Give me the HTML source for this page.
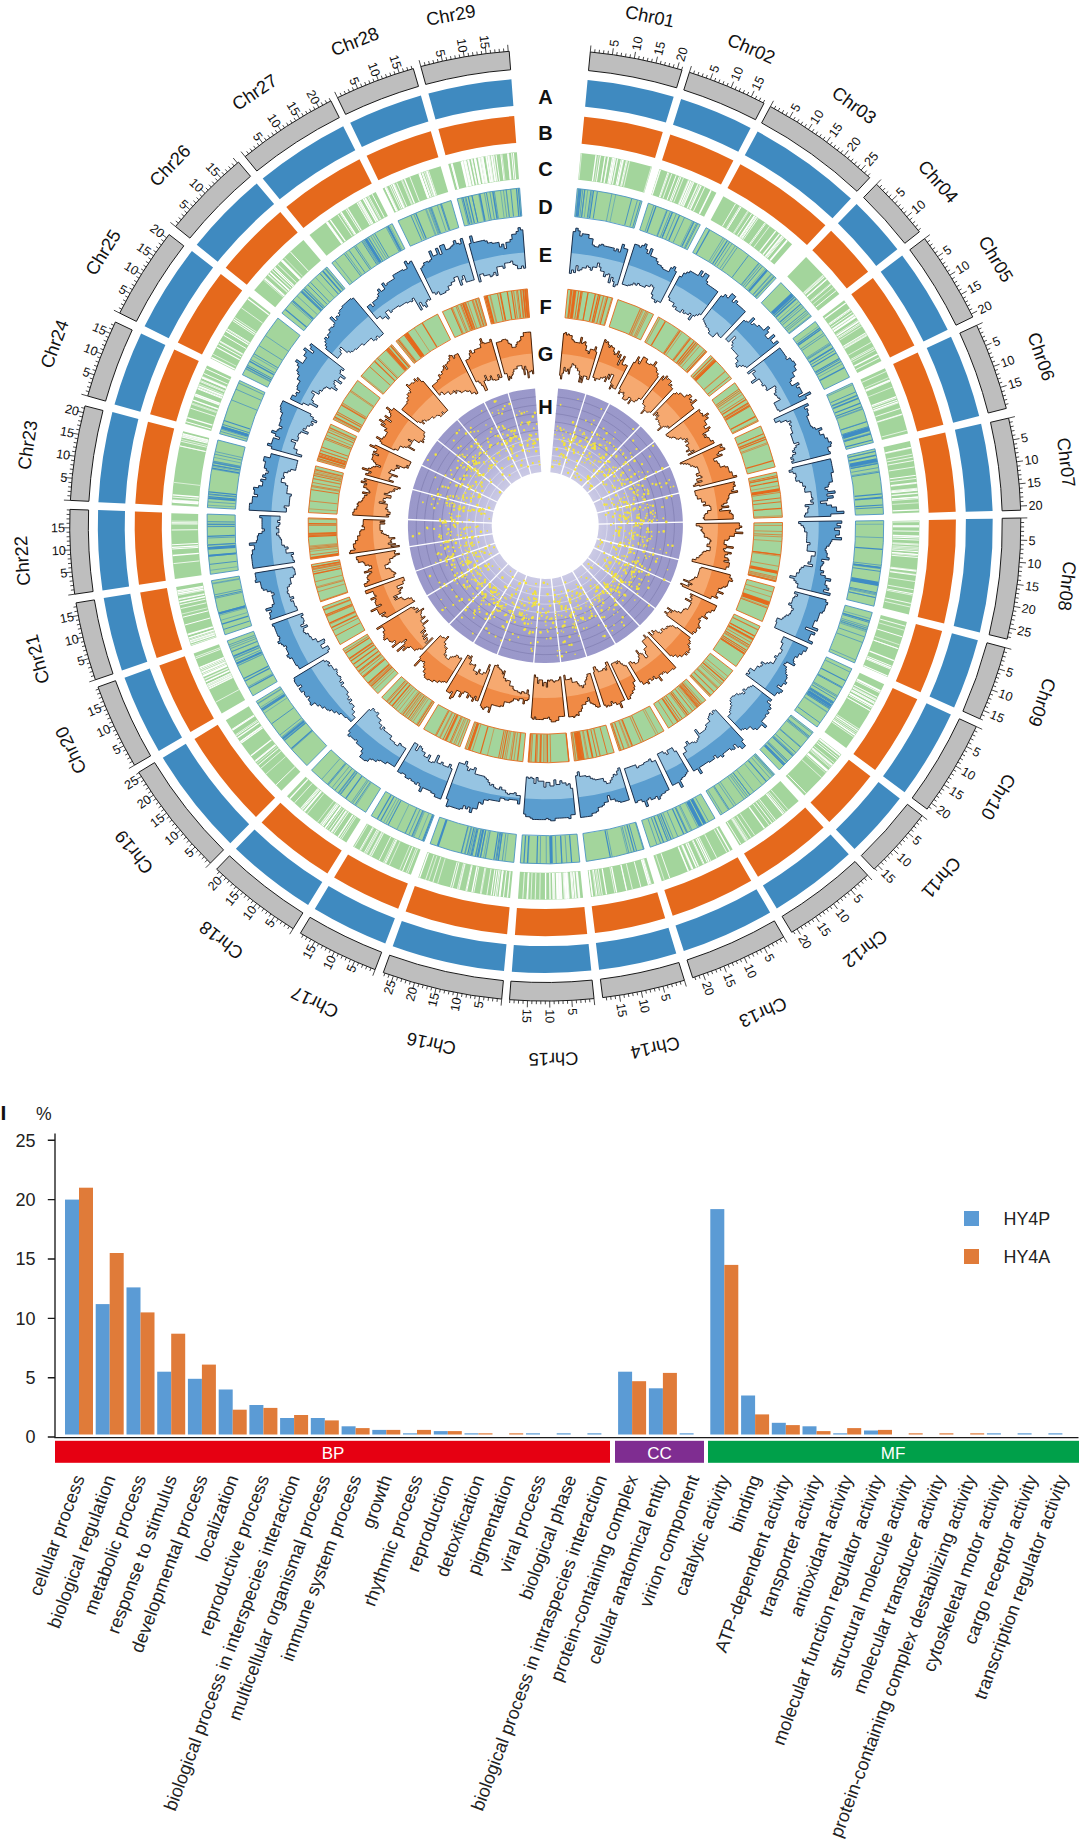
<!DOCTYPE html>
<html lang="en"><head><meta charset="utf-8"><title>Circos and GO classification</title>
<style>html,body{margin:0;padding:0;background:#fff}body{width:1080px;height:1843px;overflow:hidden;font-family:"Liberation Sans",sans-serif}svg{display:block}</style>
</head><body>
<svg width="1080" height="1843" viewBox="0 0 1080 1843" font-family="'Liberation Sans', sans-serif"><g fill="#bebebe" stroke="#1a1a1a" stroke-width="1"><path d="M590.3 52A475.6 475.6 0 0 1 682 70L676.6 87.8A457 457 0 0 0 588.5 70.6Z"/><path d="M689.4 72.3A475.6 475.6 0 0 1 764 103.2L755.5 119.7A457 457 0 0 0 683.8 90Z"/><path d="M770.4 106.5A475.6 475.6 0 0 1 869.7 177.7L857 191.3A457 457 0 0 0 761.6 122.9Z"/><path d="M876.5 184.2A475.6 475.6 0 0 1 919.4 231.8L904.8 243.3A457 457 0 0 0 863.6 197.5Z"/><path d="M924.6 238.6A475.6 475.6 0 0 1 972.8 317L956 325.2A457 457 0 0 0 909.8 249.8Z"/><path d="M976.7 325.3A475.6 475.6 0 0 1 1006.3 408.4L988.2 413A457 457 0 0 0 959.8 333.1Z"/><path d="M1008.6 418.1A475.6 475.6 0 0 1 1020.7 510.2L1002.1 510.8A457 457 0 0 0 990.5 422.3Z"/><path d="M1020.8 518A475.6 475.6 0 0 1 1007.1 639.1L989.1 634.7A457 457 0 0 0 1002.2 518.3Z"/><path d="M1005 647.6A475.6 475.6 0 0 1 979.8 718.8L962.9 711.2A457 457 0 0 0 987 642.8Z"/><path d="M976.3 726.6A475.6 475.6 0 0 1 927.1 809.1L912.2 798A457 457 0 0 0 959.4 718.8Z"/><path d="M922.1 815.7A475.6 475.6 0 0 1 874.2 869.1L861.3 855.6A457 457 0 0 0 907.4 804.3Z"/><path d="M867.6 875.2A475.6 475.6 0 0 1 791.7 932.3L782.1 916.4A457 457 0 0 0 855 861.5Z"/><path d="M783.7 937A475.6 475.6 0 0 1 692.7 977.7L687 960A457 457 0 0 0 774.4 920.9Z"/><path d="M684.4 980.3A475.6 475.6 0 0 1 602.7 997.6L600.4 979.2A457 457 0 0 0 678.9 962.5Z"/><path d="M594 998.6A475.6 475.6 0 0 1 509.5 999.7L510.9 981.2A457 457 0 0 0 592.1 980.1Z"/><path d="M501.7 999.1A475.6 475.6 0 0 1 383.3 972.6L389.6 955.2A457 457 0 0 0 503.4 980.6Z"/><path d="M375.1 969.6A475.6 475.6 0 0 1 300.4 933.2L310 917.3A457 457 0 0 0 381.7 952.2Z"/><path d="M293.1 928.7A475.6 475.6 0 0 1 216.6 869.2L229.5 855.8A457 457 0 0 0 302.9 912.9Z"/><path d="M210.4 863.1A475.6 475.6 0 0 1 138.7 772.3L154.6 762.6A457 457 0 0 0 223.5 849.9Z"/><path d="M134.5 765.2A475.6 475.6 0 0 1 98 687L115.5 680.7A457 457 0 0 0 150.6 755.9Z"/><path d="M95.4 679.8A475.6 475.6 0 0 1 76 602.9L94.4 599.9A457 457 0 0 0 113 673.8Z"/><path d="M74.7 594.2A475.6 475.6 0 0 1 70 509.4L88.6 510A457 457 0 0 0 93.1 591.5Z"/><path d="M70.4 500.4A475.6 475.6 0 0 1 85 405.9L103 410.5A457 457 0 0 0 88.9 501.3Z"/><path d="M87.7 396A475.6 475.6 0 0 1 115.4 322L132.2 330A457 457 0 0 0 105.6 401.1Z"/><path d="M119.7 313.1A475.6 475.6 0 0 1 169.1 234.5L183.8 245.9A457 457 0 0 0 136.4 321.4Z"/><path d="M175.5 226.5A475.6 475.6 0 0 1 238.5 162.1L250.5 176.3A457 457 0 0 0 189.9 238.1Z"/><path d="M245.1 156.6A475.6 475.6 0 0 1 330.9 100.9L339.3 117.6A457 457 0 0 0 256.8 171Z"/><path d="M337.5 97.7A475.6 475.6 0 0 1 413.3 68.6L418.5 86.4A457 457 0 0 0 345.6 114.4Z"/><path d="M420.8 66.5A475.6 475.6 0 0 1 509.2 51.3L510.6 69.8A457 457 0 0 0 425.7 84.4Z"/></g>
<path d="M590.3 52l0.6 -6.5M594.7 52.5l0.3 -3.2M599.1 53l0.4 -3.2M603.5 53.5l0.4 -3.2M608 54l0.4 -3.2M612.4 54.7l0.9 -6.4M616.7 55.3l0.5 -3.2M621.1 56l0.5 -3.2M625.5 56.7l0.5 -3.2M629.9 57.5l0.6 -3.1M634.3 58.3l1.2 -6.4M638.6 59.1l0.6 -3.1M643 60l0.7 -3.1M647.3 61l0.7 -3.1M651.6 61.9l0.7 -3.1M656 63l1.5 -6.3M660.3 64l0.8 -3.1M664.6 65.1l0.8 -3.1M668.9 66.2l0.8 -3.1M673.2 67.4l0.9 -3.1M677.4 68.6l1.8 -6.2M681.7 69.9l0.9 -3.1M689.4 72.3l2 -6.2M693.6 73.6l1 -3M697.9 75l1 -3M702.1 76.5l1.1 -3M706.2 78l1.1 -3M710.4 79.5l2.3 -6.1M714.6 81l1.1 -3M718.7 82.6l1.2 -3M722.8 84.3l1.2 -3M727 86l1.2 -3M731.1 87.7l2.5 -6M735.1 89.4l1.3 -2.9M739.2 91.2l1.3 -2.9M743.2 93.1l1.3 -2.9M747.3 94.9l1.4 -2.9M751.3 96.8l2.8 -5.9M755.3 98.8l1.4 -2.9M759.3 100.7l1.4 -2.9M763.2 102.8l1.5 -2.8M770.4 106.5l3.1 -5.7M774.3 108.7l1.5 -2.8M778.2 110.8l1.6 -2.8M782.1 113l1.6 -2.8M785.9 115.2l1.6 -2.8M789.7 117.5l3.3 -5.6M793.5 119.8l1.7 -2.7M797.3 122.1l1.7 -2.7M801 124.5l1.7 -2.7M804.8 126.9l1.7 -2.7M808.5 129.4l3.6 -5.4M812.2 131.8l1.8 -2.6M815.8 134.3l1.8 -2.6M819.5 136.9l1.8 -2.6M823.1 139.5l1.9 -2.6M826.7 142.1l3.8 -5.2M830.3 144.7l1.9 -2.6M833.8 147.4l1.9 -2.5M837.3 150.1l2 -2.5M840.8 152.9l2 -2.5M844.3 155.6l4.1 -5.1M847.7 158.4l2 -2.5M851.1 161.3l2.1 -2.5M854.5 164.1l2.1 -2.4M857.9 167.1l2.1 -2.4M861.2 170l4.3 -4.9M864.5 173l2.1 -2.4M867.8 175.9l2.2 -2.4M876.5 184.2l4.5 -4.7M879.7 187.3l2.2 -2.3M882.8 190.4l2.3 -2.3M885.9 193.6l2.3 -2.2M889 196.8l2.3 -2.2M892.1 200l4.7 -4.4M895.1 203.3l2.4 -2.2M898.1 206.6l2.4 -2.1M901.1 209.9l2.4 -2.1M904 213.2l2.4 -2.1M906.9 216.6l4.9 -4.2M909.8 219.9l2.5 -2.1M912.6 223.4l2.5 -2M915.4 226.8l2.5 -2M918.2 230.3l2.5 -2M924.6 238.6l5.2 -3.9M927.3 242.2l2.6 -1.9M929.9 245.7l2.6 -1.9M932.5 249.4l2.6 -1.9M935.1 253l2.6 -1.8M937.6 256.6l5.4 -3.7M940.1 260.3l2.7 -1.8M942.6 264l2.7 -1.8M945 267.7l2.7 -1.7M947.4 271.5l2.7 -1.7M949.7 275.2l5.5 -3.4M952 279l2.7 -1.7M954.3 282.8l2.8 -1.6M956.6 286.7l2.8 -1.6M958.8 290.5l2.8 -1.6M961 294.4l5.7 -3.2M963.1 298.3l2.8 -1.5M965.2 302.2l2.8 -1.5M967.3 306.1l2.8 -1.5M969.3 310.1l2.9 -1.4M971.3 314l5.8 -2.9M976.7 325.3l5.9 -2.7M978.5 329.3l2.9 -1.3M980.4 333.3l2.9 -1.3M982.1 337.4l2.9 -1.3M983.9 341.5l3 -1.2M985.6 345.6l6 -2.5M987.2 349.7l3 -1.2M988.8 353.9l3 -1.2M990.4 358l3 -1.1M992 362.2l3 -1.1M993.5 366.4l6.1 -2.2M994.9 370.5l3 -1M996.4 374.7l3 -1M997.8 379l3 -1M999.1 383.2l3.1 -1M1000.4 387.4l6.2 -1.9M1001.7 391.7l3.1 -0.9M1002.9 396l3.1 -0.9M1004.1 400.2l3.1 -0.8M1005.3 404.5l3.1 -0.8M1008.6 418.1l6.3 -1.5M1009.6 422.4l3.1 -0.7M1010.5 426.8l3.1 -0.7M1011.4 431.1l3.1 -0.6M1012.3 435.5l3.1 -0.6M1013.1 439.8l6.4 -1.2M1013.9 444.2l3.2 -0.5M1014.6 448.6l3.2 -0.5M1015.3 453l3.2 -0.5M1016 457.4l3.2 -0.5M1016.6 461.8l6.4 -0.9M1017.2 466.2l3.2 -0.4M1017.7 470.6l3.2 -0.4M1018.2 475l3.2 -0.3M1018.7 479.4l3.2 -0.3M1019.1 483.8l6.5 -0.6M1019.4 488.3l3.2 -0.3M1019.8 492.7l3.2 -0.2M1020.1 497.1l3.2 -0.2M1020.3 501.6l3.2 -0.2M1020.5 506l6.5 -0.3M1020.8 518l6.5 -0.1M1020.9 522.5l3.2 0M1020.9 526.9l3.2 0M1020.9 531.4l3.2 0M1020.8 535.8l3.2 0.1M1020.7 540.2l6.5 0.2M1020.5 544.7l3.2 0.1M1020.3 549.1l3.2 0.2M1020.1 553.5l3.2 0.2M1019.8 558l3.2 0.2M1019.5 562.4l6.5 0.5M1019.1 566.8l3.2 0.3M1018.7 571.2l3.2 0.3M1018.2 575.7l3.2 0.3M1017.8 580.1l3.2 0.4M1017.2 584.5l6.4 0.8M1016.7 588.9l3.2 0.4M1016 593.3l3.2 0.5M1015.4 597.7l3.2 0.5M1014.7 602.1l3.2 0.5M1014 606.5l6.4 1.1M1013.2 610.8l3.1 0.6M1012.4 615.2l3.1 0.6M1011.5 619.5l3.1 0.6M1010.6 623.9l3.1 0.7M1009.7 628.2l6.3 1.4M1008.7 632.6l3.1 0.7M1007.7 636.9l3.1 0.7M1005 647.6l6.3 1.7M1003.8 651.8l3.1 0.9M1002.6 656.1l3.1 0.9M1001.4 660.4l3.1 0.9M1000.1 664.6l3.1 0.9M998.8 668.9l6.2 2M997.4 673.1l3 1M996 677.3l3 1M994.6 681.5l3 1M993.1 685.7l3 1.1M991.6 689.9l6.1 2.2M990 694l3 1.1M988.4 698.2l3 1.2M986.8 702.3l3 1.2M985.1 706.4l3 1.2M983.4 710.5l6 2.5M981.7 714.6l2.9 1.3M979.9 718.7l2.9 1.3M976.3 726.6l5.9 2.7M974.4 730.7l2.9 1.4M972.4 734.7l2.9 1.4M970.5 738.6l2.9 1.4M968.5 742.6l2.8 1.5M966.4 746.5l5.8 3M964.3 750.5l2.8 1.5M962.2 754.4l2.8 1.5M960.1 758.3l2.8 1.6M957.9 762.1l2.8 1.6M955.6 766l5.6 3.3M953.4 769.8l2.7 1.6M951.1 773.6l2.7 1.7M948.7 777.4l2.7 1.7M946.4 781.1l2.7 1.7M944 784.8l5.4 3.5M941.5 788.6l2.7 1.8M939.1 792.2l2.6 1.8M936.5 795.9l2.6 1.8M934 799.5l2.6 1.8M931.4 803.2l5.3 3.8M928.8 806.8l2.6 1.9M922.1 815.7l5.1 4M919.4 819.2l2.5 2M916.6 822.7l2.5 2M913.8 826.1l2.5 2M911 829.6l2.5 2M908.2 833l5 4.2M905.3 836.3l2.4 2.1M902.4 839.7l2.4 2.1M899.4 843l2.4 2.1M896.4 846.3l2.4 2.2M893.4 849.6l4.8 4.4M890.4 852.8l2.3 2.2M887.3 856l2.3 2.2M884.2 859.2l2.3 2.2M881.1 862.3l2.3 2.3M877.9 865.4l4.5 4.6M874.7 868.5l2.2 2.3M867.6 875.2l4.4 4.8M864.4 878.2l2.1 2.4M861.1 881.2l2.1 2.4M857.7 884.1l2.1 2.4M854.4 887l2.1 2.4M851 889.9l4.2 5M847.6 892.7l2 2.5M844.1 895.5l2 2.5M840.7 898.3l2 2.5M837.2 901l2 2.5M833.6 903.7l3.9 5.2M830.1 906.4l1.9 2.6M826.5 909l1.9 2.6M822.9 911.7l1.9 2.6M819.3 914.2l1.8 2.6M815.7 916.8l3.7 5.3M812 919.3l1.8 2.6M808.3 921.8l1.8 2.7M804.6 924.2l1.7 2.7M800.9 926.6l1.7 2.7M797.1 929l3.4 5.5M793.3 931.3l1.7 2.7M783.7 937l3.3 5.6M779.9 939.2l1.6 2.8M776 941.4l1.6 2.8M772.1 943.5l1.5 2.8M768.2 945.6l1.5 2.8M764.3 947.7l3 5.8M760.3 949.7l1.4 2.9M756.4 951.7l1.4 2.9M752.4 953.7l1.4 2.9M748.4 955.6l1.4 2.9M744.3 957.4l2.7 5.9M740.3 959.3l1.3 2.9M736.2 961.1l1.3 2.9M732.2 962.9l1.3 2.9M728.1 964.6l1.2 3M724 966.3l2.4 6M719.8 967.9l1.2 3M715.7 969.5l1.1 3M711.5 971.1l1.1 3M707.4 972.6l1.1 3M703.2 974.1l2.2 6.1M699 975.6l1 3M694.8 977l1 3M684.4 980.3l1.9 6.2M680.1 981.6l0.9 3.1M675.8 982.8l0.9 3.1M671.6 984l0.8 3.1M667.3 985.2l0.8 3.1M663 986.3l1.6 6.3M658.7 987.4l0.8 3.1M654.3 988.4l0.7 3.1M650 989.4l0.7 3.1M645.7 990.4l0.7 3.1M641.3 991.3l1.3 6.4M637 992.2l0.6 3.1M632.6 993l0.6 3.1M628.3 993.8l0.6 3.2M623.9 994.6l0.5 3.2M619.5 995.3l1 6.4M615.1 995.9l0.5 3.2M610.7 996.6l0.4 3.2M606.3 997.2l0.4 3.2M594 998.6l0.7 6.5M589.6 999l0.3 3.2M585.2 999.4l0.3 3.2M580.8 999.8l0.2 3.2M576.3 1000.1l0.2 3.2M571.9 1000.4l0.4 6.5M567.5 1000.6l0.1 3.2M563 1000.8l0.1 3.2M558.6 1000.9l0.1 3.2M554.1 1001l0.1 3.2M549.7 1001.1l0.1 6.5M545.3 1001.1l0 3.2M540.8 1001.1l0 3.2M536.4 1001l-0.1 3.2M531.9 1000.9l-0.1 3.2M527.5 1000.8l-0.2 6.5M523.1 1000.6l-0.1 3.2M518.6 1000.4l-0.2 3.2M514.2 1000.1l-0.2 3.2M509.8 999.8l-0.2 3.2M501.7 999.1l-0.6 6.5M497.3 998.7l-0.3 3.2M492.9 998.2l-0.4 3.2M488.5 997.7l-0.4 3.2M484 997.1l-0.4 3.2M479.6 996.5l-0.9 6.4M475.2 995.9l-0.5 3.2M470.9 995.2l-0.5 3.2M466.5 994.5l-0.5 3.2M462.1 993.8l-0.6 3.2M457.7 993l-1.2 6.4M453.4 992.1l-0.6 3.1M449 991.3l-0.6 3.1M444.7 990.3l-0.7 3.1M440.3 989.4l-0.7 3.1M436 988.4l-1.5 6.3M431.7 987.3l-0.8 3.1M427.4 986.3l-0.8 3.1M423.1 985.1l-0.8 3.1M418.8 984l-0.9 3.1M414.5 982.8l-1.8 6.2M410.3 981.5l-0.9 3.1M406 980.2l-0.9 3.1M401.8 978.9l-1 3.1M397.5 977.6l-1 3M393.3 976.2l-2.1 6.2M389.1 974.7l-1.1 3M384.9 973.2l-1.1 3M375.1 969.6l-2.3 6.1M371 968l-1.2 3M366.8 966.3l-1.2 3M362.7 964.7l-1.2 3M358.6 962.9l-1.3 2.9M354.6 961.2l-2.6 6M350.5 959.4l-1.3 2.9M346.4 957.5l-1.3 2.9M342.4 955.7l-1.4 2.9M338.4 953.7l-1.4 2.9M334.4 951.8l-2.9 5.8M330.5 949.8l-1.4 2.9M326.5 947.8l-1.5 2.8M322.6 945.7l-1.5 2.8M318.7 943.6l-1.5 2.8M314.8 941.5l-3.2 5.7M310.9 939.3l-1.6 2.8M307 937.1l-1.6 2.8M303.2 934.9l-1.6 2.8M293.1 928.7l-3.4 5.5M289.3 926.3l-1.7 2.7M285.6 923.9l-1.7 2.7M281.9 921.5l-1.8 2.7M278.2 919l-1.8 2.6M274.5 916.5l-3.7 5.3M270.9 913.9l-1.8 2.6M267.3 911.4l-1.9 2.6M263.7 908.8l-1.9 2.6M260.1 906.1l-1.9 2.6M256.6 903.4l-3.9 5.2M253 900.7l-2 2.5M249.6 898l-2 2.5M246.1 895.2l-2 2.5M242.7 892.4l-2 2.5M239.2 889.5l-4.2 5M235.9 886.7l-2.1 2.4M232.5 883.8l-2.1 2.4M229.2 880.8l-2.1 2.4M225.9 877.9l-2.1 2.4M222.6 874.9l-4.4 4.8M219.3 871.8l-2.2 2.3M210.4 863.1l-4.6 4.6M207.2 860l-2.3 2.3M204.1 856.8l-2.3 2.2M201 853.6l-2.3 2.2M198 850.4l-2.3 2.2M195 847.1l-4.8 4.4M192 843.9l-2.4 2.1M189 840.5l-2.4 2.1M186.1 837.2l-2.4 2.1M183.2 833.8l-2.4 2.1M180.3 830.4l-5 4.2M177.5 827l-2.5 2M174.7 823.6l-2.5 2M171.9 820.1l-2.5 2M169.2 816.6l-2.5 2M166.5 813.1l-5.2 3.9M163.8 809.5l-2.6 1.9M161.2 806l-2.6 1.9M158.6 802.4l-2.6 1.9M156 798.7l-2.6 1.8M153.5 795.1l-5.4 3.7M151 791.4l-2.7 1.8M148.5 787.7l-2.7 1.8M146.1 784l-2.7 1.7M143.7 780.3l-2.7 1.7M141.3 776.5l-5.5 3.4M139 772.7l-2.7 1.7M134.5 765.2l-5.6 3.3M132.3 761.4l-2.8 1.6M130.1 757.5l-2.8 1.6M128 753.6l-2.8 1.5M125.9 749.7l-2.8 1.5M123.8 745.8l-5.8 3M121.8 741.9l-2.8 1.5M119.8 737.9l-2.9 1.4M117.8 733.9l-2.9 1.4M115.9 729.9l-2.9 1.4M114 725.9l-5.9 2.7M112.1 721.9l-2.9 1.3M110.3 717.8l-2.9 1.3M108.5 713.7l-2.9 1.3M106.8 709.6l-3 1.2M105.1 705.5l-6 2.5M103.4 701.4l-3 1.2M101.8 697.3l-3 1.2M100.2 693.1l-3 1.1M98.7 689l-3 1.1M95.4 679.8l-6.1 2.1M94 675.6l-3 1M92.6 671.4l-3 1M91.3 667.1l-3.1 1M90 662.9l-3.1 0.9M88.7 658.6l-6.2 1.8M87.5 654.4l-3.1 0.9M86.3 650.1l-3.1 0.8M85.2 645.8l-3.1 0.8M84.1 641.5l-3.1 0.8M83 637.2l-6.3 1.5M82 632.9l-3.1 0.7M81 628.5l-3.1 0.7M80 624.2l-3.1 0.7M79.1 619.8l-3.1 0.6M78.3 615.5l-6.4 1.2M77.5 611.1l-3.1 0.6M76.7 606.7l-3.2 0.5M74.7 594.2l-6.4 0.9M74.1 589.8l-3.2 0.4M73.5 585.4l-3.2 0.4M72.9 580.9l-3.2 0.4M72.4 576.5l-3.2 0.3M72 572.1l-6.5 0.6M71.6 567.7l-3.2 0.3M71.2 563.3l-3.2 0.3M70.9 558.8l-3.2 0.2M70.6 554.4l-3.2 0.2M70.3 550l-6.5 0.3M70.1 545.5l-3.2 0.1M70 541.1l-3.2 0.1M69.8 536.7l-3.2 0.1M69.7 532.2l-3.2 0M69.7 527.8l-6.5 0M69.7 523.3l-3.2 0M69.7 518.9l-3.2 0M69.8 514.5l-3.2 -0.1M70 510l-3.2 -0.1M70.4 500.4l-6.5 -0.3M70.6 495.9l-3.2 -0.2M70.9 491.5l-3.2 -0.2M71.3 487.1l-3.2 -0.3M71.6 482.6l-3.2 -0.3M72.1 478.2l-6.5 -0.6M72.5 473.8l-3.2 -0.3M73 469.4l-3.2 -0.4M73.6 465l-3.2 -0.4M74.2 460.6l-3.2 -0.4M74.8 456.2l-6.4 -0.9M75.4 451.8l-3.2 -0.5M76.2 447.4l-3.2 -0.5M76.9 443l-3.2 -0.6M77.7 438.7l-3.1 -0.6M78.5 434.3l-6.4 -1.2M79.4 429.9l-3.1 -0.6M80.3 425.6l-3.1 -0.7M81.3 421.3l-3.1 -0.7M82.3 416.9l-3.1 -0.7M83.3 412.6l-6.3 -1.5M84.4 408.3l-3.1 -0.8M87.7 396l-6.3 -1.8M88.9 391.7l-3.1 -0.9M90.2 387.5l-3.1 -0.9M91.5 383.2l-3.1 -1M92.8 379l-3 -1M94.2 374.8l-6.2 -2.1M95.6 370.6l-3 -1M97.1 366.4l-3 -1.1M98.6 362.2l-3 -1.1M100.2 358l-3 -1.1M101.7 353.9l-6.1 -2.3M103.4 349.8l-3 -1.2M105 345.6l-3 -1.2M106.7 341.5l-3 -1.2M108.5 337.5l-2.9 -1.3M110.2 333.4l-5.9 -2.6M112 329.3l-2.9 -1.3M113.9 325.3l-2.9 -1.3M119.7 313.1l-5.8 -2.9M121.7 309.2l-2.8 -1.5M123.8 305.2l-2.8 -1.5M125.9 301.3l-2.8 -1.5M128 297.4l-2.8 -1.5M130.1 293.5l-5.7 -3.2M132.3 289.6l-2.8 -1.6M134.5 285.8l-2.8 -1.6M136.8 282l-2.7 -1.6M139.1 278.2l-2.7 -1.7M141.4 274.4l-5.5 -3.4M143.8 270.6l-2.7 -1.7M146.2 266.9l-2.7 -1.7M148.6 263.2l-2.7 -1.8M151.1 259.5l-2.7 -1.8M153.6 255.8l-5.4 -3.7M156.1 252.2l-2.6 -1.8M158.7 248.5l-2.6 -1.9M161.3 244.9l-2.6 -1.9M163.9 241.4l-2.6 -1.9M166.6 237.8l-5.2 -3.9M175.5 226.5l-5.1 -4.1M178.3 223l-2.5 -2M181.1 219.6l-2.5 -2.1M184 216.2l-2.4 -2.1M186.9 212.9l-2.4 -2.1M189.8 209.5l-4.9 -4.3M192.8 206.2l-2.4 -2.1M195.8 202.9l-2.4 -2.2M198.8 199.7l-2.3 -2.2M201.9 196.5l-2.3 -2.2M205 193.3l-4.7 -4.5M208.1 190.1l-2.3 -2.3M211.2 187l-2.2 -2.3M214.4 183.9l-2.2 -2.3M217.6 180.8l-2.2 -2.3M220.9 177.8l-4.4 -4.8M224.1 174.7l-2.2 -2.4M227.4 171.8l-2.1 -2.4M230.7 168.8l-2.1 -2.4M234.1 165.9l-2.1 -2.4M237.4 163l-4.2 -5M245.1 156.6l-4.1 -5M248.6 153.8l-2 -2.5M252 151.1l-2 -2.5M255.5 148.4l-1.9 -2.5M259.1 145.7l-1.9 -2.6M262.6 143l-3.9 -5.2M266.2 140.4l-1.9 -2.6M269.8 137.8l-1.9 -2.6M273.5 135.2l-1.8 -2.6M277.1 132.7l-1.8 -2.6M280.8 130.2l-3.6 -5.4M284.5 127.8l-1.8 -2.7M288.2 125.4l-1.7 -2.7M292 123l-1.7 -2.7M295.7 120.6l-1.7 -2.7M299.5 118.3l-3.4 -5.6M303.3 116l-1.6 -2.8M307.2 113.8l-1.6 -2.8M311 111.6l-1.6 -2.8M314.9 109.4l-1.6 -2.8M318.8 107.3l-3.1 -5.7M322.7 105.2l-1.5 -2.8M326.7 103.1l-1.5 -2.8M330.6 101.1l-1.4 -2.9M337.5 97.7l-2.8 -5.8M341.5 95.8l-1.4 -2.9M345.5 93.9l-1.3 -2.9M349.5 92.1l-1.3 -2.9M353.6 90.2l-1.3 -2.9M357.7 88.5l-2.6 -6M361.8 86.7l-1.2 -3M365.9 85l-1.2 -3M370 83.4l-1.2 -3M374.1 81.8l-1.2 -3M378.3 80.2l-2.3 -6.1M382.4 78.7l-1.1 -3M386.6 77.2l-1.1 -3M390.8 75.7l-1 -3M395 74.3l-1 -3M399.2 72.9l-2 -6.2M403.5 71.5l-1 -3.1M407.7 70.2l-0.9 -3.1M412 69l-0.9 -3.1M420.8 66.5l-1.7 -6.3M425.1 65.3l-0.8 -3.1M429.4 64.2l-0.8 -3.1M433.7 63.2l-0.8 -3.1M438.1 62.1l-0.7 -3.1M442.4 61.2l-1.4 -6.3M446.7 60.2l-0.7 -3.1M451.1 59.3l-0.6 -3.1M455.4 58.5l-0.6 -3.1M459.8 57.6l-0.6 -3.1M464.2 56.9l-1.1 -6.4M468.6 56.1l-0.5 -3.2M473 55.4l-0.5 -3.2M477.3 54.8l-0.5 -3.2M481.7 54.2l-0.4 -3.2M486.1 53.6l-0.8 -6.4M490.6 53.1l-0.4 -3.2M495 52.6l-0.3 -3.2M499.4 52.1l-0.3 -3.2M503.8 51.7l-0.3 -3.2M508.2 51.3l-0.5 -6.5" stroke="#1a1a1a" stroke-width="0.8" fill="none"/>
<g font-size="12.6" fill="#111"><text transform="translate(613.5 46.7) rotate(-81.9)" text-anchor="start" dy="0.35em">5</text><text transform="translate(635.8 50.4) rotate(-79.2)" text-anchor="start" dy="0.35em">10</text><text transform="translate(657.8 55.2) rotate(-76.5)" text-anchor="start" dy="0.35em">15</text><text transform="translate(679.7 60.9) rotate(-73.9)" text-anchor="start" dy="0.35em">20</text><text transform="translate(713.2 72) rotate(-69.7)" text-anchor="start" dy="0.35em">5</text><text transform="translate(734.2 80.3) rotate(-67)" text-anchor="start" dy="0.35em">10</text><text transform="translate(754.8 89.6) rotate(-64.3)" text-anchor="start" dy="0.35em">15</text><text transform="translate(793.8 110.6) rotate(-59.1)" text-anchor="start" dy="0.35em">5</text><text transform="translate(812.9 122.7) rotate(-56.4)" text-anchor="start" dy="0.35em">10</text><text transform="translate(831.4 135.6) rotate(-53.7)" text-anchor="start" dy="0.35em">15</text><text transform="translate(849.3 149.4) rotate(-51)" text-anchor="start" dy="0.35em">20</text><text transform="translate(866.5 164) rotate(-48.4)" text-anchor="start" dy="0.35em">25</text><text transform="translate(897.9 194.5) rotate(-43.2)" text-anchor="start" dy="0.35em">5</text><text transform="translate(913 211.4) rotate(-40.5)" text-anchor="start" dy="0.35em">10</text><text transform="translate(944.2 252.1) rotate(-34.4)" text-anchor="start" dy="0.35em">5</text><text transform="translate(956.5 271) rotate(-31.8)" text-anchor="start" dy="0.35em">10</text><text transform="translate(968 290.5) rotate(-29.1)" text-anchor="start" dy="0.35em">15</text><text transform="translate(978.5 310.5) rotate(-26.4)" text-anchor="start" dy="0.35em">20</text><text transform="translate(993 342.6) rotate(-22.2)" text-anchor="start" dy="0.35em">5</text><text transform="translate(1001 363.7) rotate(-19.6)" text-anchor="start" dy="0.35em">10</text><text transform="translate(1008.1 385.1) rotate(-16.9)" text-anchor="start" dy="0.35em">15</text><text transform="translate(1021 438.4) rotate(-10.4)" text-anchor="start" dy="0.35em">5</text><text transform="translate(1024.5 460.7) rotate(-7.7)" text-anchor="start" dy="0.35em">10</text><text transform="translate(1027 483.1) rotate(-5)" text-anchor="start" dy="0.35em">15</text><text transform="translate(1028.5 505.7) rotate(-2.3)" text-anchor="start" dy="0.35em">20</text><text transform="translate(1028.7 540.5) rotate(1.8)" text-anchor="start" dy="0.35em">5</text><text transform="translate(1027.4 563) rotate(4.4)" text-anchor="start" dy="0.35em">10</text><text transform="translate(1025.2 585.5) rotate(7.1)" text-anchor="start" dy="0.35em">15</text><text transform="translate(1021.8 607.8) rotate(9.8)" text-anchor="start" dy="0.35em">20</text><text transform="translate(1017.5 630) rotate(12.5)" text-anchor="start" dy="0.35em">25</text><text transform="translate(1006.4 671.3) rotate(17.5)" text-anchor="start" dy="0.35em">5</text><text transform="translate(999.1 692.6) rotate(20.2)" text-anchor="start" dy="0.35em">10</text><text transform="translate(990.8 713.6) rotate(22.9)" text-anchor="start" dy="0.35em">15</text><text transform="translate(973.5 750.3) rotate(27.7)" text-anchor="start" dy="0.35em">5</text><text transform="translate(962.5 770) rotate(30.4)" text-anchor="start" dy="0.35em">10</text><text transform="translate(950.7 789.2) rotate(33)" text-anchor="start" dy="0.35em">15</text><text transform="translate(937.9 807.8) rotate(35.7)" text-anchor="start" dy="0.35em">20</text><text transform="translate(914.3 838.1) rotate(40.3)" text-anchor="start" dy="0.35em">5</text><text transform="translate(899.3 855) rotate(42.9)" text-anchor="start" dy="0.35em">10</text><text transform="translate(883.5 871.2) rotate(45.6)" text-anchor="start" dy="0.35em">15</text><text transform="translate(856.1 896) rotate(50)" text-anchor="start" dy="0.35em">5</text><text transform="translate(838.5 910.1) rotate(52.7)" text-anchor="start" dy="0.35em">10</text><text transform="translate(820.2 923.4) rotate(55.4)" text-anchor="start" dy="0.35em">15</text><text transform="translate(801.4 935.8) rotate(58)" text-anchor="start" dy="0.35em">20</text><text transform="translate(768 954.8) rotate(62.6)" text-anchor="start" dy="0.35em">5</text><text transform="translate(747.7 964.7) rotate(65.3)" text-anchor="start" dy="0.35em">10</text><text transform="translate(727 973.7) rotate(67.9)" text-anchor="start" dy="0.35em">15</text><text transform="translate(705.9 981.7) rotate(70.6)" text-anchor="start" dy="0.35em">20</text><text transform="translate(665 994.1) rotate(75.7)" text-anchor="start" dy="0.35em">5</text><text transform="translate(643 999.1) rotate(78.3)" text-anchor="start" dy="0.35em">10</text><text transform="translate(620.7 1003.2) rotate(81)" text-anchor="start" dy="0.35em">15</text><text transform="translate(572.3 1008.3) rotate(86.8)" text-anchor="start" dy="0.35em">5</text><text transform="translate(549.8 1009.1) rotate(89.5)" text-anchor="start" dy="0.35em">10</text><text transform="translate(527.2 1008.8) rotate(92.1)" text-anchor="start" dy="0.35em">15</text><text transform="translate(479 1001.1) rotate(277.9)" text-anchor="end" dy="0.35em">5</text><text transform="translate(456.9 997.5) rotate(280.6)" text-anchor="end" dy="0.35em">10</text><text transform="translate(435 992.8) rotate(283.3)" text-anchor="end" dy="0.35em">15</text><text transform="translate(413.3 987.2) rotate(286)" text-anchor="end" dy="0.35em">20</text><text transform="translate(391.9 980.5) rotate(288.6)" text-anchor="end" dy="0.35em">25</text><text transform="translate(352.7 965.4) rotate(293.6)" text-anchor="end" dy="0.35em">5</text><text transform="translate(332.4 955.9) rotate(296.3)" text-anchor="end" dy="0.35em">10</text><text transform="translate(312.5 945.5) rotate(299)" text-anchor="end" dy="0.35em">15</text><text transform="translate(271.9 920.3) rotate(304.7)" text-anchor="end" dy="0.35em">5</text><text transform="translate(253.8 907.1) rotate(307.4)" text-anchor="end" dy="0.35em">10</text><text transform="translate(236.3 893.1) rotate(310.1)" text-anchor="end" dy="0.35em">15</text><text transform="translate(219.5 878.2) rotate(312.7)" text-anchor="end" dy="0.35em">20</text><text transform="translate(191.6 850.3) rotate(317.4)" text-anchor="end" dy="0.35em">5</text><text transform="translate(176.8 833.4) rotate(320.1)" text-anchor="end" dy="0.35em">10</text><text transform="translate(162.8 815.9) rotate(322.8)" text-anchor="end" dy="0.35em">15</text><text transform="translate(149.7 797.7) rotate(325.5)" text-anchor="end" dy="0.35em">20</text><text transform="translate(137.4 778.9) rotate(328.1)" text-anchor="end" dy="0.35em">25</text><text transform="translate(119.7 747.9) rotate(332.4)" text-anchor="end" dy="0.35em">5</text><text transform="translate(109.8 727.8) rotate(335.1)" text-anchor="end" dy="0.35em">10</text><text transform="translate(100.8 707.3) rotate(337.8)" text-anchor="end" dy="0.35em">15</text><text transform="translate(84.3 659.9) rotate(343.7)" text-anchor="end" dy="0.35em">5</text><text transform="translate(78.5 638.3) rotate(346.4)" text-anchor="end" dy="0.35em">10</text><text transform="translate(73.8 616.3) rotate(349.1)" text-anchor="end" dy="0.35em">15</text><text transform="translate(67.4 572.6) rotate(354.4)" text-anchor="end" dy="0.35em">5</text><text transform="translate(65.7 550.2) rotate(357.1)" text-anchor="end" dy="0.35em">10</text><text transform="translate(65.1 527.8) rotate(359.7)" text-anchor="end" dy="0.35em">15</text><text transform="translate(67.5 477.8) rotate(365.7)" text-anchor="end" dy="0.35em">5</text><text transform="translate(70.2 455.5) rotate(368.4)" text-anchor="end" dy="0.35em">10</text><text transform="translate(74 433.4) rotate(371.1)" text-anchor="end" dy="0.35em">15</text><text transform="translate(78.8 411.5) rotate(373.7)" text-anchor="end" dy="0.35em">20</text><text transform="translate(89.8 373.3) rotate(378.5)" text-anchor="end" dy="0.35em">5</text><text transform="translate(97.4 352.2) rotate(381.2)" text-anchor="end" dy="0.35em">10</text><text transform="translate(106 331.5) rotate(383.8)" text-anchor="end" dy="0.35em">15</text><text transform="translate(126.1 291.3) rotate(389.2)" text-anchor="end" dy="0.35em">5</text><text transform="translate(137.5 272) rotate(391.9)" text-anchor="end" dy="0.35em">10</text><text transform="translate(149.8 253.2) rotate(394.5)" text-anchor="end" dy="0.35em">15</text><text transform="translate(162.9 235) rotate(397.2)" text-anchor="end" dy="0.35em">20</text><text transform="translate(186.4 206.5) rotate(401.6)" text-anchor="end" dy="0.35em">5</text><text transform="translate(201.7 190.1) rotate(404.3)" text-anchor="end" dy="0.35em">10</text><text transform="translate(217.7 174.4) rotate(407)" text-anchor="end" dy="0.35em">15</text><text transform="translate(259.9 139.3) rotate(413.5)" text-anchor="end" dy="0.35em">5</text><text transform="translate(278.2 126.4) rotate(416.2)" text-anchor="end" dy="0.35em">10</text><text transform="translate(297.2 114.4) rotate(418.9)" text-anchor="end" dy="0.35em">15</text><text transform="translate(316.6 103.3) rotate(421.6)" text-anchor="end" dy="0.35em">20</text><text transform="translate(355.9 84.2) rotate(426.8)" text-anchor="end" dy="0.35em">5</text><text transform="translate(376.7 75.9) rotate(429.4)" text-anchor="end" dy="0.35em">10</text><text transform="translate(397.8 68.5) rotate(432.1)" text-anchor="end" dy="0.35em">15</text><text transform="translate(441.4 56.7) rotate(437.5)" text-anchor="end" dy="0.35em">5</text><text transform="translate(463.4 52.3) rotate(440.2)" text-anchor="end" dy="0.35em">10</text><text transform="translate(485.6 49) rotate(442.9)" text-anchor="end" dy="0.35em">15</text></g>
<g font-size="18.3" fill="#111"><text transform="translate(650 16.1) rotate(11.6)" text-anchor="middle" dy="0.36em">Chr01</text><text transform="translate(751.4 48.3) rotate(23.4)" text-anchor="middle" dy="0.36em">Chr02</text><text transform="translate(854.4 105) rotate(36.3)" text-anchor="middle" dy="0.36em">Chr03</text><text transform="translate(938.4 181.4) rotate(48.8)" text-anchor="middle" dy="0.36em">Chr04</text><text transform="translate(996.2 258.9) rotate(59.4)" text-anchor="middle" dy="0.36em">Chr05</text><text transform="translate(1041.5 356.4) rotate(71.2)" text-anchor="middle" dy="0.36em">Chr06</text><text transform="translate(1066.5 462.4) rotate(83.1)" text-anchor="middle" dy="0.36em">Chr07</text><text transform="translate(1067.5 586.2) rotate(96.6)" text-anchor="middle" dy="0.36em">Chr08</text><text transform="translate(1042.4 702.5) rotate(109.6)" text-anchor="middle" dy="0.36em">Chr09</text><text transform="translate(998.6 796.9) rotate(120.9)" text-anchor="middle" dy="0.36em">Chr10</text><text transform="translate(941.6 878) rotate(131.7)" text-anchor="middle" dy="0.36em">Chr11</text><text transform="translate(865.6 949) rotate(142.9)" text-anchor="middle" dy="0.36em">Chr12</text><text transform="translate(763.2 1012.6) rotate(155.9)" text-anchor="middle" dy="0.36em">Chr13</text><text transform="translate(655.2 1048.1) rotate(168.1)" text-anchor="middle" dy="0.36em">Chr14</text><text transform="translate(553.5 1059.3) rotate(179.1)" text-anchor="middle" dy="0.36em">Chr15</text><text transform="translate(431.3 1043.9) rotate(-167.6)" text-anchor="middle" dy="0.36em">Chr16</text><text transform="translate(314.6 1002.5) rotate(-154.2)" text-anchor="middle" dy="0.36em">Chr17</text><text transform="translate(221.1 940.6) rotate(-142)" text-anchor="middle" dy="0.36em">Chr18</text><text transform="translate(133.7 852.5) rotate(-128.5)" text-anchor="middle" dy="0.36em">Chr19</text><text transform="translate(70.5 750.4) rotate(-115.3)" text-anchor="middle" dy="0.36em">Chr20</text><text transform="translate(37.1 659.3) rotate(-104.8)" text-anchor="middle" dy="0.36em">Chr21</text><text transform="translate(21.9 560.9) rotate(-93.9)" text-anchor="middle" dy="0.36em">Chr22</text><text transform="translate(27.2 445) rotate(-81.2)" text-anchor="middle" dy="0.36em">Chr23</text><text transform="translate(54.2 343.9) rotate(-69.7)" text-anchor="middle" dy="0.36em">Chr24</text><text transform="translate(102.8 252.2) rotate(-58.3)" text-anchor="middle" dy="0.36em">Chr25</text><text transform="translate(169.8 165.2) rotate(-46.2)" text-anchor="middle" dy="0.36em">Chr26</text><text transform="translate(254.4 92) rotate(-33.9)" text-anchor="middle" dy="0.36em">Chr27</text><text transform="translate(354.7 41.3) rotate(-21.5)" text-anchor="middle" dy="0.36em">Chr28</text><text transform="translate(450.8 14.8) rotate(-10.5)" text-anchor="middle" dy="0.36em">Chr29</text></g>
<g fill="#3f8ac0" ><path d="M587.6 80A447.5 447.5 0 0 1 673.7 96.8L665.9 122.6A420.6 420.6 0 0 0 585.1 106.8Z"/><path d="M681.1 99.1A447.5 447.5 0 0 1 750.6 127.9L738.3 151.8A420.6 420.6 0 0 0 673 124.7Z"/><path d="M757.6 131.5A447.5 447.5 0 0 1 850.9 198.6L832.5 218.2A420.6 420.6 0 0 0 744.8 155.2Z"/><path d="M856.6 204A447.5 447.5 0 0 1 897.4 249.3L876.2 265.9A420.6 420.6 0 0 0 837.9 223.3Z"/><path d="M902.2 255.5A447.5 447.5 0 0 1 947.7 329.7L923.5 341.4A420.6 420.6 0 0 0 880.7 271.7Z"/><path d="M951 336.7A447.5 447.5 0 0 1 979.2 416.1L953.1 422.7A420.6 420.6 0 0 0 926.7 348.1Z"/><path d="M981.1 423.7A447.5 447.5 0 0 1 992.6 510.9L965.7 511.8A420.6 420.6 0 0 0 954.9 429.8Z"/><path d="M992.7 518.7A447.5 447.5 0 0 1 979.8 632.6L953.7 626.1A420.6 420.6 0 0 0 965.9 519.1Z"/><path d="M977.9 640.2A447.5 447.5 0 0 1 954.1 707.5L929.5 696.6A420.6 420.6 0 0 0 951.9 633.3Z"/><path d="M950.9 714.6A447.5 447.5 0 0 1 904.6 792.3L883 776.3A420.6 420.6 0 0 0 926.5 703.3Z"/><path d="M899.8 798.5A447.5 447.5 0 0 1 854.5 849L835.9 829.5A420.6 420.6 0 0 0 878.5 782.1Z"/><path d="M848.8 854.3A447.5 447.5 0 0 1 776.8 908.5L762.9 885.5A420.6 420.6 0 0 0 830.6 834.6Z"/><path d="M770.1 912.5A447.5 447.5 0 0 1 683.8 951L675.5 925.4A420.6 420.6 0 0 0 756.5 889.2Z"/><path d="M676.3 953.4A447.5 447.5 0 0 1 599.1 969.8L595.9 943A420.6 420.6 0 0 0 668.5 927.7Z"/><path d="M591.3 970.6A447.5 447.5 0 0 1 511.8 971.7L513.8 944.9A420.6 420.6 0 0 0 588.6 943.9Z"/><path d="M504 971.1A447.5 447.5 0 0 1 392.7 946.2L401.8 920.9A420.6 420.6 0 0 0 506.5 944.3Z"/><path d="M385.3 943.4A447.5 447.5 0 0 1 314.8 909L328.6 886A420.6 420.6 0 0 0 394.9 918.3Z"/><path d="M308.1 905A447.5 447.5 0 0 1 235.9 848.8L254.5 829.4A420.6 420.6 0 0 0 322.3 882.1Z"/><path d="M230.3 843.3A447.5 447.5 0 0 1 162.8 757.8L185.8 743.8A420.6 420.6 0 0 0 249.2 824.2Z"/><path d="M158.8 751A447.5 447.5 0 0 1 124.5 677.8L149.8 668.6A420.6 420.6 0 0 0 182 737.5Z"/><path d="M121.9 670.4A447.5 447.5 0 0 1 103.7 598.1L130.3 593.7A420.6 420.6 0 0 0 147.3 661.7Z"/><path d="M102.5 590.4A447.5 447.5 0 0 1 98.1 510L125 510.9A420.6 420.6 0 0 0 129.1 586.5Z"/><path d="M98.4 502.2A447.5 447.5 0 0 1 112.4 412.1L138.4 418.9A420.6 420.6 0 0 0 125.3 503.6Z"/><path d="M114.5 404.5A447.5 447.5 0 0 1 141.1 333.4L165.4 344.9A420.6 420.6 0 0 0 140.4 411.8Z"/><path d="M144.6 326.3A447.5 447.5 0 0 1 191.9 251L213.1 267.5A420.6 420.6 0 0 0 168.7 338.3Z"/><path d="M196.7 244.8A447.5 447.5 0 0 1 256.7 183.5L274.1 204A420.6 420.6 0 0 0 217.7 261.7Z"/><path d="M262.7 178.5A447.5 447.5 0 0 1 343.2 126.2L355.3 150.2A420.6 420.6 0 0 0 279.7 199.3Z"/><path d="M350.2 122.8A447.5 447.5 0 0 1 420.9 95.6L428.4 121.5A420.6 420.6 0 0 0 361.9 147Z"/><path d="M428.4 93.5A447.5 447.5 0 0 1 511.4 79.3L513.4 106.1A420.6 420.6 0 0 0 435.5 119.5Z"/></g>
<g fill="#e5691c" ><path d="M584.2 116.7A410.6 410.6 0 0 1 662.8 132.1L655 158A383.5 383.5 0 0 0 581.6 143.7Z"/><path d="M670.3 134.4A410.6 410.6 0 0 1 733.4 160.5L721 184.6A383.5 383.5 0 0 0 662 160.2Z"/><path d="M740.4 164.2A410.6 410.6 0 0 1 825.4 225.3L807 245.1A383.5 383.5 0 0 0 727.5 188Z"/><path d="M831.1 230.7A410.6 410.6 0 0 1 868.1 271.8L846.8 288.5A383.5 383.5 0 0 0 812.3 250.2Z"/><path d="M872.9 278A410.6 410.6 0 0 1 914.4 345.5L890 357.4A383.5 383.5 0 0 0 851.3 294.3Z"/><path d="M917.7 352.6A410.6 410.6 0 0 1 943.4 424.8L917.1 431.4A383.5 383.5 0 0 0 893.1 364Z"/><path d="M945.2 432.4A410.6 410.6 0 0 1 955.7 511.8L928.6 512.7A383.5 383.5 0 0 0 918.8 438.6Z"/><path d="M955.9 519.6A410.6 410.6 0 0 1 944.1 623.4L917.7 617A383.5 383.5 0 0 0 928.8 520Z"/><path d="M942.1 631A410.6 410.6 0 0 1 920.5 692.2L895.8 681.2A383.5 383.5 0 0 0 915.9 624.1Z"/><path d="M917.3 699.3A410.6 410.6 0 0 1 875.1 770L853.4 753.9A383.5 383.5 0 0 0 892.7 687.9Z"/><path d="M870.4 776.3A410.6 410.6 0 0 1 829.3 822.1L810.5 802.5A383.5 383.5 0 0 0 848.9 759.7Z"/><path d="M823.6 827.4A410.6 410.6 0 0 1 758 876.7L744 853.5A383.5 383.5 0 0 0 805.2 807.5Z"/><path d="M751.2 880.7A410.6 410.6 0 0 1 672.7 915.8L664.3 890.1A383.5 383.5 0 0 0 737.6 857.3Z"/><path d="M665.2 918.2A410.6 410.6 0 0 1 595 933.1L591.7 906.2A383.5 383.5 0 0 0 657.3 892.3Z"/><path d="M587.2 934A410.6 410.6 0 0 1 514.9 935L516.9 907.9A383.5 383.5 0 0 0 584.4 907Z"/><path d="M507.1 934.3A410.6 410.6 0 0 1 405.6 911.6L414.8 886.1A383.5 383.5 0 0 0 509.6 907.3Z"/><path d="M398.2 908.8A410.6 410.6 0 0 1 334.1 877.6L348 854.4A383.5 383.5 0 0 0 407.9 883.5Z"/><path d="M327.4 873.5A410.6 410.6 0 0 1 261.6 822.4L280.4 802.8A383.5 383.5 0 0 0 341.7 850.5Z"/><path d="M256 816.9A410.6 410.6 0 0 1 194.5 738.9L217.7 724.8A383.5 383.5 0 0 0 275.1 797.7Z"/><path d="M190.5 732.1A410.6 410.6 0 0 1 159.3 665.5L184.8 656.3A383.5 383.5 0 0 0 213.9 718.5Z"/><path d="M156.7 658.1A410.6 410.6 0 0 1 140.2 592.4L166.9 588A383.5 383.5 0 0 0 182.3 649.4Z"/><path d="M139 584.7A410.6 410.6 0 0 1 134.9 511.6L162 512.5A383.5 383.5 0 0 0 165.8 580.8Z"/><path d="M135.3 503.8A410.6 410.6 0 0 1 148 421.7L174.2 428.6A383.5 383.5 0 0 0 162.3 505.2Z"/><path d="M150.1 414.2A410.6 410.6 0 0 1 174.3 349.5L198.8 361.1A383.5 383.5 0 0 0 176.2 421.5Z"/><path d="M177.8 342.5A410.6 410.6 0 0 1 220.8 273.9L242.2 290.5A383.5 383.5 0 0 0 202 354.5Z"/><path d="M225.7 267.7A410.6 410.6 0 0 1 280.3 211.9L297.7 232.6A383.5 383.5 0 0 0 246.8 284.7Z"/><path d="M286.3 206.9A410.6 410.6 0 0 1 359.5 159.3L371.8 183.5A383.5 383.5 0 0 0 303.4 227.9Z"/><path d="M366.6 155.8A410.6 410.6 0 0 1 430.8 131.2L438.4 157.2A383.5 383.5 0 0 0 378.4 180.2Z"/><path d="M438.4 129.1A410.6 410.6 0 0 1 514.2 116.1L516.2 143.1A383.5 383.5 0 0 0 445.5 155.2Z"/></g>
<g fill="#a3d59c" ><path d="M580.7 152.9A374.2 374.2 0 0 1 652 166.8L644.3 192.7A347.2 347.2 0 0 0 578.2 179.8Z"/><path d="M659.5 169.1A374.2 374.2 0 0 1 716.4 192.7L704.1 216.7A347.2 347.2 0 0 0 651.3 194.8Z"/><path d="M723.4 196.3A374.2 374.2 0 0 1 792.1 244.2L774.3 264.5A347.2 347.2 0 0 0 710.6 220.1Z"/><path d="M806.1 257.1A374.2 374.2 0 0 1 839.3 294L818.1 310.7A347.2 347.2 0 0 0 787.3 276.4Z"/><path d="M844.1 300.2A374.2 374.2 0 0 1 881.5 361.1L857.3 373A347.2 347.2 0 0 0 822.6 316.5Z"/><path d="M884.9 368.2A374.2 374.2 0 0 1 908 433.4L881.9 440A347.2 347.2 0 0 0 860.4 379.6Z"/><path d="M909.9 441A374.2 374.2 0 0 1 919.3 512.6L892.3 513.5A347.2 347.2 0 0 0 883.6 447.1Z"/><path d="M919.5 520.5A374.2 374.2 0 0 1 908.8 614.4L882.6 608A347.2 347.2 0 0 0 892.5 520.9Z"/><path d="M906.9 622A374.2 374.2 0 0 1 887.5 677.1L862.8 666.2A347.2 347.2 0 0 0 880.8 615.1Z"/><path d="M884.2 684.3A374.2 374.2 0 0 1 846.2 748.1L824.5 732A347.2 347.2 0 0 0 859.7 672.8Z"/><path d="M841.4 754.4A374.2 374.2 0 0 1 804.4 795.6L785.7 776.1A347.2 347.2 0 0 0 820 737.9Z"/><path d="M798.7 801A374.2 374.2 0 0 1 739.5 845.4L725.5 822.4A347.2 347.2 0 0 0 780.4 781.1Z"/><path d="M732.7 849.5A374.2 374.2 0 0 1 661.8 881.2L653.4 855.5A347.2 347.2 0 0 0 719.2 826.1Z"/><path d="M654.3 883.5A374.2 374.2 0 0 1 591 897L587.7 870.2A347.2 347.2 0 0 0 646.4 857.7Z"/><path d="M583.1 897.8A374.2 374.2 0 0 1 518 898.8L519.9 871.8A347.2 347.2 0 0 0 580.4 871Z"/><path d="M510.1 898.1A374.2 374.2 0 0 1 418.3 877.5L427.4 852.1A347.2 347.2 0 0 0 512.7 871.2Z"/><path d="M410.9 874.8A374.2 374.2 0 0 1 353.1 846.6L366.9 823.4A347.2 347.2 0 0 0 420.6 849.6Z"/><path d="M346.3 842.5A374.2 374.2 0 0 1 287 796.3L305.6 776.8A347.2 347.2 0 0 0 360.7 819.6Z"/><path d="M281.4 790.8A374.2 374.2 0 0 1 225.8 720.3L248.8 706.3A347.2 347.2 0 0 0 300.4 771.7Z"/><path d="M221.7 713.5A374.2 374.2 0 0 1 193.6 653.5L219 644.2A347.2 347.2 0 0 0 245.1 700Z"/><path d="M191 646A374.2 374.2 0 0 1 176.1 586.9L202.8 582.4A347.2 347.2 0 0 0 216.5 637.3Z"/><path d="M174.9 579.1A374.2 374.2 0 0 1 171.3 513.2L198.2 514.1A347.2 347.2 0 0 0 201.6 575.2Z"/><path d="M171.6 505.3A374.2 374.2 0 0 1 183.1 431.3L209.2 438.1A347.2 347.2 0 0 0 198.6 506.8Z"/><path d="M185.2 423.7A374.2 374.2 0 0 1 207 365.4L231.4 377A347.2 347.2 0 0 0 211.2 431Z"/><path d="M210.5 358.3A374.2 374.2 0 0 1 249.3 296.4L270.7 313A347.2 347.2 0 0 0 234.6 370.4Z"/><path d="M254.2 290.3A374.2 374.2 0 0 1 303.4 239.9L320.9 260.5A347.2 347.2 0 0 0 275.2 307.2Z"/><path d="M309.5 234.9A374.2 374.2 0 0 1 375.7 191.9L387.9 216A347.2 347.2 0 0 0 326.5 255.8Z"/><path d="M382.7 188.4A374.2 374.2 0 0 1 440.6 166.2L448.2 192.1A347.2 347.2 0 0 0 394.5 212.7Z"/><path d="M448.2 164.1A374.2 374.2 0 0 1 516.9 152.3L519 179.3A347.2 347.2 0 0 0 455.2 190.1Z"/></g>
<path d="M610.6 184l4.9 -25.7M617.3 185.4l5.4 -25.6M601 182.3l4.2 -25.9M607.8 183.5l4.7 -25.8M608.8 183.7l4.8 -25.8M596.5 181.6l3.9 -25.9M616 185.1l5.3 -25.7M683.3 206.4l10.4 -24M671.4 201.5l9.5 -24.4M670 201l9.4 -24.5M679.2 204.7l10.1 -24.2M667 199.8l9.2 -24.5M740.3 237.7l14.7 -21.7M737.2 235.6l14.5 -21.8M807 296.7l19.7 -17.2M815.8 307.1l20.4 -16.5M811 301.3l20 -16.9M828.8 324.3l21.4 -15.2M872.8 408.9l24.7 -8.8M889.8 478.8l26 -3.5M891.3 491.7l26.1 -2.6M885.3 452.9l25.6 -5.5M891.9 552.5l26.1 2M889.9 571.7l26 3.5M892.1 549.9l26.1 1.8M891.9 552.6l26.1 2M892.8 537.1l26.2 0.9M887.1 589l25.8 4.8M892.9 526.8l26.2 0.1M877.2 629l25 7.8M867.4 656.3l24.3 9.9M833.3 720.3l21.7 14.7M851 691l23 12.5M849.9 693.1l23 12.6M848.8 695.1l22.9 12.8M852.6 688.1l23.2 12.3M851.6 689.9l23.1 12.4M787.8 774.6l18.3 18.8M816.5 743l20.4 16.4M767.5 792.9l16.7 20.2M755.9 802.1l15.9 20.8M695.9 838.8l11.4 23.6M687.9 842.5l10.7 23.9M693 840.2l11.1 23.7M593.4 869.8l3.6 25.9M620.8 864.9l5.7 25.6M564.9 872.6l1.5 26.2M571.9 872.1l2 26.1M556.5 873l0.8 26.2M563.9 872.7l1.4 26.2M557.3 872.9l0.9 26.2M566.9 872.5l1.6 26.1M574 872l2.2 26.1M506.4 871l-2.9 26M494.9 869.5l-3.8 25.9M497 869.8l-3.6 25.9M502.3 870.5l-3.2 26M472.2 865.4l-5.5 25.6M372.8 827.3l-13 22.7M412.6 846.8l-10 24.2M338.7 805.1l-15.6 21.1M340.8 806.6l-15.4 21.2M318.8 789.2l-17.1 19.9M344.3 809.2l-15.1 21.4M278.5 748.4l-20.1 16.8M253.9 715.1l-22 14.3M261.9 726.9l-21.4 15.2M231.8 675.8l-23.6 11.3M224.3 659l-24.2 10.1M232.7 677.6l-23.6 11.5M229.5 670.9l-23.8 11M204.5 594.3l-25.7 5.2M212.9 627.3l-25.1 7.7M210.2 618l-25.3 7M208.3 610.8l-25.4 6.4M214.6 632.7l-24.9 8.1M198.3 547.4l-26.1 1.6M198.1 543.4l-26.2 1.4M197.7 522.9l-26.2 -0.2M208.3 440l-25.4 -6.4M207.5 443.2l-25.5 -6.2M198.4 502.4l-26.1 -1.7M211.3 429l-25.2 -7.3M229.7 379.7l-23.8 -11M221.8 398.3l-24.4 -9.6M222 397.6l-24.4 -9.6M241.3 356.9l-22.9 -12.7M249.7 342.6l-22.3 -13.8M248.3 344.8l-22.4 -13.6M246.1 348.5l-22.6 -13.3M291.2 288.3l-19.2 -17.9M284.8 295.3l-19.6 -17.3M289.1 290.5l-19.3 -17.7M308.3 271.1l-17.9 -19.2M293.9 285.4l-18.9 -18.1M292.9 286.4l-19 -18M300.2 278.9l-18.5 -18.6M370.1 225.2l-13.2 -22.6M355.3 234.3l-14.3 -21.9M372 224.1l-13.1 -22.7M373.1 223.5l-13 -22.8M384.3 217.4l-12.1 -23.2M430.5 197.3l-8.6 -24.7M402 208.7l-10.8 -23.9M428.8 198l-8.8 -24.7M470.4 186l-5.6 -25.6M477 184.6l-5.1 -25.7M499.5 180.9l-3.5 -26M515.6 179.1l-2.2 -26.1M483.4 183.4l-4.7 -25.8M514 179.3l-2.4 -26.1M479.5 184.1l-5 -25.7M503.9 180.3l-3.1 -26M490.6 182.2l-4.1 -25.9" stroke="#ffffff" stroke-width="1.0" fill="none"/>
<path d="M600.8 182.3l4.2 -25.9M594.7 181.4l3.7 -25.9M579 179.5l2.5 -26.1M643.8 192.1l7.4 -25.1M682.5 206l10.3 -24.1M683.4 206.5l10.4 -24M678.3 204.3l10 -24.2M687.5 208.3l10.7 -23.9M734.2 233.7l14.2 -22M803.8 293.1l19.5 -17.5M804.1 293.4l19.5 -17.5M813.2 304l20.2 -16.7M810.4 300.6l20 -16.9M836.8 336.1l22 -14.3M852.3 362.3l23.1 -12.3M843.9 347.4l22.5 -13.4M835.8 334.6l21.9 -14.4M843.4 346.5l22.5 -13.5M868.2 396.8l24.3 -9.7M873.7 411.5l24.8 -8.6M864.6 387.9l24.1 -10.4M892.3 504.4l26.2 -1.6M885.4 453.6l25.6 -5.4M892.3 547.1l26.1 1.6M889.9 571.1l26 3.4M892.8 535.3l26.2 0.7M892.2 548.3l26.1 1.7M891.8 553.7l26.1 2.1M874.8 636.4l24.8 8.4M879 622.9l25.2 7.3M854.1 685.2l23.3 12M852.9 687.4l23.2 12.2M853.2 687l23.2 12.2M806 755.5l19.6 17.3M811.5 749.1l20.1 16.8M810.8 749.9l20 16.9M733 818.1l14.1 22.1M734 817.4l14.2 22M731.4 819.1l14 22.1M732 818.8l14.1 22.1M758.1 800.4l16 20.7M655.9 855.1l8.3 24.8M681.4 845.4l10.3 24.1M687.4 842.8l10.7 23.9M592.4 870l3.5 26M595.2 869.6l3.8 25.9M577.2 871.7l2.4 26.1M566.4 872.5l1.6 26.2M556.7 873l0.9 26.2M564.3 872.6l1.4 26.2M560.3 872.8l1.1 26.2M436.9 855.8l-8.2 24.9M445.2 858.4l-7.5 25.1M509.9 871.3l-2.7 26.1M485.8 868l-4.5 25.8M409.9 845.7l-10.2 24.1M394.7 838.9l-11.3 23.6M416 848.2l-9.7 24.3M400.2 841.4l-10.9 23.8M373.6 827.8l-12.9 22.8M333.6 801.3l-16 20.8M342.3 807.7l-15.3 21.3M352.7 814.9l-14.5 21.8M340.8 806.6l-15.4 21.2M318.1 788.6l-17.1 19.8M336.6 803.5l-15.7 21M347.3 811.2l-14.9 21.5M277 746.6l-20.2 16.7M261.5 726.3l-21.4 15.1M285.6 756.6l-19.6 17.4M231.5 675.1l-23.7 11.3M214.7 633l-24.9 8.1M207.5 607.8l-25.5 6.2M214.2 631.5l-25 8M203.6 589.3l-25.8 4.8M197.7 521.4l-26.2 -0.3M207 445.5l-25.5 -6M207.9 441.8l-25.4 -6.3M207.7 442.6l-25.4 -6.2M200 485.4l-26 -3M219.7 403.6l-24.5 -9.2M216.8 411.7l-24.8 -8.6M226.5 386.9l-24 -10.4M223.4 394.1l-24.3 -9.9M216.5 412.6l-24.8 -8.5M255.4 333.7l-21.9 -14.5M236.3 366.2l-23.3 -12M242.4 354.8l-22.8 -12.9M292.7 286.7l-19 -18M293.8 285.5l-19 -18.1M293.6 285.6l-19 -18.1M302.7 276.5l-18.3 -18.8M283.2 297.2l-19.8 -17.2M376.1 221.8l-12.8 -22.9M372.6 223.8l-13 -22.7M341.7 243.7l-15.3 -21.2M378.4 220.5l-12.6 -23M371 224.7l-13.1 -22.7M405 207.4l-10.6 -24M403.4 208.1l-10.7 -23.9M397.6 210.8l-11.1 -23.7M397.6 210.8l-11.1 -23.7M396.6 211.2l-11.2 -23.7M428 198.2l-8.8 -24.7M412.4 204.2l-10 -24.2M428.5 198.1l-8.8 -24.7M434.1 196.1l-8.4 -24.8M505 180.2l-3 -26M469.8 186.1l-5.7 -25.6M485.9 183l-4.5 -25.8M493 181.8l-3.9 -25.9M468.9 186.4l-5.8 -25.6M495.8 181.4l-3.7 -25.9M492.3 181.9l-4 -25.9" stroke="#ffffff" stroke-width="0.6" fill="none"/>
<path d="M617.3 185.4l5.4 -25.6M604.3 182.9l4.4 -25.8M609.3 183.8l4.8 -25.8M603.9 182.8l4.4 -25.8M620.7 186.1l5.7 -25.6M693.5 211l11.2 -23.7M687.1 208.1l10.7 -23.9M659.3 197.1l8.6 -24.8M652.1 194.7l8.1 -24.9M722.3 226.3l13.3 -22.5M739.6 237.2l14.6 -21.7M739.9 237.4l14.7 -21.7M749.4 244.1l15.4 -21.2M727.3 229.3l13.7 -22.3M767.3 257.9l16.7 -20.2M741.9 238.8l14.8 -21.6M766.5 257.3l16.7 -20.2M741.2 238.3l14.8 -21.6M750.3 244.7l15.4 -21.2M804.7 294.1l19.6 -17.4M806.7 296.3l19.7 -17.3M829.4 325.1l21.4 -15.1M856 369.5l23.4 -11.8M837.8 337.6l22 -14.2M830.9 327.2l21.5 -14.9M843.2 346.3l22.4 -13.5M866 391.3l24.2 -10.1M877.1 421.8l25 -7.8M875.5 416.6l24.9 -8.2M865.7 390.6l24.1 -10.2M887.7 465.1l25.8 -4.6M891.4 492.7l26.1 -2.5M891.9 498.9l26.1 -2M891.7 555.3l26.1 2.2M892.9 530.9l26.2 0.4M892.7 539.1l26.2 1M885.3 597.9l25.6 5.5M873.5 640.1l24.7 8.6M866.3 659l24.2 10.1M873.5 640.1l24.7 8.6M880.1 619.1l25.2 7.1M835.8 716.4l21.9 14.4M856.2 681l23.4 11.7M836.1 716l21.9 14.4M847.3 697.7l22.8 13M849.5 693.8l22.9 12.7M817.8 741.4l20.5 16.3M812.6 747.8l20.1 16.8M759.5 799.3l16.1 20.6M727.1 821.8l13.7 22.3M682 845.2l10.3 24.1M661 853.3l8.7 24.7M634.2 861.6l6.7 25.3M570.5 872.2l1.9 26.1M571 872.2l1.9 26.1M559 872.9l1 26.2M573.4 872l2.1 26.1M559 872.9l1 26.2M528.4 872.7l-1.3 26.2M553.5 873.1l0.6 26.2M559.1 872.9l1 26.2M528.3 872.7l-1.3 26.2M457.2 861.8l-6.6 25.3M510.2 871.4l-2.6 26.1M498.9 870l-3.5 26M459 862.3l-6.5 25.4M377 829.7l-12.7 22.9M396.9 839.9l-11.2 23.7M396 839.5l-11.3 23.7M383.5 833.2l-12.2 23.2M340.7 806.6l-15.4 21.2M317.9 788.4l-17.1 19.8M348.6 812.1l-14.8 21.6M294.9 766.7l-18.9 18.2M275.2 744.4l-20.4 16.5M257.9 721.1l-21.7 14.7M224.8 660.3l-24.2 10.2M226.3 663.8l-24 10.4M225.4 661.6l-24.1 10.3M231.1 674.4l-23.7 11.2M232.4 677l-23.6 11.4M230.7 673.4l-23.7 11.1M213.7 630l-25 7.9M205.5 599.2l-25.6 5.6M203.3 587.7l-25.8 4.7M197.7 529.7l-26.2 0.3M197.7 524l-26.2 -0.1M207.9 441.8l-25.4 -6.3M208.2 440.5l-25.4 -6.4M225.9 388.2l-24.1 -10.4M227.7 384.1l-23.9 -10.7M219.4 404.5l-24.6 -9.1M226.2 387.6l-24 -10.4M254.5 335l-21.9 -14.4M248.4 344.6l-22.4 -13.6M255.5 333.5l-21.8 -14.5M296.5 282.7l-18.8 -18.3M292.7 286.6l-19 -18M299.6 279.5l-18.5 -18.5M342 243.5l-15.3 -21.3M342.8 242.9l-15.3 -21.3M361.2 230.6l-13.9 -22.2M377.9 220.8l-12.6 -23M341.5 243.8l-15.4 -21.2M359.8 231.5l-14 -22.2M396.6 211.2l-11.2 -23.7M427.7 198.4l-8.9 -24.7M404 207.9l-10.7 -23.9M431.3 197.1l-8.6 -24.8M490.2 182.2l-4.1 -25.9M492.1 181.9l-4 -25.9M491.7 182l-4 -25.9M457.8 189.1l-6.6 -25.4M457.8 189l-6.6 -25.4M471.4 185.8l-5.6 -25.6M483.7 183.3l-4.6 -25.8M469.9 186.1l-5.7 -25.6M470.8 185.9l-5.6 -25.6M476.4 184.7l-5.2 -25.7M486.9 182.8l-4.4 -25.8M473.6 185.3l-5.4 -25.6M485 183.1l-4.5 -25.8M483.4 183.4l-4.7 -25.8" stroke="#ffffff" stroke-width="0.9" fill="none"/>
<path d="M623.7 186.8l5.9 -25.5M612.6 184.4l5.1 -25.7M612.4 184.4l5.1 -25.7M609.8 183.9l4.9 -25.7M699.7 214l11.6 -23.5M673.7 202.4l9.7 -24.3M689 208.9l10.8 -23.9M753.8 247.3l15.7 -21M742.1 238.9l14.8 -21.6M739.9 237.4l14.7 -21.7M733.4 233.1l14.2 -22M803.4 292.6l19.5 -17.5M805 294.4l19.6 -17.4M848.4 355.1l22.8 -12.8M850.7 359.5l23 -12.5M839.5 340.2l22.2 -14M832.8 330l21.7 -14.7M828.5 323.9l21.3 -15.2M838.4 338.5l22.1 -14.1M862.1 382.3l23.9 -10.8M881.5 437l25.3 -6.7M890.7 486.3l26 -3M891.4 492.6l26.1 -2.5M886.6 459.2l25.7 -5M889 577.6l25.9 3.9M892.4 545.8l26.2 1.5M884.6 601.3l25.6 5.7M886.9 590.3l25.7 4.9M890.5 567.1l26 3.1M892.5 542.8l26.2 1.3M834 719.1l21.8 14.6M837 714.7l22 14.3M847.4 697.6l22.8 13M802.1 759.9l19.4 17.7M813.9 746.2l20.2 16.6M807.7 753.5l19.8 17.2M810.2 750.7l20 17M771.1 789.9l17 19.9M768.8 791.8l16.8 20.1M740 813.5l14.7 21.7M678.5 846.6l10 24.2M692.2 840.6l11.1 23.7M596.4 869.4l3.9 25.9M609.9 867.1l4.9 25.7M643.7 858.9l7.4 25.1M589.1 870.4l3.3 26M626.3 863.6l6.1 25.5M540.2 873.1l-0.4 26.2M532 872.9l-1 26.2M567.6 872.4l1.7 26.1M560.6 872.8l1.2 26.2M529 872.8l-1.2 26.2M577.5 871.7l2.4 26.1M560 872.8l1.1 26.2M463.6 863.4l-6.2 25.5M465.2 863.8l-6 25.5M464.7 863.7l-6.1 25.5M503 870.6l-3.2 26M434 854.9l-8.4 24.8M382.3 832.6l-12.3 23.1M378.2 830.3l-12.6 23M367.8 824.4l-13.4 22.5M417.5 848.8l-9.6 24.4M379.1 830.8l-12.5 23M323.9 793.5l-16.7 20.2M320.8 791l-16.9 20M355.9 817l-14.3 22M319.5 789.9l-17 19.9M319.6 789.9l-17 19.9M261.6 726.4l-21.4 15.1M257.2 720.1l-21.7 14.7M228.4 668.5l-23.9 10.8M219.9 647.8l-24.5 9.2M228.2 668.1l-23.9 10.7M230.6 673.3l-23.7 11.1M238.9 689.7l-23.1 12.4M215.9 636.6l-24.8 8.4M203.2 587.2l-25.8 4.6M204.4 593.7l-25.7 5.1M214.9 633.7l-24.9 8.2M203.8 590.4l-25.7 4.9M205 596.7l-25.6 5.4M198.5 501.6l-26.1 -1.8M198.4 502.1l-26.1 -1.8M208.1 441l-25.4 -6.4M198.4 502.5l-26.1 -1.7M226.2 387.6l-24.1 -10.4M217.7 409.1l-24.7 -8.8M219.3 404.6l-24.6 -9.1M222.5 396.5l-24.3 -9.7M262.7 323.1l-21.3 -15.3M256.5 332l-21.8 -14.6M249.2 343.3l-22.3 -13.7M242.9 354l-22.8 -12.9M289 290.6l-19.3 -17.7M287.3 292.5l-19.4 -17.6M361.6 230.3l-13.8 -22.2M371.6 224.3l-13.1 -22.7M380 219.7l-12.5 -23M436.6 195.3l-8.2 -24.9M396.3 211.4l-11.2 -23.7M411.6 204.6l-10.1 -24.2M435.4 195.7l-8.3 -24.9M404.1 207.8l-10.6 -23.9M428.2 198.2l-8.8 -24.7M497 181.2l-3.6 -25.9M490 182.3l-4.2 -25.9M479.3 184.2l-5 -25.7M484.1 183.3l-4.6 -25.8M482.7 183.5l-4.7 -25.8M469.9 186.1l-5.7 -25.6M493.5 181.7l-3.9 -25.9M511.2 179.5l-2.6 -26.1" stroke="#ffffff" stroke-width="0.7" fill="none"/>
<path d="M621.6 186.3l5.8 -25.6M618 185.5l5.5 -25.6M678.9 204.6l10.1 -24.2M681.9 205.8l10.3 -24.1M660.2 197.4l8.7 -24.7M662.9 198.4l8.9 -24.7M652.4 194.8l8.1 -24.9M765.9 256.8l16.6 -20.2M726.3 228.7l13.6 -22.4M727.2 229.3l13.7 -22.3M743.3 239.7l14.9 -21.5M807.1 296.8l19.7 -17.2M844.3 348.2l22.5 -13.4M844.6 348.7l22.6 -13.3M851.3 360.6l23.1 -12.4M872.1 406.9l24.6 -8.9M877.3 422.3l25 -7.8M891.7 495.6l26.1 -2.3M887.1 461.9l25.8 -4.8M885.3 452.9l25.6 -5.5M892 500.5l26.1 -1.9M891.6 495.3l26.1 -2.3M891.2 490.8l26.1 -2.6M890.2 481.7l26 -3.3M888.7 471l25.9 -4.1M887.8 585.2l25.8 4.5M892.9 522l26.2 -0.3M892.5 543.7l26.2 1.4M851.3 690.5l23.1 12.4M854.1 685.3l23.3 12M835 717.7l21.8 14.5M832 722.1l21.6 14.8M819.1 739.7l20.6 16.1M736.7 815.7l14.4 21.9M753.3 804l15.7 21M732.4 818.5l14.1 22.1M714.1 829.4l12.7 22.9M699.1 837.3l11.6 23.5M704.7 834.4l12 23.3M598.3 869.1l4 25.9M621.1 864.8l5.7 25.6M576.9 871.7l2.4 26.1M563 872.7l1.3 26.2M558.1 872.9l1 26.2M560.7 872.8l1.2 26.2M566.2 872.5l1.6 26.2M576.6 871.7l2.4 26.1M554.2 873l0.7 26.2M535.9 873l-0.7 26.2M559.7 872.8l1.1 26.2M524.4 872.5l-1.6 26.2M556.2 873l0.8 26.2M576.1 871.8l2.3 26.1M440.8 857.1l-7.9 25M491 868.9l-4.1 25.9M478.8 866.7l-5 25.7M484.9 867.9l-4.5 25.8M471.4 865.2l-5.6 25.6M500.2 870.2l-3.4 26M390.7 836.9l-11.6 23.5M381.7 832.2l-12.3 23.1M312.2 783.4l-17.6 19.4M336.2 803.2l-15.8 20.9M321.2 791.3l-16.9 20M354.6 816.2l-14.4 21.9M261.6 726.5l-21.4 15.1M280.8 751.2l-19.9 17M223.8 657.7l-24.2 10M220.4 649.3l-24.5 9.3M231.9 676l-23.6 11.3M206.3 602.8l-25.5 5.8M199.5 560.9l-26.1 2.7M198.7 499.1l-26.1 -2M205.6 451.6l-25.6 -5.6M206.6 447.2l-25.5 -5.9M205.6 451.5l-25.6 -5.6M224.8 390.8l-24.2 -10.2M224.4 391.7l-24.2 -10.1M215.2 416.3l-24.9 -8.2M219.2 405l-24.6 -9.1M242.8 354.2l-22.8 -12.9M287.7 292l-19.4 -17.6M354.4 235l-14.4 -21.9M352.3 236.3l-14.5 -21.8M381 219.1l-12.4 -23.1M407 206.6l-10.4 -24M419.4 201.4l-9.5 -24.4M400.5 209.4l-10.9 -23.8M432.9 196.5l-8.5 -24.8M428.9 197.9l-8.8 -24.7M494.9 181.5l-3.8 -25.9M510.2 179.6l-2.6 -26.1M492.5 181.9l-4 -25.9M487.2 182.7l-4.4 -25.8M497.4 181.2l-3.6 -26M473 185.5l-5.5 -25.6M487.1 182.8l-4.4 -25.8M486.4 182.9l-4.4 -25.8M479.4 184.1l-5 -25.7M486 182.9l-4.5 -25.8M480.1 184l-4.9 -25.7" stroke="#ffffff" stroke-width="0.8" fill="none"/>
<path d="M592.5 181.1l3.6 -26M699.3 213.8l11.6 -23.5M680.7 205.3l10.2 -24.1M690.2 209.5l10.9 -23.8M763 254.5l16.4 -20.4M770 260.2l16.9 -20M765.3 256.3l16.6 -20.3M770.3 260.5l17 -20M759.6 251.7l16.1 -20.6M832.3 329.4l21.6 -14.8M833.9 331.7l21.8 -14.6M854.3 366.1l23.3 -12M836.6 335.7l22 -14.3M833.6 331.2l21.7 -14.6M824.7 318.6l21.1 -15.6M871.7 405.7l24.6 -9M865.6 390.4l24.1 -10.2M873.4 410.6l24.7 -8.7M890.7 485.7l26 -3M891.9 499.1l26.1 -2M892.6 510.9l26.2 -1.1M890.3 568l26 3.2M892.8 535.5l26.2 0.8M892.9 526l26.2 0M869.5 651.1l24.4 9.5M863.5 665.5l24 10.5M866.8 657.8l24.2 10M857.1 679.2l23.5 11.6M856.9 679.7l23.5 11.6M833.1 720.5l21.7 14.7M849.6 693.5l22.9 12.7M819.6 739.1l20.7 16.1M812 748.5l20.1 16.8M808 753.2l19.8 17.2M807.2 754.1l19.7 17.2M766.3 793.9l16.7 20.2M749.1 807.1l15.4 21.2M697.5 838l11.5 23.6M678.2 846.8l10 24.2M682.5 844.9l10.3 24.1M685.9 843.5l10.6 24M716.8 827.9l12.9 22.8M641.4 859.6l7.2 25.2M611.6 866.8l5 25.7M642.8 859.2l7.3 25.1M589.3 870.4l3.3 26M602.2 868.5l4.3 25.8M566.4 872.5l1.6 26.2M552.6 873.1l0.6 26.2M557.1 873l0.9 26.2M549.8 873.1l0.3 26.2M557.5 872.9l0.9 26.2M565 872.6l1.5 26.2M545.6 873.1l0 26.2M503 870.6l-3.2 26M428.4 852.9l-8.8 24.7M477.1 866.4l-5.1 25.7M340.7 806.5l-15.4 21.2M321.4 791.5l-16.9 20M337.6 804.3l-15.7 21M307.8 779.4l-17.9 19.1M352.8 815l-14.5 21.8M346.4 810.6l-15 21.5M254.4 715.8l-21.9 14.3M262.6 727.8l-21.3 15.2M259.1 722.8l-21.6 14.9M271.5 739.7l-20.6 16.1M275.7 744.9l-20.3 16.5M229.4 670.6l-23.8 10.9M225.7 662.4l-24.1 10.3M226.9 665.1l-24 10.5M227.2 665.8l-24 10.6M223.8 657.7l-24.2 10M203.5 589.1l-25.8 4.8M205 596.7l-25.6 5.4M203 586.3l-25.8 4.6M215.3 634.8l-24.9 8.2M212.7 626.8l-25.1 7.6M213.7 630.1l-25 7.9M198.2 545.8l-26.2 1.5M198.8 553.4l-26.1 2.1M198.8 497l-26.1 -2.1M198.3 503.8l-26.1 -1.6M198.4 503.4l-26.1 -1.7M226 388l-24.1 -10.4M217.8 408.8l-24.7 -8.8M219.8 403.4l-24.5 -9.2M222.8 395.6l-24.3 -9.8M212.4 425.2l-25.1 -7.6M268.8 314.8l-20.8 -15.9M239.7 359.7l-23 -12.5M234.8 369.2l-23.4 -11.8M289.3 290.3l-19.3 -17.7M300.6 278.5l-18.4 -18.6M284.2 296l-19.7 -17.3M300.1 279l-18.5 -18.6M376.1 221.8l-12.8 -22.9M355.5 234.2l-14.3 -22M342.2 243.3l-15.3 -21.3M345.3 241.2l-15.1 -21.4M377.5 221l-12.6 -22.9M428.7 198l-8.8 -24.7M396.5 211.3l-11.2 -23.7M403.7 208l-10.7 -23.9M435 195.8l-8.3 -24.8M435.1 195.8l-8.3 -24.8M414.5 203.4l-9.9 -24.3M510.5 179.6l-2.6 -26.1M495.5 181.4l-3.8 -25.9M467 186.8l-5.9 -25.5M480.4 184l-4.9 -25.7M468.1 186.5l-5.8 -25.5M458.6 188.8l-6.5 -25.4M480.4 184l-4.9 -25.7M473.9 185.3l-5.4 -25.6" stroke="#ffffff" stroke-width="1.3" fill="none"/>
<g fill="#a3d59c" stroke="#4a93c4" stroke-width="0.9"><path d="M577.3 188.6A338.4 338.4 0 0 1 642.1 201.2L634.1 228.2A310.2 310.2 0 0 0 574.7 216.6Z"/><path d="M648.3 203.2A338.4 338.4 0 0 1 700.3 224.7L687.4 249.7A310.2 310.2 0 0 0 639.7 230Z"/><path d="M706.1 227.7A338.4 338.4 0 0 1 776.2 278.1L757 298.7A310.2 310.2 0 0 0 692.7 252.5Z"/><path d="M780.9 282.6A338.4 338.4 0 0 1 811.4 316.4L789.2 333.8A310.2 310.2 0 0 0 761.3 302.8Z"/><path d="M815.3 321.5A338.4 338.4 0 0 1 849.5 377.2L824.2 389.5A310.2 310.2 0 0 0 792.9 338.5Z"/><path d="M852.2 383A338.4 338.4 0 0 1 873.4 442.5L846.1 449.4A310.2 310.2 0 0 0 826.7 394.9Z"/><path d="M874.9 448.8A338.4 338.4 0 0 1 883.5 514.2L855.4 515.1A310.2 310.2 0 0 0 847.5 455.2Z"/><path d="M883.7 520.6A338.4 338.4 0 0 1 873.9 606.2L846.6 599.5A310.2 310.2 0 0 0 855.5 521Z"/><path d="M872.3 612.5A338.4 338.4 0 0 1 854.6 662.9L828.8 651.5A310.2 310.2 0 0 0 845.1 605.2Z"/><path d="M851.9 668.8A338.4 338.4 0 0 1 817.1 727L794.5 710.3A310.2 310.2 0 0 0 826.4 656.9Z"/><path d="M813.2 732.2A338.4 338.4 0 0 1 779.3 769.9L759.9 749.6A310.2 310.2 0 0 0 791 715Z"/><path d="M774.6 774.3A338.4 338.4 0 0 1 720.6 815L706 790.9A310.2 310.2 0 0 0 755.5 753.6Z"/><path d="M715 818.3A338.4 338.4 0 0 1 650.3 847.2L641.6 820.4A310.2 310.2 0 0 0 700.9 793.9Z"/><path d="M644.1 849.1A338.4 338.4 0 0 1 586.3 861.4L582.9 833.5A310.2 310.2 0 0 0 635.9 822.2Z"/><path d="M579.8 862.1A338.4 338.4 0 0 1 520.3 863L522.3 834.9A310.2 310.2 0 0 0 577 834.1Z"/><path d="M513.8 862.4A338.4 338.4 0 0 1 430.1 843.7L439.7 817.2A310.2 310.2 0 0 0 516.4 834.4Z"/><path d="M424.1 841.4A338.4 338.4 0 0 1 371.2 815.7L385.7 791.5A310.2 310.2 0 0 0 434.2 815.2Z"/><path d="M365.7 812.3A338.4 338.4 0 0 1 311.5 770.2L331 749.8A310.2 310.2 0 0 0 380.6 788.4Z"/><path d="M306.9 765.6A338.4 338.4 0 0 1 256.2 701.4L280.2 686.7A310.2 310.2 0 0 0 326.7 745.7Z"/><path d="M252.9 695.8A338.4 338.4 0 0 1 227.2 640.9L253.6 631.3A310.2 310.2 0 0 0 277.2 681.6Z"/><path d="M225 634.8A338.4 338.4 0 0 1 211.4 580.7L239.2 576.1A310.2 310.2 0 0 0 251.7 625.7Z"/><path d="M210.4 574.3A338.4 338.4 0 0 1 207.1 514.1L235.2 515A310.2 310.2 0 0 0 238.3 570.2Z"/><path d="M207.4 507.6A338.4 338.4 0 0 1 217.9 440L245.1 447.1A310.2 310.2 0 0 0 235.5 509.1Z"/><path d="M219.6 433.7A338.4 338.4 0 0 1 239.6 380.5L265 392.5A310.2 310.2 0 0 0 246.7 441.4Z"/><path d="M242.4 374.7A338.4 338.4 0 0 1 277.9 318.1L300.1 335.4A310.2 310.2 0 0 0 267.6 387.2Z"/><path d="M281.9 313.1A338.4 338.4 0 0 1 326.9 267L345 288.5A310.2 310.2 0 0 0 303.8 330.7Z"/><path d="M331.8 262.9A338.4 338.4 0 0 1 392.2 223.7L404.9 248.8A310.2 310.2 0 0 0 349.6 284.8Z"/><path d="M398 220.8A338.4 338.4 0 0 1 451 200.5L458.8 227.6A310.2 310.2 0 0 0 410.3 246.2Z"/><path d="M457.2 198.8A338.4 338.4 0 0 1 519.6 188.1L521.8 216.1A310.2 310.2 0 0 0 464.5 226Z"/></g>
<path d="M632.7 227.4l7.7 -26.2M624.7 225.2l7 -26.4M593.2 218.6l4.2 -27M587.3 217.7l3.7 -27.1M682.1 246.6l12 -24.6M685.3 248.2l12.3 -24.4M681.6 246.4l12 -24.6M662.1 237.6l10.3 -25.3M657.4 235.8l9.9 -25.5M732.1 277.3l16.4 -21.9M714.6 265l14.9 -22.9M755.6 296.9l18.5 -20.1M744.7 287.3l17.6 -21M741.3 284.5l17.3 -21.2M785.1 328l21.1 -17.4M816 373.1l23.8 -13.4M811.1 364.6l23.4 -14.2M809.8 362.6l23.3 -14.3M842.3 434.5l26.2 -8M842.6 435.3l26.2 -7.9M840.9 430.1l26 -8.4M830.6 402.7l25.1 -10.8M832 405.8l25.2 -10.5M850.1 465.7l26.8 -5.3M850.7 468.4l26.9 -5M848.4 457.4l26.7 -6M855.5 508.8l27.3 -1.5M850.7 468.6l26.9 -5M852.1 476.5l27 -4.3M849.7 587.3l26.8 5.4M853.6 563.9l27.1 3.4M853.1 567.7l27.1 3.7M848.8 591.8l26.7 5.8M840.8 621.4l26 8.4M842.9 614.6l26.2 7.8M806.3 694l23 14.8M810.3 687.6l23.3 14.3M809.2 689.3l23.2 14.4M797.6 706.7l22.2 16M818.1 674l24 13.1M812 684.8l23.5 14M817.7 674.8l24 13.1M788.1 719.3l21.4 17.1M768.2 741.8l19.6 19M775.5 734.1l20.3 18.4M779.8 729.3l20.6 17.9M767.5 742.6l19.6 19.1M787.5 720.1l21.3 17.1M733.2 772.9l16.5 21.8M714.2 786.2l14.9 23M657.7 815.1l9.9 25.5M675.2 807.7l11.4 24.8M651.3 817.5l9.3 25.7M629.2 824.6l7.4 26.3M478.1 828.8l-5.9 26.7M483.7 830l-5.4 26.8M499.8 832.8l-4 27.1M467.9 826.4l-6.8 26.5M500.6 832.9l-3.9 27.1M432.4 814.9l-9.9 25.5M422.8 811l-10.8 25.1M401 800.6l-12.7 24.2M357.2 772.7l-16.6 21.8M352 768.7l-17 21.4M370.3 782.2l-15.4 22.6M345.3 763.2l-17.6 20.9M293.7 707.8l-22.1 16M241.7 591.2l-26.7 5.8M245.2 605.8l-26.4 7.1M249.7 621l-26 8.4M235.9 553.2l-27.2 2.4M234.7 526.5l-27.3 0.1M234.7 524.3l-27.3 -0.1M235.3 546l-27.3 1.8M235.2 543.3l-27.3 1.6M236.7 561.3l-27.2 3.1M234.7 522l-27.3 -0.3M240.1 467.7l-26.9 -5.1M236 496.5l-27.2 -2.6M247.9 435.7l-26.2 -7.9M248.9 432.6l-26.1 -8.2M277.7 367.7l-23.6 -13.9M271.8 378.3l-24.1 -13M312.7 319.5l-20.5 -18.1M329.5 302l-19 -19.7M321.7 309.8l-19.7 -19M327.1 304.3l-19.2 -19.5M338.2 293.9l-18.2 -20.4M376.8 264.5l-14.8 -23M365 272.6l-15.9 -22.3M360.6 275.8l-16.3 -22M369.8 269.1l-15.4 -22.6M400.8 250.5l-12.7 -24.2M388.6 257.3l-13.8 -23.6M449 230.2l-8.5 -26M421.8 240.5l-10.9 -25.1M477.9 222.3l-5.9 -26.7M491.2 219.6l-4.8 -26.9M513.5 216.5l-2.8 -27.2M477.8 222.3l-5.9 -26.7M472.1 223.6l-6.4 -26.6M484.6 220.8l-5.3 -26.8" stroke="#3f8cc4" stroke-width="0.9" fill="none"/>
<path d="M577.4 216.5l2.8 -27.2M577.2 216.5l2.8 -27.2M577.4 216.5l2.8 -27.2M581.6 217l3.2 -27.2M629.9 226.6l7.5 -26.3M579.8 216.8l3 -27.2M575.8 216.4l2.7 -27.2M665.7 239.1l10.6 -25.2M673.2 242.4l11.3 -24.9M645.1 231.3l8.8 -25.9M684.4 247.7l12.2 -24.5M660.4 237l10.1 -25.4M721.8 269.9l15.5 -22.5M743.2 286l17.4 -21.1M754.9 296.2l18.5 -20.2M752.9 294.4l18.3 -20.3M753.4 294.8l18.3 -20.3M774.1 315.3l20.1 -18.5M787.3 330.7l21.3 -17.2M807.8 359.3l23.1 -14.6M802 350.5l22.6 -15.4M816.8 374.6l23.9 -13.3M800.9 348.9l22.5 -15.5M817 374.9l23.9 -13.3M798.4 345.3l22.3 -15.9M844.3 441.2l26.3 -7.4M851.4 472.3l26.9 -4.7M849.5 588.3l26.8 5.5M853.4 565.1l27.1 3.5M853.8 562.1l27.2 3.2M853.5 564.2l27.1 3.4M836.8 633l25.7 9.5M838.6 627.8l25.8 9M813.1 682.9l23.6 13.9M825.3 660.1l24.6 11.9M806.7 693.3l23 14.8M813.7 681.9l23.6 13.8M810 688.1l23.3 14.3M790.4 716.3l21.6 16.8M764.2 745.9l19.3 19.4M786.8 720.9l21.3 17.2M773.4 736.3l20.1 18.6M755.1 754.6l18.5 20.2M733.2 772.9l16.5 21.8M753.9 755.7l18.4 20.3M731.3 774.3l16.4 21.9M647.9 818.7l9 25.8M657.5 815.2l9.9 25.5M659.2 814.5l10 25.4M667.1 811.3l10.7 25.2M695.4 797.5l13.2 23.9M622.1 826.5l6.8 26.5M635.4 822.8l7.9 26.2M550.2 836.1l0.4 27.3M555.4 836l0.9 27.3M483 829.8l-5.5 26.8M505.8 833.6l-3.5 27.1M483.3 829.9l-5.5 26.8M475.3 828.2l-6.2 26.6M502.2 833.2l-3.8 27.1M481 829.4l-5.7 26.8M416.7 808.3l-11.3 24.9M419.9 809.7l-11 25M355.6 771.5l-16.7 21.7M368.3 780.8l-15.6 22.5M356.7 772.3l-16.6 21.7M301.5 718l-21.5 16.9M259.7 647.7l-25.1 10.8M260.7 650.1l-25.1 11M254.6 635.2l-25.6 9.7M258.7 645.3l-25.2 10.5M241.3 589.3l-26.8 5.6M241.9 592.4l-26.7 5.9M234.9 537l-27.3 1M234.7 524.8l-27.3 -0.1M235.2 543.7l-27.3 1.6M236 497.1l-27.2 -2.5M240.3 466.5l-26.9 -5.2M241.6 460l-26.7 -5.8M263.6 394.6l-24.8 -11.5M261 400.2l-25 -11M256.9 410.1l-25.4 -10.2M248.2 434.9l-26.2 -8M246.9 439l-26.3 -7.6M274.7 372.9l-23.8 -13.4M282.3 360.2l-23.2 -14.5M270 381.6l-24.2 -12.7M343.5 289.3l-17.8 -20.8M324.6 306.9l-19.4 -19.2M338.2 294l-18.2 -20.4M340.9 291.6l-18 -20.6M382.8 260.7l-14.3 -23.3M371.1 268.3l-15.3 -22.6M399 251.4l-12.9 -24.1M401.2 250.3l-12.7 -24.2M382.5 260.9l-14.3 -23.3M439.8 233.3l-9.3 -25.7M440.7 233l-9.2 -25.8M449.7 229.9l-8.4 -26M424.4 239.4l-10.6 -25.2M494.4 219l-4.5 -27M497.4 218.6l-4.2 -27M468.4 224.5l-6.8 -26.5M498.4 218.4l-4.1 -27" stroke="#3f8cc4" stroke-width="0.7" fill="none"/>
<path d="M589.6 218l3.9 -27.1M576.4 216.4l2.7 -27.2M578.1 216.6l2.9 -27.2M647 232l9 -25.8M662.1 237.6l10.3 -25.3M668.7 240.4l10.9 -25.1M748.6 290.6l17.9 -20.7M696.2 254l13.3 -23.9M749.3 291.3l18 -20.6M712.6 263.7l14.7 -23M775.9 317.3l20.3 -18.3M774.3 315.6l20.2 -18.5M780 322l20.7 -17.9M798.3 345.3l22.3 -15.9M820 380.4l24.2 -12.8M815.4 372l23.8 -13.5M809.6 362.3l23.3 -14.4M812.4 366.9l23.5 -14M797.5 344.1l22.2 -16M845.8 446.9l26.5 -6.9M833.1 408.4l25.3 -10.3M836.1 416.3l25.6 -9.6M844.4 441.4l26.3 -7.4M834.9 413l25.5 -9.9M849.2 461.1l26.8 -5.7M854.9 500l27.3 -2.2M849.2 460.9l26.8 -5.7M854.6 496.4l27.2 -2.6M850.1 465.7l26.8 -5.3M854.9 499.5l27.3 -2.3M855.4 506.7l27.3 -1.7M853.5 564.4l27.1 3.4M855.2 547.4l27.3 1.9M851 580.6l26.9 4.8M843.3 613.3l26.2 7.7M821.3 668.2l24.3 12.6M809.7 688.6l23.3 14.4M807 692.9l23 14.7M772.7 737.1l20 18.6M765.4 744.7l19.4 19.3M764.5 745.6l19.3 19.4M748.4 760.6l17.9 20.7M653.9 816.5l9.6 25.6M672.5 808.9l11.2 25M660.9 813.9l10.2 25.4M605 830.4l5.3 26.8M627 825.2l7.2 26.4M569.6 835.2l2.1 27.3M528.8 835.7l-1.4 27.3M537.6 836.1l-0.7 27.3M525.6 835.5l-1.7 27.3M560.6 835.8l1.3 27.3M482.8 829.8l-5.5 26.8M502 833.1l-3.8 27.1M473.9 827.8l-6.3 26.6M477.2 828.6l-6 26.7M498.1 832.5l-4.2 27M485.7 830.4l-5.2 26.8M433.1 815.2l-9.9 25.5M391 795.1l-13.6 23.7M393.9 796.8l-13.3 23.9M361.9 776.2l-16.1 22.1M285.2 695.4l-22.9 15M284.6 694.4l-23 14.9M311.9 730.5l-20.5 18M304.4 721.6l-21.2 17.3M305.5 723l-21.1 17.4M303.9 721l-21.3 17.2M272.9 674.9l-24 13.1M258.9 645.8l-25.2 10.6M268.3 666.1l-24.4 12.4M269.5 668.4l-24.3 12.6M248.2 616.1l-26.2 8M235.4 547.3l-27.3 1.9M234.8 535.4l-27.3 0.9M235.9 553.6l-27.2 2.5M235.9 553l-27.2 2.4M236.2 494.6l-27.2 -2.7M235.7 500.2l-27.3 -2.2M239.6 470l-26.9 -4.9M235.8 499l-27.3 -2.3M239.1 472.8l-27 -4.6M235.6 500.7l-27.3 -2.2M250 429l-26 -8.5M247.8 436.2l-26.2 -7.9M248 435.5l-26.2 -7.9M248.2 434.9l-26.2 -8M273.7 374.7l-23.9 -13.3M273.7 374.6l-23.9 -13.3M271 379.7l-24.2 -12.8M323.2 308.3l-19.6 -19.1M306.4 327l-21 -17.5M313.4 318.8l-20.4 -18.2M340.9 291.6l-18 -20.6M321.1 310.5l-19.7 -18.9M400.6 250.6l-12.7 -24.2M426.2 238.6l-10.5 -25.3M469.5 224.2l-6.7 -26.5M520.6 215.8l-2.2 -27.3M497 218.6l-4.3 -27M485.1 220.7l-5.3 -26.8M474.4 223l-6.2 -26.6M518.8 216l-2.3 -27.3" stroke="#3f8cc4" stroke-width="1.2" fill="none"/>
<path d="M581.6 217l3.2 -27.2M606.4 220.9l5.4 -26.8M708.8 261.3l14.4 -23.3M716.9 266.5l15.1 -22.8M719.8 268.5l15.4 -22.6M786.3 329.5l21.2 -17.3M789 332.9l21.5 -17M806.7 357.7l23 -14.8M832.2 406.3l25.3 -10.5M836.8 418l25.7 -9.5M844.1 440.4l26.3 -7.5M844.3 441.3l26.3 -7.4M843.3 437.8l26.2 -7.7M840.8 429.8l26 -8.4M827.7 396.1l24.9 -11.4M837 418.6l25.7 -9.4M848.4 457.5l26.7 -6M851.9 475.5l27 -4.4M848.8 591.9l26.7 5.8M855.7 536.7l27.3 1M849.3 589.3l26.8 5.6M830.3 649l25.1 10.9M841.7 618.4l26.1 8.2M843.2 613.5l26.2 7.7M766.9 743.2l19.5 19.2M780.2 728.8l20.7 17.9M736.8 770.1l16.9 21.5M727.9 776.8l16.1 22.1M718.5 783.4l15.3 22.7M713.4 786.7l14.8 23M707.9 790.2l14.3 23.3M720.4 782.1l15.4 22.6M751.7 757.7l18.2 20.4M729.9 775.4l16.2 22M680 805.4l11.9 24.6M685.4 802.8l12.3 24.4M663 813l10.4 25.3M676 807.3l11.5 24.8M606.8 830l5.4 26.8M624.4 825.9l7 26.4M565.1 835.5l1.7 27.3M546.2 836.1l0.1 27.3M540.6 836.1l-0.4 27.3M468.4 826.5l-6.8 26.5M485.7 830.4l-5.2 26.8M490.3 831.2l-4.8 26.9M481.1 829.4l-5.7 26.8M398.9 799.5l-12.9 24.1M423.6 811.3l-10.7 25.2M355.3 771.3l-16.7 21.6M367.1 780l-15.7 22.4M340 758.6l-18.1 20.5M349.3 766.5l-17.3 21.2M345.9 763.7l-17.6 21M355 771.1l-16.8 21.6M281.1 688.8l-23.3 14.4M281.3 689.3l-23.2 14.4M303 719.9l-21.3 17.1M284.2 693.9l-23 14.8M312.5 731.2l-20.5 18.1M256 638.6l-25.5 10M255.3 636.8l-25.5 9.8M257.1 641.4l-25.4 10.2M272.3 673.7l-24 13M257.1 641.5l-25.4 10.2M239.2 578.6l-26.9 4.7M235.9 553.7l-27.2 2.5M240 468l-26.9 -5.1M242.2 457.6l-26.7 -6M240.2 467.2l-26.9 -5.1M239 473.6l-27 -4.6M235.4 503.7l-27.3 -1.9M248.3 434.6l-26.2 -8M248.2 434.7l-26.2 -8M247.5 437.1l-26.2 -7.8M288.2 351.1l-22.6 -15.4M270.3 381.1l-24.2 -12.7M343.1 289.6l-17.8 -20.8M311.8 320.6l-20.6 -18M342.8 289.9l-17.8 -20.7M317.3 314.6l-20.1 -18.6M340.4 292l-18 -20.6M320.6 310.9l-19.8 -18.9M361.9 274.7l-16.1 -22.1M352.1 282.2l-17 -21.4M386.8 258.3l-14 -23.5M399.9 251l-12.8 -24.2M384.9 259.5l-14.1 -23.4M438 234l-9.4 -25.7M446 231.1l-8.7 -25.9M440 233.2l-9.3 -25.7M438.9 233.6l-9.4 -25.7M509.3 216.9l-3.2 -27.2M489.3 219.9l-4.9 -26.9M506.8 217.2l-3.4 -27.1M509.4 216.9l-3.2 -27.2" stroke="#3f8cc4" stroke-width="0.6" fill="none"/>
<path d="M610 221.7l5.7 -26.8M581.5 217l3.2 -27.2M584.3 217.3l3.4 -27.1M588.3 217.8l3.8 -27.1M680.5 245.8l11.9 -24.6M656.8 235.6l9.8 -25.5M747.4 289.6l17.8 -20.8M710.3 262.3l14.5 -23.2M741.9 285l17.3 -21.2M755.7 297l18.5 -20.1M782.6 325l20.9 -17.7M781.3 323.4l20.8 -17.8M775.4 316.8l20.3 -18.4M778.1 319.8l20.5 -18.1M782.4 324.8l20.9 -17.7M807.2 358.5l23.1 -14.7M818.2 377.1l24 -13.1M809.4 362l23.3 -14.4M807.5 358.8l23.1 -14.7M796.3 342.4l22.1 -16.1M833.3 408.9l25.4 -10.3M831.9 405.6l25.2 -10.6M850.5 467.4l26.9 -5.1M855.9 524.3l27.3 -0.1M840.5 622.1l26 8.5M841.3 619.9l26.1 8.3M840.2 623.1l26 8.6M841.2 620.1l26.1 8.3M843.9 611.1l26.3 7.5M804.5 696.7l22.8 15.1M804.2 697.2l22.8 15.1M773.8 735.9l20.1 18.5M744.6 763.8l17.5 21M754.8 754.9l18.4 20.2M691.1 799.8l12.8 24.2M693 798.8l13 24.1M675.7 807.5l11.5 24.8M679 805.9l11.8 24.7M620.8 826.8l6.6 26.5M529.4 835.7l-1.4 27.3M560.5 835.8l1.3 27.3M508.1 833.9l-3.3 27.2M476.5 828.4l-6.1 26.7M471.8 827.3l-6.5 26.6M488.5 830.9l-5 26.9M481.6 829.5l-5.6 26.8M471.1 827.2l-6.5 26.6M489.9 831.2l-4.9 26.9M471.2 827.2l-6.5 26.6M400.8 800.5l-12.7 24.2M424.5 811.7l-10.6 25.2M416.5 808.2l-11.3 24.9M396.8 798.3l-13.1 24M409 804.6l-12 24.6M422.6 810.9l-10.8 25.1M428.8 813.5l-10.3 25.4M346.1 763.9l-17.5 21M371.2 782.8l-15.3 22.7M283.5 692.7l-23.1 14.7M305 722.4l-21.2 17.3M286.9 698l-22.7 15.2M303.5 720.5l-21.3 17.2M262.7 654.4l-24.9 11.4M262.6 654.2l-24.9 11.3M259.5 647.3l-25.2 10.7M245.8 608.1l-26.4 7.3M247.1 612.6l-26.3 7.7M239.3 579.3l-26.9 4.7M237.4 566.7l-27.1 3.6M234.7 524.3l-27.3 -0.1M235.2 506.8l-27.3 -1.6M241 462.9l-26.8 -5.5M240.4 466.2l-26.8 -5.2M239.7 469.7l-26.9 -4.9M239.4 471.2l-26.9 -4.8M248.3 434.5l-26.2 -8M248.3 434.3l-26.1 -8M276.7 369.5l-23.7 -13.7M321.9 309.6l-19.7 -19M324.3 307.2l-19.5 -19.2M334.2 297.6l-18.6 -20.1M321 310.6l-19.8 -18.9M378.3 263.5l-14.7 -23.1M402.2 249.8l-12.6 -24.3M377.7 264l-14.8 -23M378.6 263.4l-14.7 -23.1M435.2 235l-9.7 -25.6M449.9 229.9l-8.4 -26M436 234.7l-9.6 -25.6M483.9 221l-5.4 -26.8M471.2 223.8l-6.5 -26.6M504.1 217.6l-3.6 -27.1" stroke="#3f8cc4" stroke-width="0.5" fill="none"/>
<path d="M772.3 313.4l20 -18.7M843.1 437l26.2 -7.8M850.1 465.4l26.8 -5.3M851.3 578.9l26.9 4.7M688 801.5l12.6 24.3" stroke="#3f8cc4" stroke-width="4" fill="none"/>
<path d="M808.1 691.2l23.1 14.6M691.8 799.4l12.9 24.1M550.8 836.1l0.5 27.3M380.3 262.3l-14.5 -23.2" stroke="#3f8cc4" stroke-width="3" fill="none"/>
<path d="M446.5 820l-8.7 25.9M261.7 652.3l-25 11.2M245.4 606.4l-26.4 7.1M235.3 546.2l-27.3 1.8" stroke="#3f8cc4" stroke-width="2.2" fill="none"/>
<g fill="#a3d59c" stroke="#e5691c" stroke-width="0.9"><path d="M567.8 289.3A237.2 237.2 0 0 1 612.8 298.1L604.6 325.5A208.6 208.6 0 0 0 565 317.8Z"/><path d="M617.9 299.6A237.2 237.2 0 0 1 653.6 314.4L640.6 339.9A208.6 208.6 0 0 0 609.1 326.9Z"/><path d="M658.4 316.9A237.2 237.2 0 0 1 706.9 351.8L687.4 372.8A208.6 208.6 0 0 0 644.7 342.1Z"/><path d="M710.7 355.4A237.2 237.2 0 0 1 731.6 378.6L709.1 396.3A208.6 208.6 0 0 0 690.8 376Z"/><path d="M734.8 382.8A237.2 237.2 0 0 1 758.4 421.2L732.6 433.8A208.6 208.6 0 0 0 712 400Z"/><path d="M760.7 426A237.2 237.2 0 0 1 775.2 466.9L747.4 474A208.6 208.6 0 0 0 734.7 438Z"/><path d="M776.5 472.1A237.2 237.2 0 0 1 782.4 517.2L753.8 518.2A208.6 208.6 0 0 0 748.5 478.5Z"/><path d="M782.5 522.5A237.2 237.2 0 0 1 775.8 581.7L748 574.9A208.6 208.6 0 0 0 753.9 522.9Z"/><path d="M774.5 586.9A237.2 237.2 0 0 1 762.3 621.5L736.1 609.9A208.6 208.6 0 0 0 746.8 579.4Z"/><path d="M760.1 626.3A237.2 237.2 0 0 1 736.1 666.5L713.1 649.5A208.6 208.6 0 0 0 734.1 614.1Z"/><path d="M732.9 670.7A237.2 237.2 0 0 1 709.7 696.6L689.8 675.9A208.6 208.6 0 0 0 710.3 653.2Z"/><path d="M705.8 700.2A237.2 237.2 0 0 1 668.5 728.2L653.6 703.8A208.6 208.6 0 0 0 686.4 679.1Z"/><path d="M664 730.9A237.2 237.2 0 0 1 619.3 750.9L610.4 723.7A208.6 208.6 0 0 0 649.6 706.1Z"/><path d="M614.2 752.5A237.2 237.2 0 0 1 574.4 761L570.9 732.5A208.6 208.6 0 0 0 605.9 725.1Z"/><path d="M569.1 761.6A237.2 237.2 0 0 1 528.1 762.1L530.2 733.6A208.6 208.6 0 0 0 566.2 733Z"/><path d="M522.8 761.7A237.2 237.2 0 0 1 464.9 748.7L474.6 721.8A208.6 208.6 0 0 0 525.6 733.2Z"/><path d="M459.9 746.9A237.2 237.2 0 0 1 423.6 729.1L438.3 704.6A208.6 208.6 0 0 0 470.2 720.1Z"/><path d="M419 726.4A237.2 237.2 0 0 1 381.7 697.3L401.4 676.6A208.6 208.6 0 0 0 434.3 702.1Z"/><path d="M377.9 693.6A237.2 237.2 0 0 1 342.8 649.1L367.3 634.2A208.6 208.6 0 0 0 398.1 673.3Z"/><path d="M340.1 644.6A237.2 237.2 0 0 1 322.4 606.8L349.3 597A208.6 208.6 0 0 0 364.9 630.2Z"/><path d="M320.6 601.8A237.2 237.2 0 0 1 311.3 564.6L339.5 559.8A208.6 208.6 0 0 0 347.8 592.5Z"/><path d="M310.5 559.3A237.2 237.2 0 0 1 308.2 517.9L336.8 518.8A208.6 208.6 0 0 0 338.8 555.2Z"/><path d="M308.4 512.6A237.2 237.2 0 0 1 315.7 465.9L343.4 473.1A208.6 208.6 0 0 0 337 514.1Z"/><path d="M317 460.8A237.2 237.2 0 0 1 330.8 424.2L356.7 436.4A208.6 208.6 0 0 0 344.6 468.6Z"/><path d="M333.1 419.4A237.2 237.2 0 0 1 357.6 380.4L380.2 397.9A208.6 208.6 0 0 0 358.7 432.2Z"/><path d="M360.9 376.2A237.2 237.2 0 0 1 391.9 344.6L410.4 366.4A208.6 208.6 0 0 0 383.1 394.3Z"/><path d="M396 341.2A237.2 237.2 0 0 1 437.6 314.1L450.6 339.6A208.6 208.6 0 0 0 414 363.4Z"/><path d="M442.4 311.7A237.2 237.2 0 0 1 478.8 297.8L486.8 325.3A208.6 208.6 0 0 0 454.8 337.5Z"/><path d="M483.9 296.3A237.2 237.2 0 0 1 527.3 288.9L529.5 317.5A208.6 208.6 0 0 0 491.3 324Z"/></g>
<path d="M592.2 321.8l6.3 -27.1M589.5 321.2l5.9 -27.2M568.7 317.8l3.1 -27.7M583.1 319.9l5 -27.4M570.8 318.1l3.4 -27.6M600.3 323.9l7.3 -26.9M571.9 318.2l3.6 -27.6M577.1 318.9l4.2 -27.5M593.7 322.2l6.4 -27.1M651.3 345.4l14.1 -24M673.5 360.5l17.1 -22M664.3 353.7l15.9 -22.9M676.7 363l17.5 -21.7M686.9 371.8l18.9 -20.5M678.3 364.2l17.7 -21.5M695.6 380.2l20 -19.4M694.3 378.9l19.9 -19.5M692.8 377.4l19.7 -19.7M695.3 380l20 -19.4M722.3 414.4l23.6 -14.8M725.4 419.5l24 -14.1M724.2 417.5l23.8 -14.4M725.4 419.4l24 -14.1M730.8 429.2l24.7 -12.8M739.9 449.3l25.9 -10.1M746.3 468.3l26.8 -7.6M750.6 486.3l27.4 -5.2M753.7 510.3l27.8 -2M752.7 551.5l27.6 3.5M748.5 574.6l27.1 6.5M728.7 625.8l24.4 13.4M730.1 623.2l24.6 13M721.2 638.4l23.4 15M691.1 675.2l19.4 19.9M703 662.7l21 18.3M662.2 698.7l15.6 23.1M679.9 685.4l17.9 21.3M682.2 683.4l18.2 21M670.8 692.6l16.7 22.3M622.2 719.8l10.2 25.9M587.3 730.2l5.6 27.3M586.9 730.3l5.5 27.3M536.5 734.3l-1.2 27.8M547.1 734.5l0.2 27.8M530.7 734l-1.9 27.8M566 733.5l2.8 27.7M477.3 723.1l-9.1 26.3M507.4 731l-5 27.4M488 726.5l-7.6 26.8M457.2 715l-11.7 25.3M410.2 684.9l-18 21.2M407.6 682.7l-18.4 20.9M373.8 645l-22.8 15.9M384.8 659.4l-21.4 17.8M369.1 637.9l-23.5 15M376 648l-22.6 16.3M372.3 642.8l-23.1 15.6M378.4 651.2l-22.2 16.8M391.8 667.3l-20.5 18.9M389.3 664.6l-20.8 18.5M354.9 611.6l-25.4 11.5M356.7 615.6l-25.1 12M339.5 562.1l-27.4 4.9M340.8 568.5l-27.3 5.7M336.5 535.3l-27.8 1.3M338.3 554.4l-27.6 3.8M338.2 553.7l-27.6 3.8M336.3 523.8l-27.8 -0.2M346.2 461.8l-26.5 -8.5M345.4 464.3l-26.6 -8.1M345.3 464.9l-26.7 -8.1M365.4 419.1l-24 -14.2M408.9 367.2l-18.2 -21.1M409 367.1l-18.2 -21.1M406 369.7l-18.6 -20.8M405.6 370.1l-18.6 -20.7M394.7 380.6l-20.1 -19.3M415.6 361.6l-17.3 -21.8M436.8 346.9l-14.5 -23.8M421 357.5l-16.6 -22.4M423 356l-16.3 -22.6M472.9 329.4l-9.6 -26.1M472.2 329.7l-9.7 -26.1M511.7 319.2l-4.5 -27.5M527.8 317.2l-2.3 -27.8M515.6 318.6l-4 -27.6M527.2 317.3l-2.4 -27.7M505.7 320.3l-5.3 -27.3M525.6 317.4l-2.6 -27.7M492.2 323.4l-7.1 -26.9" stroke="#e5691c" stroke-width="1.2" fill="none"/>
<path d="M570.6 318l3.4 -27.6M596.7 322.9l6.8 -27M599.1 323.5l7.2 -26.9M567.7 317.7l3 -27.7M583 319.9l5 -27.4M571.7 318.2l3.5 -27.6M632 335.3l11.5 -25.3M630.6 334.7l11.4 -25.4M672.6 359.7l17 -22.1M666.1 354.9l16.1 -22.7M717.9 407.6l23 -15.7M730.9 429.5l24.7 -12.8M718 407.8l23 -15.7M719.3 409.7l23.2 -15.4M725.7 420l24 -14.1M754.1 516.9l27.8 -1.1M751.3 490.3l27.5 -4.7M751.9 494.2l27.5 -4.2M749.9 482.8l27.3 -5.7M750 567.6l27.3 5.6M753.8 539.6l27.8 1.9M744.6 588.6l26.6 8.4M743.2 592.7l26.4 9M741.5 597.5l26.1 9.6M722 637.1l23.6 14.9M728.1 626.8l24.4 13.5M694 672.4l19.8 19.6M697.9 668.3l20.3 19M704.3 661.2l21.2 18.1M697.4 668.8l20.3 19.1M694 672.4l19.8 19.6M675.3 689.1l17.3 21.8M677.5 687.4l17.6 21.6M670.7 692.7l16.7 22.3M678.6 686.4l17.8 21.4M682.7 683l18.3 21M643.2 710.2l13 24.6M644.8 709.3l13.3 24.5M621.4 720.1l10.1 25.9M618.6 721.2l9.8 26.1M572.1 732.8l3.6 27.6M582.4 731.2l4.9 27.4M537.8 734.4l-1 27.8M537.6 734.4l-1 27.8M543.7 734.5l-0.2 27.8M545 734.5l0 27.8M540.2 734.4l-0.7 27.8M494.2 728.2l-6.8 27M510.8 731.6l-4.6 27.5M515.2 732.3l-4 27.6M513.9 732.1l-4.2 27.5M451.9 712.4l-12.5 24.9M465.9 718.8l-10.6 25.8M431.6 700.9l-15.2 23.4M433.8 702.3l-14.9 23.6M428.5 698.8l-15.6 23.1M415.7 689.4l-17.3 21.8M419.9 692.7l-16.7 22.3M426.9 697.7l-15.8 22.9M411.9 686.4l-17.8 21.4M418.1 691.4l-16.9 22.1M421.6 693.9l-16.5 22.4M393 668.7l-20.3 19.1M349.9 599.8l-26 9.9M339.9 564.1l-27.4 5.1M343.4 579.6l-26.9 7.2M337.6 548.4l-27.7 3M336.5 534l-27.8 1.1M337.1 543.6l-27.7 2.4M336.8 510.8l-27.8 -2M340.5 483.9l-27.3 -5.5M341.8 477.8l-27.1 -6.4M344.8 466.5l-26.7 -7.9M355.1 438.9l-25.3 -11.5M358.9 430.9l-24.8 -12.6M359.3 430.1l-24.8 -12.7M365.8 418.4l-23.9 -14.3M405.6 370.1l-18.6 -20.7M397.9 377.3l-19.6 -19.7M404.6 370.9l-18.7 -20.6M383.6 393.1l-21.5 -17.6M406.9 368.9l-18.4 -20.9M416.3 361l-17.2 -21.9M429.7 351.4l-15.4 -23.2M470.1 330.5l-10 -26M480.9 326.7l-8.6 -26.5M486.3 325l-7.9 -26.7M462.5 333.6l-11 -25.6M485.5 325.3l-8 -26.7M496.2 322.3l-6.5 -27.1M523.2 317.7l-2.9 -27.7M528.2 317.2l-2.3 -27.8M524.1 317.6l-2.8 -27.7M527.6 317.3l-2.4 -27.8M529.1 317.1l-2.2 -27.8M496.9 322.2l-6.5 -27.1" stroke="#e5691c" stroke-width="0.5" fill="none"/>
<path d="M576.8 318.9l4.2 -27.5M567.9 317.7l3 -27.7M571 318.1l3.4 -27.6M572.5 318.3l3.6 -27.6M604 324.9l7.8 -26.7M635.1 336.8l12 -25.2M663.4 353.1l15.7 -23M732.6 432.7l25 -12.4M724.7 418.2l23.9 -14.3M721.2 412.6l23.4 -15M737.9 444.5l25.7 -10.8M749.9 483l27.3 -5.7M752.3 496.3l27.6 -3.9M749.9 482.8l27.3 -5.7M754.1 533.8l27.8 1.1M749.3 571l27.2 6.1M742.8 594l26.3 9.1M743 593.4l26.3 9M733 617.4l25 12.2M720.8 639l23.4 15.1M722.9 635.7l23.7 14.7M722.1 636.9l23.6 14.8M721.1 638.5l23.4 15.1M724.4 633.2l23.9 14.3M724.9 632.4l23.9 14.3M727 628.8l24.2 13.8M694.2 672.1l19.8 19.5M697 669.2l20.2 19.2M658.3 701.3l15.1 23.4M662.9 698.3l15.7 23M675.2 689.3l17.3 21.8M680.6 684.8l18 21.2M669.5 693.6l16.6 22.4M614.5 722.7l9.2 26.3M629.8 716.6l11.3 25.5M578.2 731.9l4.4 27.5M579.1 731.7l4.5 27.5M574.3 732.5l3.9 27.6M532.7 734.1l-1.7 27.8M540.8 734.5l-0.6 27.8M550.1 734.4l0.6 27.8M505.7 730.7l-5.3 27.3M468.1 719.7l-10.3 25.9M452.5 712.8l-12.4 25M448.2 710.6l-12.9 24.7M462.2 717.3l-11.1 25.6M406 681.3l-18.6 20.8M432.4 701.4l-15 23.4M425.8 696.9l-15.9 22.8M424.2 695.8l-16.1 22.7M419.3 692.2l-16.8 22.2M372.7 643.4l-23 15.7M382.4 656.4l-21.7 17.4M380.4 653.9l-22 17.1M390.4 665.9l-20.6 18.7M368.2 636.4l-23.6 14.8M350 599.8l-26 9.9M358 618.2l-25 12.4M351.8 604.6l-25.8 10.5M340 564.6l-27.4 5.2M339.8 563.6l-27.4 5.1M347.2 592l-26.4 8.9M343.7 580.6l-26.9 7.3M339.5 562.1l-27.4 4.9M339.6 562.5l-27.4 4.9M340.3 566.4l-27.3 5.4M336.4 533l-27.8 1M337.3 545.7l-27.7 2.7M337.2 544.6l-27.7 2.5M337.4 546.6l-27.7 2.8M338.4 554.9l-27.6 3.9M337.9 551.4l-27.6 3.5M342.3 475.8l-27.1 -6.6M339.3 490.2l-27.4 -4.7M339.1 491.2l-27.5 -4.6M337.4 503.8l-27.7 -2.9M339.8 487.5l-27.4 -5.1M341.3 479.8l-27.2 -6.1M355 439.2l-25.4 -11.5M346.3 461.8l-26.5 -8.5M350.7 449.3l-25.9 -10.2M359.7 429.5l-24.7 -12.8M373.6 406.3l-22.9 -15.9M366.4 417.4l-23.8 -14.4M397.1 378.1l-19.7 -19.6M397.1 378.1l-19.7 -19.6M407 368.8l-18.4 -20.9M422.9 356.1l-16.3 -22.6M414.6 362.4l-17.4 -21.7M421.9 356.9l-16.4 -22.5M474.2 328.9l-9.5 -26.2M466.4 332l-10.5 -25.8M474.5 328.8l-9.4 -26.2M483.3 325.9l-8.3 -26.6M467.6 331.5l-10.3 -25.9M526 317.4l-2.6 -27.7M493.4 323.1l-6.9 -27M517.3 318.4l-3.7 -27.6M525.8 317.4l-2.6 -27.7" stroke="#e5691c" stroke-width="0.7" fill="none"/>
<path d="M593.6 322.2l6.4 -27.1M570 318l3.3 -27.7M568 317.7l3 -27.7M596.9 323l6.9 -27M634 336.2l11.8 -25.2M631 334.9l11.4 -25.4M636.3 337.3l12.1 -25.1M629.2 334.1l11.2 -25.5M629.4 334.2l11.2 -25.5M646.4 342.6l13.5 -24.4M679.9 365.6l17.9 -21.3M681.6 367l18.2 -21.1M673 360.1l17 -22M703.9 389.3l21.1 -18.1M704.2 389.7l21.2 -18.1M739.2 447.6l25.8 -10.4M741.5 453.5l26.1 -9.6M741.1 452.4l26.1 -9.7M739.1 447.2l25.8 -10.4M754.1 535.6l27.8 1.3M752.5 552.6l27.6 3.6M751.2 561.5l27.4 4.8M749 572.1l27.2 6.2M748.8 573l27.1 6.3M754.2 530.8l27.8 0.7M754.3 525.4l27.8 0M745.9 584.3l26.7 7.8M742.8 593.9l26.3 9.1M732.8 617.7l25 12.3M728.4 626.3l24.4 13.4M720.8 639.1l23.4 15.1M725.6 631.2l24 14.1M721.3 638.3l23.4 15M700.3 665.7l20.7 18.7M706.4 658.7l21.5 17.7M701.3 664.6l20.8 18.5M683.8 682.1l18.5 20.9M619.4 720.9l9.9 26M612.1 723.5l8.9 26.4M614.7 722.6l9.3 26.3M593.6 728.8l6.4 27.1M574.2 732.5l3.9 27.6M593.9 728.8l6.5 27.1M579 731.8l4.5 27.5M583.3 731l5.1 27.4M575.2 732.3l4 27.6M572.6 732.7l3.6 27.6M541.5 734.5l-0.5 27.8M531.5 734l-1.8 27.8M517.6 732.7l-3.7 27.6M480.9 724.3l-8.6 26.5M475.7 722.6l-9.3 26.3M509.4 731.4l-4.8 27.4M515.2 732.3l-4 27.6M520.4 733l-3.3 27.7M456.7 714.8l-11.8 25.2M457.5 715.2l-11.7 25.3M457.8 715.3l-11.7 25.3M464.5 718.3l-10.8 25.7M458.1 715.5l-11.6 25.3M419.6 692.4l-16.8 22.2M409.8 684.7l-18.1 21.2M421.1 693.6l-16.5 22.4M413.4 687.6l-17.6 21.6M422.6 694.7l-16.3 22.5M394.6 670.3l-20.1 19.3M391 666.4l-20.6 18.8M389.7 665l-20.7 18.6M352.4 605.9l-25.7 10.7M355.3 612.5l-25.3 11.6M350.2 600.4l-26 10M344.6 584l-26.7 7.8M342.3 575.2l-27.1 6.6M340.7 568.1l-27.3 5.7M336.3 525.1l-27.8 -0.1M336.4 519.7l-27.8 -0.8M336.4 533.2l-27.8 1M336.4 533.3l-27.8 1M336.3 525.3l-27.8 0M340.4 484.2l-27.3 -5.5M341.5 479l-27.2 -6.2M354.2 440.8l-25.5 -11.3M344.5 467.4l-26.8 -7.7M352.1 445.7l-25.7 -10.6M354.8 439.5l-25.4 -11.5M347.1 459.1l-26.4 -8.8M347.1 459.2l-26.4 -8.8M361.1 426.8l-24.5 -13.2M373 407.2l-23 -15.8M407.1 368.7l-18.4 -20.9M406.6 369.1l-18.5 -20.8M409.1 366.9l-18.1 -21.1M480.6 326.8l-8.6 -26.5M473.4 329.3l-9.6 -26.2M463.3 333.3l-10.9 -25.6M481.6 326.4l-8.5 -26.5M476.8 328l-9.1 -26.3M519.7 318.1l-3.4 -27.6" stroke="#e5691c" stroke-width="0.6" fill="none"/>
<path d="M574.8 318.6l3.9 -27.6M578 319.1l4.4 -27.5M679.4 365.2l17.9 -21.4M685.6 370.6l18.7 -20.6M707.8 394.1l21.7 -17.5M717 406.4l22.9 -15.9M725.9 420.3l24.1 -14M716.1 405.1l22.8 -16M738 444.5l25.7 -10.8M739.3 447.8l25.9 -10.4M752.9 501.1l27.7 -3.2M753.2 504.6l27.7 -2.8M749.6 481.5l27.2 -5.9M752.7 551.3l27.6 3.4M748.5 574.3l27.1 6.5M741.2 598.4l26.1 9.7M722.9 635.6l23.7 14.7M725.6 631.1l24 14.1M730.2 623l24.6 13M728.8 625.5l24.5 13.3M728.6 625.8l24.4 13.4M681.2 684.3l18.1 21.2M679.3 685.9l17.9 21.4M664.3 697.3l15.9 22.9M666.2 696l16.1 22.7M672.1 691.6l16.9 22.1M631.7 715.8l11.5 25.4M611.6 723.7l8.8 26.4M577.4 732l4.3 27.5M600 727.2l7.3 26.9M590.8 729.5l6.1 27.2M578.5 731.9l4.4 27.5M579.6 731.7l4.6 27.5M547.3 734.5l0.3 27.8M541 734.5l-0.6 27.8M504.1 730.4l-5.5 27.3M520.9 733.1l-3.3 27.7M461.2 716.8l-11.2 25.5M449 711l-12.8 24.7M455.2 714.1l-12 25.1M432.5 701.5l-15 23.4M424.3 695.9l-16.1 22.7M405.2 680.6l-18.7 20.7M380.5 654l-22 17.1M381 654.7l-21.9 17.2M384.2 658.6l-21.5 17.7M388.9 664.2l-20.8 18.5M351.7 604.2l-25.8 10.5M352.2 605.4l-25.7 10.6M360.3 622.8l-24.6 13M336.4 532.5l-27.8 0.9M336.5 534.5l-27.8 1.2M342.2 476.4l-27.1 -6.5M341 481.3l-27.2 -5.9M338.7 493.8l-27.5 -4.2M345.6 464l-26.6 -8.2M348.1 456.2l-26.3 -9.2M344.8 466.5l-26.7 -7.9M351.2 448l-25.9 -10.3M345.9 462.9l-26.6 -8.3M353.4 442.8l-25.6 -11M361.9 425.4l-24.4 -13.3M360.9 427.1l-24.6 -13.1M359.5 429.8l-24.8 -12.7M405 370.6l-18.7 -20.6M390.3 385.3l-20.7 -18.7M406.7 369l-18.5 -20.9M462.2 333.7l-11.1 -25.6M475 328.7l-9.4 -26.2M470.9 330.2l-9.9 -26M483.9 325.7l-8.2 -26.6M505.2 320.4l-5.3 -27.3M520.8 317.9l-3.3 -27.7M503.1 320.8l-5.6 -27.3M528.8 317.2l-2.2 -27.8M523.5 317.6l-2.9 -27.7" stroke="#e5691c" stroke-width="0.9" fill="none"/>
<path d="M695.5 380.1l20 -19.4M478.1 723.4l-8.9 26.4M493.6 323l-6.9 -27" stroke="#e5691c" stroke-width="2.2" fill="none"/>
<path d="M751.9 494l27.5 -4.2M750.2 566.8l27.3 5.5" stroke="#e5691c" stroke-width="3" fill="none"/>
<path d="M742.6 594.5l26.3 9.2M576.3 732.2l4.1 27.5M422.7 356.3l-16.3 -22.6" stroke="#e5691c" stroke-width="4" fill="none"/>
<defs><path id="he" d="M573.2 231.5l2.4 0.2l0.3 -3.6l2.4 0.3l-0.3 2.4l2.3 0.2l-0.6 4.8l2.3 0.3l0.3 -2.4l2.3 0.3l0 0l2.3 0.3l0 0l2.3 0.3l-0.5 3.6l2.2 0.4l0 0l2.3 0.3l-1 5.9l2.2 0.4l-0.2 1.2l2.2 0.4l0 0l2.2 0.4l0.4 -2.4l2.2 0.5l0.3 -1.2l2.2 0.4l-0.3 1.2l2.2 0.5l0 0l2.2 0.5l0 0l2.2 0.5l0 0l2.2 0.5l0 0l2.2 0.5l-0.6 2.4l2.1 0.5l0.6 -2.3l2.2 0.5l-0.6 2.4l2.1 0.5l2.3 -8.1l2.2 0.7l-1 3.4l2.2 0.6l0 0l2.1 0.7l-10.6 35.6l-1.9 -0.5l-0.7 2.3l-1.9 -0.6l1.3 -4.6l-1.9 -0.5l1 -3.5l-2 -0.5l-1.5 5.8l-1.9 -0.5l2.1 -8.2l-2 -0.5l-0.3 1.2l-2 -0.5l-0.5 2.4l-2 -0.5l1.1 -4.7l-2 -0.4l0 0l-2 -0.5l0.8 -3.5l-2.1 -0.4l0.8 -3.6l-2.1 -0.4l-0.9 4.7l-2.1 -0.4l0 0l-2 -0.3l-0.7 3.5l-2 -0.4l0.5 -2.3l-2.1 -0.4l0.2 -1.2l-2 -0.3l-0.4 2.4l-2 -0.3l0 0l-2 -0.3l-0.4 2.3l-2 -0.2l-0.2 1.2l-2 -0.3l0.6 -4.8l-2 -0.2l-0.8 7.1l-2 -0.2l0.2 -2.4l-2 -0.2l-0.3 3.6l-2 -0.2zM634.9 244.1l2.2 0.7l0 0l2.3 0.7l-0.4 1.2l2.2 0.7l0.8 -2.2l2.3 0.8l0.8 -2.3l2.2 0.8l-1.6 4.5l2.2 0.8l-1.2 3.4l2.1 0.8l2.2 -5.6l2.2 0.9l-2.6 6.7l2.2 0.8l0 0l2.1 0.9l0 0l2.2 0.9l-1 2.2l2.2 0.9l-1 2.2l2.1 0.9l0 0l2.1 1l-0.5 1.1l2.1 0.9l-0.5 1.1l2.1 0.9l0 0l2 1l0 0l2.1 1l2.1 -4.3l2 1l1.1 -2.1l2.1 1l-1.6 3.2l2 1.1l-16 30.9l-1.8 -1l0 0l-1.8 -0.9l-1 2.2l-1.8 -0.9l1 -2.1l-1.8 -0.9l0 0l-1.8 -0.9l1.5 -3.2l-1.9 -0.9l3 -6.6l-1.9 -0.8l0.5 -1.1l-1.9 -0.9l-1 2.2l-1.9 -0.8l0 0l-2 -0.8l-0.9 2.2l-1.9 -0.8l0 0l-1.9 -0.8l0 0l-2 -0.8l0.5 -1.1l-2 -0.7l-0.8 2.2l-2 -0.7l0.5 -1.1l-2 -0.7l-0.8 2.2l-1.9 -0.7l-0.4 1.1l-2 -0.6l-0.4 1.1l-1.9 -0.7l0 0l-1.9 -0.6l0 0l-2 -0.6zM679.6 276l2 1.1l2.3 -4.2l2 1.1l1.2 -2.1l2 1.1l1.1 -2.1l2 1.2l0 0l2 1.1l0 0l2 1.2l0 0l2 1.2l3.1 -5.1l2.1 1.2l-2.6 4.1l2 1.3l2.6 -4.1l1.9 1.3l0 0l2 1.3l-3.3 5l2 1.3l-1.4 2l1.9 1.2l0 0l1.9 1.3l0 0l1.9 1.3l0 0l1.9 1.4l0 0l1.9 1.3l0 0l1.8 1.4l-17.1 23.1l-1.7 -1.2l-1.4 2l-1.6 -1.2l-1.4 1.9l-1.7 -1.2l-3.4 5l-1.7 -1.2l3.4 -4.9l-1.6 -1.2l-1.4 2l-1.7 -1.1l0 0l-1.6 -1.1l-0.7 1l-1.7 -1.1l1.3 -2l-1.7 -1.1l-1.9 3l-1.7 -1l0 0l-1.7 -1.1l0 0l-1.7 -1l1.3 -2.1l-1.8 -1l-0.6 1l-1.7 -1l1.8 -3.1l-1.8 -1l0 0l-1.7 -1l0 0l-1.8 -1l1.1 -2.1l-1.8 -1zM721.1 295.7l1.9 1.4l2.2 -2.8l1.9 1.5l-0.8 0.9l1.9 1.5l3.8 -4.7l1.9 1.6l0 0l1.9 1.6l-3.9 4.6l1.9 1.5l2.3 -2.7l1.9 1.6l-1.6 1.8l1.8 1.6l0 0l1.9 1.6l0 0l1.8 1.6l0 0l1.7 1.6l0 0l1.8 1.7l-24.6 26.2l-1.5 -1.4l0 0l-1.6 -1.4l0.8 -0.9l-1.6 -1.4l-4 4.4l-1.5 -1.3l0 0l-1.6 -1.4l0 0l-1.6 -1.4l1.6 -1.8l-1.7 -1.3l0.8 -1l-1.6 -1.3l0 0l-1.7 -1.3l0.8 -1l-1.7 -1.3l0.8 -0.9l-1.7 -1.4l0.7 -0.9l-1.7 -1.3zM744 320.1l1.6 1.6l0.9 -0.8l1.6 1.6l5.1 -5.1l1.7 1.7l-4.3 4.2l1.6 1.7l1.7 -1.7l1.7 1.7l0 0l1.6 1.7l1.7 -1.7l1.6 1.8l0 0l1.6 1.7l0 0l1.6 1.8l4.5 -4l1.6 1.8l-2.7 2.4l1.6 1.7l-3.7 3.2l1.5 1.8l0 0l1.6 1.8l5.5 -4.7l1.5 1.9l-4.6 3.8l1.5 1.8l0 0l1.4 1.8l3.8 -2.9l1.5 1.8l-32.1 25.2l-1.3 -1.6l-0.9 0.7l-1.3 -1.6l-1.9 1.5l-1.3 -1.5l-2.8 2.3l-1.2 -1.6l0.9 -0.7l-1.3 -1.6l2.7 -2.3l-1.3 -1.6l0 0l-1.4 -1.5l2.7 -2.4l-1.3 -1.5l0 0l-1.4 -1.6l0 0l-1.4 -1.5l0 0l-1.4 -1.5l0 0l-1.4 -1.5l1.7 -1.7l-1.5 -1.5l1.8 -1.7l-1.5 -1.5l4.3 -4.2l-1.6 -1.5l-5.9 5.9l-1.5 -1.4l0 0l-1.5 -1.5zM779.8 347.9l1.4 1.9l0 0l1.4 1.8l0 0l1.3 1.9l0 0l1.3 1.9l0 0l1.4 1.8l-1 0.7l1.3 1.9l3 -2l1.3 1.9l0 0l1.2 1.9l1 -0.7l1.3 2l0 0l1.3 2l-2 1.2l1.2 2l0 0l1.2 2l-4 2.5l1.1 1.9l0 0l1.2 2l-4.1 2.4l1.1 1.9l-2 1.3l1.1 1.9l0 0l1.1 1.9l6.2 -3.5l1.2 1.9l-3.2 1.8l1.1 2l2.1 -1.2l1.1 2l0 0l1 2l0 0l1.1 2l-4.3 2.2l1 2l10.7 -5.4l1.1 2l-5.4 2.7l1 2l-27 13.2l-0.9 -1.9l-1.1 0.6l-0.9 -1.8l0 0l-0.9 -1.9l0 0l-0.9 -1.8l0 0l-1 -1.7l6.4 -3.4l-1 -1.9l-1.1 0.6l-1 -1.8l0 0l-1 -1.8l-1 0.6l-1.1 -1.8l2.1 -1.2l-1 -1.8l1 -0.6l-1.1 -1.8l1.1 -0.7l-1.1 -1.8l-8.2 5l-1.1 -1.7l1 -0.6l-1 -1.8l0 0l-1.1 -1.7l-2 1.3l-1.1 -1.7l1 -0.6l-1.2 -1.7l0 0l-1.1 -1.7l0 0l-1.1 -1.7l-6.9 4.8l-1.2 -1.7l5 -3.4l-1.2 -1.6l0 0l-1.2 -1.7l0 0l-1.2 -1.6l3 -2.1l-1.3 -1.7l-5.7 4.3l-1.2 -1.5zM807.6 403.4l1 2l-4.4 2l0.9 2.1l2.2 -1l0.9 2.1l-1.1 0.4l0.9 2.1l0 0l0.9 2.1l-2.2 0.9l0.8 2.1l0 0l0.9 2l0 0l0.8 2.1l0 0l0.8 2.1l0 0l0.8 2.1l1.1 -0.4l0.8 2.1l2.2 -0.8l0.8 2.1l5.7 -2l0.7 2.1l-3.4 1.2l0.8 2.2l0 0l0.7 2.1l3.4 -1.1l0.7 2.2l0 0l0.7 2.2l2.3 -0.7l0.7 2.2l0 0l0.6 2.3l2.4 -0.7l0.6 2.2l-1.1 0.4l0.6 2.2l-3.5 1l0.6 2.2l0 0l0.6 2.2l1.2 -0.3l0.5 2.3l-38.4 9.7l-0.5 -2l2.4 -0.6l-0.5 -2l-2.4 0.7l-0.5 -2l2.3 -0.6l-0.5 -2l3.4 -0.9l-0.5 -2l-2.3 0.7l-0.6 -2l2.3 -0.7l-0.6 -1.9l2.3 -0.8l-0.7 -1.9l3.5 -1.1l-0.7 -2l-4.5 1.5l-0.7 -2l0 0l-0.7 -1.9l0 0l-0.6 -2l0 0l-0.7 -1.9l0 0l-0.8 -2l2.3 -0.8l-0.7 -2l0 0l-0.8 -1.9l0 0l-0.8 -1.9l1.2 -0.5l-0.8 -1.9l-1.1 0.4l-0.8 -1.9l2.2 -0.9l-0.8 -1.9l-3.3 1.4l-0.9 -1.9l-5.5 2.4l-0.8 -1.9l-4.4 2l-0.8 -1.8l0 0l-0.8 -1.8zM830.5 458.8l0.6 2.2l0 0l0.5 2.3l0 0l0.4 2.2l0 0l0.5 2.3l0 0l0.5 2.3l0 0l0.4 2.3l-2.4 0.4l0.4 2.2l0 0l0.4 2.3l0 0l0.4 2.3l0 0l0.4 2.2l-3.6 0.6l0.3 2.2l-1.2 0.2l0.3 2.2l-3.5 0.5l0.3 2.2l2.4 -0.3l0.2 2.3l7.2 -0.9l0.2 2.3l-8.3 0.9l0.2 2.2l6 -0.6l0.2 2.3l-5.9 0.6l0.2 2.2l-7.2 0.6l0.2 2.2l6 -0.5l0.1 2.3l4.8 -0.4l0.2 2.3l4.8 -0.3l0.1 2.3l0 0l0.1 2.3l7.2 -0.4l0.1 2.4l-13.2 0.5l0.1 2.3l-26.4 0.8l-0.1 -2l1.2 -0.1l-0.1 -2l2.4 -0.1l-0.1 -2.1l0 0l-0.1 -2.1l1.2 -0.1l-0.1 -2.1l-3.6 0.3l-0.2 -2l8.4 -0.7l-0.2 -2.1l-2.4 0.2l-0.2 -2.1l2.4 -0.3l-0.2 -2.1l-1.2 0.2l-0.2 -2.1l0 0l-0.3 -2.1l0 0l-0.2 -2.1l-6 0.7l-0.2 -2l0 0l-0.3 -2.1l1.2 -0.2l-0.3 -2l-2.4 0.4l-0.3 -2.1l0 0l-0.4 -2l-2.3 0.4l-0.4 -2l-3.5 0.6l-0.4 -2l0 0l-0.3 -2l1.1 -0.2l-0.4 -2l0 0l-0.4 -1.9l-2.3 0.4l-0.4 -1.9l-3.5 0.8l-0.5 -2l3.5 -0.8l-0.4 -1.9zM841.8 520.9l0 2.4l-4.8 0l0 2.4l3.6 0l0 2.3l-6 0l0 2.3l4.8 0.1l0 2.4l0 0l-0.1 2.3l-3.6 -0.1l-0.1 2.4l6 0.2l-0.1 2.4l-9.6 -0.5l-0.1 2.3l-1.2 0l-0.2 2.2l-1.2 0l-0.1 2.3l-2.4 -0.2l-0.2 2.2l-1.2 -0.1l-0.2 2.3l1.2 0.1l-0.2 2.3l1.2 0.1l-0.2 2.2l0 0l-0.3 2.3l2.4 0.3l-0.2 2.3l-7.2 -0.9l-0.3 2.2l2.4 0.3l-0.3 2.3l-1.2 -0.2l-0.3 2.2l-1.2 -0.1l-0.3 2.2l0 0l-0.4 2.2l3.6 0.6l-0.4 2.2l-2.4 -0.4l-0.4 2.2l4.8 0.9l-0.4 2.2l5.9 1.1l-0.5 2.3l-4.7 -0.9l-0.4 2.3l0 0l-0.5 2.2l2.3 0.5l-0.5 2.3l2.4 0.5l-0.5 2.3l-4.7 -1.1l-0.5 2.2l7 1.7l-0.6 2.3l-32.6 -8.1l0.5 -2l0 0l0.5 -2l-2.4 -0.6l0.5 -2l-2.4 -0.5l0.5 -2l-4.7 -1l0.4 -2l5.9 1.2l0.4 -2l0 0l0.4 -2l2.3 0.4l0.4 -2l0 0l0.3 -2l1.2 0.2l0.4 -2.1l2.3 0.4l0.4 -2.1l8.3 1.3l0.3 -2.2l-4.8 -0.7l0.4 -2.1l2.3 0.4l0.3 -2.2l0 0l0.3 -2.1l0 0l0.2 -2.1l3.6 0.4l0.3 -2.2l0 0l0.2 -2.2l-8.4 -0.8l0.2 -2.1l0 0l0.2 -2.1l0 0l0.1 -2.1l2.4 0.2l0.2 -2.2l-3.6 -0.2l0.1 -2.1l0 0l0.1 -2.1l0 0l0.1 -2.1l0 0l0.1 -2.1l0 0l0.1 -2.1l-2.4 -0.1l0 -2.1l0 0l0 -2.1l-1.2 0l0 -2l-2.4 -0.1l0 -2l-2.4 0l0 -2zM826.2 599.8l-0.6 2.3l2.3 0.6l-0.6 2.3l-1.2 -0.3l-0.6 2.2l0 0l-0.7 2.3l0 0l-0.7 2.2l-1.1 -0.3l-0.7 2.2l-2.3 -0.7l-0.7 2.2l0 0l-0.7 2.1l0 0l-0.8 2.2l0 0l-0.7 2.2l-2.3 -0.8l-0.8 2.2l0 0l-0.8 2.1l0 0l-0.8 2.2l5.6 2.1l-0.8 2.2l-11.2 -4.4l-0.8 2.1l10 4l-0.9 2.2l-3.3 -1.4l-0.9 2.2l0 0l-0.9 2.1l0 0l-0.9 2.1l4.4 1.9l-0.9 2.2l-37.3 -16.7l0.8 -1.8l0 0l0.8 -1.8l0 0l0.8 -1.9l-1.1 -0.5l0.8 -1.8l0 0l0.7 -1.9l4.5 1.8l0.7 -1.9l1.1 0.4l0.8 -1.9l1.1 0.5l0.7 -2l2.3 0.9l0.7 -2l1.1 0.4l0.7 -2l0 0l0.7 -1.9l1.1 0.4l0.7 -2l-2.3 -0.8l0.7 -2l-3.4 -1.1l0.6 -1.9l2.3 0.7l0.6 -2l0 0l0.6 -2l0 0l0.6 -2l1.1 0.4l0.6 -2l2.3 0.6l0.6 -2l-3.5 -0.9l0.6 -2zM807.6 647.7l-1 2l0 0l-1 2.1l-2.1 -1.1l-1 2l0 0l-1 2.1l-2.2 -1.1l-1 2l0 0l-1 1.9l-2.1 -1.1l-1 2l0 0l-1.1 1.9l1.1 0.6l-1.1 1.9l2.1 1.2l-1.1 1.9l-7.3 -4.1l-1.1 1.9l-1 -0.6l-1.1 1.8l3.1 1.9l-1.1 1.8l1 0.7l-1.1 1.8l1 0.7l-1.1 1.8l2 1.3l-1.2 1.9l1.1 0.6l-1.2 1.9l0 0l-1.3 1.9l2.1 1.3l-1.3 1.9l-2 -1.3l-1.2 1.8l0 0l-1.3 1.9l-2.9 -2.1l-1.3 1.8l5.9 4.2l-1.3 1.8l-1 -0.7l-1.3 1.8l-1.9 -1.4l-1.3 1.8l0 0l-1.4 1.8l-28.8 -21.4l1.1 -1.6l2 1.4l1.1 -1.6l-1.9 -1.4l1.1 -1.6l0 0l1.1 -1.6l4 2.8l1.1 -1.7l0 0l1.1 -1.6l0 0l1.1 -1.7l2 1.4l1.1 -1.7l1 0.6l1.1 -1.7l-2 -1.2l1 -1.7l4.1 2.5l1.1 -1.7l2 1.3l1.1 -1.8l3.1 1.9l1.1 -1.8l0 0l1 -1.8l0 0l1.1 -1.8l-2.1 -1.2l1 -1.8l2.1 1.2l1 -1.8l0 0l1 -1.9l1.1 0.6l1 -1.8l0 0l0.9 -1.9l-2.1 -1.1l1 -1.8l0 0l0.9 -1.9l0 0l0.9 -1.8l-2.1 -1.1l0.9 -1.8l0 0l0.9 -1.9l0 0l0.8 -1.8zM771.8 699.8l-1.5 1.8l-1.8 -1.5l-1.4 1.8l3.7 3l-1.4 1.8l1.8 1.5l-1.4 1.8l-1 -0.8l-1.4 1.8l1.8 1.6l-1.5 1.7l-0.9 -0.7l-1.5 1.7l0.9 0.8l-1.6 1.8l0 0l-1.5 1.7l0 0l-1.6 1.8l5.4 4.8l-1.7 1.8l-3.5 -3.3l-1.6 1.8l0 0l-1.6 1.7l0 0l-1.6 1.7l-1.8 -1.7l-1.6 1.7l-3.4 -3.4l-1.7 1.7l0 0l-1.6 1.6l-1.7 -1.7l-1.6 1.6l-0.8 -0.9l-1.7 1.6l-13.2 -13.9l1.5 -1.5l0 0l1.5 -1.5l-1.7 -1.7l1.5 -1.4l-0.8 -0.9l1.4 -1.5l-0.8 -0.8l1.4 -1.5l-1.7 -1.7l1.4 -1.5l-1.7 -1.6l1.4 -1.5l-0.9 -0.8l1.4 -1.5l0 0l1.4 -1.5l0.8 0.8l1.4 -1.5l0 0l1.4 -1.5l1.8 1.5l1.3 -1.5l0.9 0.8l1.4 -1.6l1.8 1.6l1.3 -1.6l-2.7 -2.4l1.3 -1.5l1.9 1.5l1.3 -1.6l0 0l1.3 -1.7l0.9 0.8l1.3 -1.6l0.9 0.7l1.3 -1.7zM743.3 739.8l-1.7 1.5l4 4.5l-1.7 1.5l0 0l-1.7 1.6l-2.4 -2.7l-1.7 1.5l-3.2 -3.6l-1.7 1.4l2.3 2.8l-1.7 1.4l-0.8 -0.9l-1.7 1.5l-1.5 -1.9l-1.8 1.5l0 0l-1.7 1.4l0 0l-1.8 1.4l0 0l-1.8 1.4l1.5 1.9l-1.8 1.3l-1.5 -1.9l-1.7 1.4l0 0l-1.9 1.3l-2.1 -2.9l-1.8 1.4l1.4 1.9l-1.8 1.3l0 0l-1.8 1.3l0 0l-1.9 1.3l-0.6 -1l-1.9 1.3l0 0l-1.8 1.2l0 0l-1.9 1.3l0 0l-1.9 1.2l0 0l-1.9 1.2l3.3 5.1l-2 1.2l-3.1 -5.1l-1.9 1.2l0 0l-1.9 1.1l-10.6 -17.4l1.8 -1.1l0 0l1.7 -1.1l-2.5 -4.1l1.7 -1.1l0 0l1.7 -1.1l-1.9 -3l1.7 -1.1l1.9 3l1.7 -1.1l0 0l1.7 -1.1l0.7 0.9l1.7 -1.1l0.7 1l1.7 -1.2l-0.7 -1l1.6 -1.2l-0.7 -0.9l1.7 -1.2l-4.9 -6.8l1.5 -1.2l3.6 4.8l1.6 -1.2l0 0l1.6 -1.2l0 0l1.6 -1.2l0 0l1.6 -1.3l-0.7 -0.9l1.6 -1.3l-1.5 -1.8l1.5 -1.3l0 0l1.5 -1.3l0 0l1.6 -1.2l-2.3 -2.8l1.5 -1.3l-0.8 -0.9l1.5 -1.2l-0.8 -1l1.4 -1.2l1.6 1.8l1.5 -1.3l-1.6 -1.8l1.4 -1.3l0.8 0.9l1.5 -1.4zM688.3 771.5l-2 1.1l0.6 1.1l-1.9 1.1l0.6 1l-2 1.1l0 0l-2 1.1l0.6 1.1l-2.1 1.1l3.4 6.3l-2.1 1.1l-2.7 -5.3l-2.1 1l0 0l-2 1.1l0 0l-2.1 1l-15.3 -31.3l1.9 -0.9l0 0l1.7 -0.9l0 0l1.8 -0.9l1.1 2.1l1.8 -0.9l1.2 2.1l1.8 -1l-1.7 -3.1l1.7 -1l0 0l1.8 -1l0 0l1.8 -1l2.4 4.2l1.7 -1zM669.2 789.6l-2.1 1l0 0l-2 0.9l0.5 1.1l-2.1 0.9l0 0l-2.1 1l0.5 1.1l-2.1 0.9l0.9 2.2l-2.1 0.9l-1.4 -3.4l-2.1 0.9l0.5 1.1l-2.2 0.8l0 0l-2.1 0.9l-0.8 -2.3l-2.2 0.9l0.5 1.1l-2.2 0.8l2.1 5.6l-2.2 0.8l-2 -5.7l-2.2 0.8l-0.7 -2.3l-2.2 0.8l0 0l-2.1 0.7l0.4 1.1l-2.2 0.8l-11.1 -34.3l1.9 -0.6l0 0l1.8 -0.6l0 0l1.9 -0.7l0 0l1.9 -0.7l0 0l1.9 -0.6l0 0l1.8 -0.7l1.3 3.3l1.9 -0.7l-0.5 -1.1l1.9 -0.7l0 0l1.9 -0.8l0 0l1.8 -0.7l-0.4 -1.1l1.8 -0.8l0 0l1.8 -0.8l0 0l1.9 -0.8l-0.5 -1.1l1.8 -0.8l1.5 3.3l1.8 -0.8l0 0l1.8 -0.9zM629.4 799.8l-2.2 0.7l0 0l-2.2 0.7l0 0l-2.2 0.6l0 0l-2.3 0.6l-0.3 -1.1l-2.2 0.5l-0.3 -1.1l-2.2 0.6l-0.6 -2.4l-2.2 0.6l0 0l-2.2 0.5l-1.1 -4.6l-2.2 0.5l1.3 5.8l-2.2 0.5l0 0l-2.2 0.5l0.5 2.3l-2.3 0.5l0.2 1.2l-2.2 0.4l0 0l-2.3 0.5l0.7 3.5l-2.3 0.4l0.2 1.2l-2.4 0.4l0 0l-2.3 0.4l0.4 2.4l-2.3 0.3l0 0l-2.4 0.4l0 0l-2.3 0.3l0 0l-2.4 0.3l0 0l-2.3 0.3l-5.1 -41.7l2.1 -0.2l-0.5 -3.6l2 -0.3l0.6 4.8l2.1 -0.3l0 0l2 -0.3l0 0l2 -0.3l0.2 1.2l2 -0.4l0 0l2 -0.3l0.4 2.4l2.1 -0.4l0.2 1.2l2.1 -0.4l0.2 1.1l2 -0.4l0 0l2.1 -0.4l0 0l2 -0.4l0 0l2.1 -0.5l0.8 3.5l2 -0.5l0.6 2.4l2.1 -0.5l0 0l2 -0.5l-0.6 -2.4l2.1 -0.5l-0.6 -2.3l2 -0.6l-0.6 -2.3l2 -0.5l0.3 1.1l2 -0.6l-1 -3.4l2 -0.6l-0.7 -2.3l2 -0.6zM575.3 814.5l-2.3 0.2l0 0l-2.2 0.2l0.3 3.6l-2.3 0.2l-0.1 -1.2l-2.2 0.2l0 0l-2.3 0.1l0 0l-2.3 0.2l0 0l-2.2 0.1l0 0l-2.3 0.1l0 0l-2.3 0.1l0.1 2.4l-2.3 0.1l0 0l-2.3 0l0 -1.2l-2.3 0l0 -1.2l-2.3 0l0 1.2l-2.3 0l0 0l-2.2 0l0 0l-2.3 0l0 0l-2.3 -0.1l0 0l-2.3 0l0 0l-2.3 -0.1l0.1 -1.2l-2.3 -0.1l0.1 -1.2l-2.3 -0.2l0 0l-2.3 -0.1l0.2 -2.4l-2.2 -0.2l2.8 -37.1l1.9 0.2l-0.1 1.2l2 0.1l0.1 -1.2l1.9 0.1l0 1.2l1.9 0.1l-0.2 4.8l2 0.1l0.2 -6l2 0l-0.1 3.6l2 0.1l0 0l2 0l0 0l1.9 0l0 6l2 0l0 -4.8l2 0l0 0l2 0l0.1 3.6l2 0l0 0l2 -0.1l-0.2 -6l2 -0.1l0.2 4.8l2 -0.1l0 0l2 -0.1l-0.2 -3.6l2 -0.1l0.2 2.4l2 -0.1l0 0l2 -0.2l0.1 2.4l2.1 -0.2l-0.1 -1.2l2 -0.1l0.4 4.7l2.1 -0.2zM519.6 804.1l-2.2 -0.2l0.3 -3.6l-2.2 -0.3l0 0l-2.2 -0.2l0 0l-2.2 -0.3l0 0l-2.2 -0.3l-0.1 1.2l-2.2 -0.3l0 0l-2.2 -0.3l0.2 -1.2l-2.2 -0.3l0 0l-2.2 -0.4l-0.6 3.6l-2.2 -0.4l0 0l-2.2 -0.4l0 0l-2.2 -0.4l0 0l-2.2 -0.4l0 0l-2.2 -0.5l-0.3 1.2l-2.2 -0.5l0 0l-2.2 -0.4l-1 4.6l-2.3 -0.5l0.3 -1.1l-2.2 -0.6l-1.7 7l-2.3 -0.5l0 0l-2.2 -0.6l-1.2 4.7l-2.3 -0.6l1.2 -4.7l-2.2 -0.6l-0.7 2.3l-2.2 -0.6l0.6 -2.3l-2.2 -0.7l-1 3.5l-2.3 -0.7l-0.4 1.2l-2.2 -0.7l0 0l-2.3 -0.7l0 0l-2.3 -0.8l0 0l-2.2 -0.7l0 0l-2.3 -0.8l-0.4 1.2l-2.2 -0.8l2.4 -6.8l-2.2 -0.8l13.1 -36.1l1.9 0.7l0 0l1.9 0.6l0 0l1.9 0.7l1.2 -3.4l1.9 0.6l-1.5 4.6l1.9 0.6l-1.1 3.4l2 0.6l0.7 -2.2l1.9 0.6l0 0l2 0.5l0.7 -2.3l1.9 0.6l-1.6 5.8l2 0.5l0 0l2 0.6l0 0l2 0.5l0 0l2 0.5l0 0l2 0.5l-0.3 1.1l2 0.5l-0.3 1.2l2.1 0.5l-0.5 2.3l2 0.5l-0.5 2.3l2.1 0.4l0.2 -1.1l2.1 0.4l-0.5 2.3l2.1 0.4l-0.2 1.2l2.1 0.4l0 0l2.1 0.4l0.4 -2.4l2.1 0.4l-0.3 2.4l2.1 0.3l0 0l2.1 0.3l-0.4 2.4l2.2 0.3l-0.2 1.2l2.2 0.3l0.1 -1.2l2.2 0.3l0 0l2.1 0.2l0.2 -1.2l2.1 0.3l-0.3 2.4l2.2 0.2l0 0l2.2 0.2zM440.7 799.1l-2.2 -0.8l0 0l-2.2 -0.9l0 0l-2.2 -0.9l0.9 -2.2l-2.1 -0.9l0 0l-2.2 -0.9l0.5 -1.1l-2.1 -0.9l0 0l-2.1 -1l0 0l-2.2 -0.9l0 0l-2.1 -1l-2 4.4l-2.1 -1l2 -4.4l-2 -1l1 -2.1l-2.1 -1.1l-1 2.2l-2.1 -1l0.5 -1.1l-2 -1.1l0 0l-2.1 -1l0.6 -1.1l-2 -1.1l-0.6 1.1l-2 -1.1l0 0l-2 -1.1l1.1 -2.1l-2 -1.2l0 0l-2 -1.1l-0.6 1l-1.9 -1.1l0 0l-2 -1.2l17.3 -28.8l1.8 1l0 0l1.7 1.1l-3 5.2l1.8 1l3 -5.2l1.7 1l-0.6 1l1.8 1l-1.1 2.1l1.8 1l0 0l1.8 1l-1.7 3.1l1.9 1l0 0l1.8 1l1.7 -3.2l1.8 0.9l-2.7 5.4l1.9 0.9l0 0l1.9 0.9l0.5 -1.1l1.9 0.9l3.6 -7.6l1.8 0.9l-3 6.5l1.9 0.9l0 0l1.9 0.8l1 -2.2l1.9 0.8l-0.9 2.2l1.9 0.9l0 0l1.9 0.8l0 0l2 0.7l1.3 -3.3l1.9 0.8l-1.3 3.3l1.9 0.8zM394.5 766.8l-1.9 -1.2l0 0l-1.8 -1.2l0 0l-1.9 -1.2l0 0l-1.9 -1.3l-1.3 2l-1.9 -1.2l0 0l-1.9 -1.3l0 0l-1.8 -1.3l-0.7 1l-1.9 -1.3l-1.4 1.9l-1.9 -1.3l0 0l-1.8 -1.4l-0.7 1l-1.9 -1.4l-2.1 2.9l-1.9 -1.4l-0.7 0.9l-1.9 -1.4l0 0l-1.8 -1.5l0 0l-1.9 -1.4l3.1 -3.8l-1.8 -1.4l2.2 -2.8l-1.7 -1.5l0 0l-1.8 -1.4l0 0l-1.7 -1.5l0 0l-1.7 -1.5l1.6 -1.8l-1.7 -1.5l-0.8 0.9l-1.7 -1.5l0 0l-1.7 -1.5l0 0l-1.7 -1.6l-0.8 0.9l-1.7 -1.5l2.5 -2.6l-1.6 -1.6l20.7 -21.7l1.5 1.4l2.5 -2.6l1.4 1.4l-0.8 0.8l1.5 1.4l0 0l1.4 1.3l0.8 -0.9l1.5 1.4l-2.4 2.6l1.5 1.4l0 0l1.6 1.3l0 0l1.5 1.3l-2.3 2.7l1.5 1.4l0 0l1.6 1.2l-2.3 2.8l1.6 1.3l2.3 -2.8l1.6 1.3l-1.5 1.9l1.6 1.3l0 0l1.7 1.2l0 0l1.6 1.3l0 0l1.6 1.2l0 0l1.7 1.2l-2.1 2.9l1.7 1.2l0 0l1.7 1.3l0 0l1.7 1.1l-0.7 1l1.7 1.2l0 0l1.8 1.2l2 -3l1.7 1.1l-0.7 1.1l1.8 1.1l0 0l1.7 1.1l0 0l1.8 1.1zM351 721.7l-1.6 -1.5l0 0l-1.5 -1.6l0 0l-1.5 -1.6l-0.9 0.9l-1.5 -1.6l0 0l-1.5 -1.6l0 0l-1.5 -1.6l-1.8 1.6l-1.4 -1.6l0 0l-1.5 -1.7l-1.8 1.6l-1.5 -1.6l0 0l-1.5 -1.7l-1.8 1.5l-1.4 -1.7l-0.9 0.8l-1.5 -1.7l0 0l-1.4 -1.8l-1.9 1.6l-1.4 -1.8l0 0l-1.5 -1.8l-1.8 1.5l-1.5 -1.8l0 0l-1.4 -1.8l-3.8 2.9l-1.4 -1.8l1 -0.7l-1.4 -1.9l0 0l-1.4 -1.9l1.9 -1.4l-1.3 -1.9l-2 1.4l-1.3 -1.8l0 0l-1.3 -1.9l0.9 -0.7l-1.3 -1.9l-2 1.3l-1.3 -1.9l0 0l-1.3 -1.9l3 -2l-1.2 -2l-3 2l-1.3 -2l0 0l-1.3 -1.9l0 0l-1.2 -2l1 -0.6l-1.2 -2l29.8 -18.1l1 1.8l2.1 -1.3l1.1 1.7l1 -0.6l1.1 1.7l-2.1 1.3l1.1 1.7l2 -1.3l1.2 1.7l0 0l1.1 1.7l0 0l1.1 1.6l2 -1.3l1.1 1.6l-1 0.7l1.2 1.7l-1 0.7l1.2 1.6l0 0l1.2 1.6l1 -0.7l1.1 1.6l-0.9 0.8l1.2 1.6l-1.9 1.4l1.2 1.6l1.9 -1.4l1.3 1.6l-2.9 2.2l1.3 1.6l0.9 -0.7l1.3 1.5l0 0l1.3 1.6l0 0l1.3 1.6l0 0l1.3 1.6l-1.8 1.5l1.3 1.6l0 0l1.4 1.5l-1.8 1.6l1.3 1.6l1.8 -1.6l1.4 1.5l-2.7 2.4l1.4 1.6l0.9 -0.9l1.4 1.6l0 0l1.4 1.5l-2.6 2.5l1.5 1.5l0 0l1.5 1.5l-2.6 2.5l1.5 1.5l0 0l1.5 1.5zM299.6 669l-1.1 -2l0 0l-1.2 -1.9l-1 0.6l-1.1 -2l0 0l-1.1 -2l0 0l-1.1 -2l0 0l-1 -2l-2.1 1.2l-1.1 -2.1l-1 0.6l-1.1 -2.1l2.2 -1l-1 -2.1l0 0l-1 -2l0 0l-1 -2.1l1.1 -0.5l-1 -2l-2.2 1l-0.9 -2.1l-1.1 0.5l-0.9 -2.1l-2.2 1l-1 -2.1l2.2 -1l-0.9 -2.1l1.1 -0.4l-0.8 -2.1l-1.2 0.4l-0.8 -2.1l0 0l-0.9 -2.1l0 0l-0.8 -2.1l0 0l-0.8 -2.2l0 0l-0.8 -2.1l-1.2 0.4l-0.8 -2.1l30.5 -11.1l0.7 2l-2.2 0.8l0.7 1.9l1.1 -0.4l0.8 1.9l0 0l0.7 1.9l-1.1 0.5l0.8 1.9l-3.4 1.3l0.8 2l5.6 -2.3l0.7 1.8l-4.4 1.9l0.8 1.9l-1.1 0.5l0.9 1.9l1.1 -0.5l0.8 1.9l2.2 -1l0.9 1.9l0 0l0.8 1.9l1.1 -0.5l0.9 1.8l0 0l0.9 1.8l3.2 -1.5l0.9 1.8l0 0l1 1.8l6.4 -3.3l0.9 1.7l-1.1 0.6l0.9 1.7l-4.2 2.3l0.9 1.8l0 0l1 1.7l5.3 -2.9l0.9 1.7l0 0l1 1.7l-2.1 1.2l1 1.7zM270.4 619.7l-0.7 -2.2l1.1 -0.4l-0.7 -2.2l0 0l-0.7 -2.2l2.3 -0.7l-0.7 -2.2l-4.6 1.4l-0.7 -2.2l6.9 -2.1l-0.6 -2.2l2.3 -0.6l-0.6 -2.2l0 0l-0.6 -2.2l0 0l-0.6 -2.1l0 0l-0.6 -2.2l2.4 -0.6l-0.6 -2.2l-2.3 0.6l-0.5 -2.2l-3.5 0.9l-0.6 -2.3l-3.5 0.8l-0.5 -2.2l-1.1 0.3l-0.5 -2.3l0 0l-0.5 -2.3l0 0l-0.5 -2.2l-4.7 0.9l-0.4 -2.3l1.2 -0.3l-0.5 -2.3l0 0l-0.4 -2.3l0 0l-0.4 -2.3l37.9 -6.2l0.4 2l1.1 -0.2l0.4 2l0 0l0.4 2l0 0l0.3 2l-2.3 0.5l0.4 2l-3.5 0.7l0.4 2l0 0l0.4 2.1l0 0l0.5 2l-2.3 0.5l0.4 2.1l-2.3 0.5l0.5 2.1l0 0l0.5 2l-1.1 0.3l0.5 2.1l1.2 -0.3l0.5 2l0 0l0.6 2.1l3.4 -1l0.6 2l-3.5 1l0.6 2l2.3 -0.7l0.6 2l0 0l0.7 2l0 0l0.6 2l1.2 -0.3l0.6 1.9l0 0l0.7 2zM253.1 568.4l-0.3 -2.3l0 0l-0.4 -2.3l0 0l-0.2 -2.3l0 0l-0.3 -2.3l0 0l-0.3 -2.3l0 0l-0.2 -2.3l1.2 -0.1l-0.2 -2.3l0 0l-0.2 -2.3l2.4 -0.2l-0.2 -2.3l0 0l-0.2 -2.3l-4.8 0.3l-0.1 -2.3l7.2 -0.4l-0.2 -2.3l1.2 -0.1l-0.1 -2.2l0 0l-0.1 -2.3l1.2 0l0 -2.3l3.6 -0.1l-0.1 -2.2l2.4 -0.1l0 -2.2l-2.4 0.1l0 -2.3l0 0l0 -2.2l0 0l0 -2.2l0 0l0 -2.3l0 0l0.1 -2.2l-2.4 0l0 -2.3l20.4 0.7l-0.1 2.1l0 0l0 2.1l-2.4 -0.1l0 2.2l2.4 0l0 2.1l-1.2 0l0 2.1l-2.4 0l0 2.1l2.4 -0.1l0 2.1l0 0l0.1 2.1l-2.4 0.1l0 2.1l2.4 -0.1l0.1 2.1l1.2 0l0.1 2.1l1.2 -0.1l0.1 2.1l0 0l0.1 2l0 0l0.2 2.1l2.4 -0.2l0.1 2.1l3.6 -0.3l0.2 2l-2.4 0.2l0.2 2.1l0 0l0.2 2l7.2 -0.8l0.2 2l-2.4 0.3l0.3 2l1.1 -0.2l0.3 2l0 0l0.3 2l1.2 -0.2l0.2 2zM249.1 510.2l0.2 -2.4l0 0l0.1 -2.3l0 0l0.2 -2.3l2.4 0.1l0.2 -2.3l0 0l0.2 -2.3l0 0l0.2 -2.3l4.8 0.5l0.2 -2.3l-3.6 -0.4l0.3 -2.3l0 0l0.3 -2.3l-1.2 -0.1l0.3 -2.3l4.7 0.6l0.3 -2.2l3.6 0.5l0.3 -2.3l0 0l0.3 -2.2l-2.3 -0.4l0.3 -2.2l4.8 0.8l0.3 -2.2l-3.5 -0.6l0.4 -2.3l2.3 0.5l0.4 -2.2l2.4 0.4l0.4 -2.2l-2.3 -0.4l0.4 -2.2l-2.3 -0.5l0.4 -2.2l0 0l0.5 -2.2l0 0l0.5 -2.3l-2.3 -0.5l0.5 -2.2l0 0l0.5 -2.2l5.8 1.4l0.6 -2.2l0 0l0.5 -2.1l26.7 7l-0.5 1.9l0 0l-0.5 2l0 0l-0.4 2l0 0l-0.5 1.9l0 0l-0.4 2l-4.7 -1.1l-0.5 2.1l-2.3 -0.5l-0.4 2l-3.6 -0.7l-0.4 2l0 0l-0.4 2.1l1.2 0.2l-0.4 2.1l-2.3 -0.5l-0.4 2.1l0 0l-0.3 2.1l4.7 0.8l-0.3 2l2.3 0.4l-0.3 2l0 0l-0.3 2l0 0l-0.2 2.1l0 0l-0.3 2l4.8 0.6l-0.3 2l-1.2 -0.1l-0.2 2l0 0l-0.2 2l0 0l-0.2 2l0 0l-0.2 2l0 0l-0.1 2l-4.8 -0.3l-0.2 2l2.4 0.2l-0.1 2l0 0l-0.1 2.1zM271.3 448.7l0.6 -2.2l-4.6 -1.3l0.6 -2.1l3.5 1l0.6 -2.1l0 0l0.7 -2.2l0 0l0.7 -2.1l5.7 1.9l0.6 -2.1l-4.5 -1.5l0.7 -2.1l-4.5 -1.5l0.7 -2.2l4.5 1.6l0.7 -2.1l1.2 0.4l0.7 -2l2.3 0.8l0.7 -2l-3.3 -1.3l0.7 -2.1l0 0l0.8 -2l0 0l0.9 -2.1l-1.2 -0.4l0.9 -2.1l0 0l0.8 -2l0 0l0.9 -2.1l-2.2 -0.9l0.9 -2.1l-1.1 -0.4l0.9 -2.1l-1.1 -0.5l0.9 -2l0 0l1 -2.1l0 0l0.9 -2l28.2 13.4l-0.9 1.8l3.3 1.5l-0.8 1.8l4.3 2l-0.8 1.8l-4.3 -2l-0.8 1.8l2.2 1l-0.8 1.8l-2.2 -0.9l-0.8 1.8l-2.2 -0.9l-0.8 1.8l0 0l-0.7 1.9l-2.3 -0.9l-0.7 1.8l5.6 2.2l-0.7 1.9l-6.8 -2.6l-0.7 1.9l-1.1 -0.4l-0.7 1.9l0 0l-0.7 1.9l1.1 0.4l-0.7 1.9l0 0l-0.6 1.9l-5.7 -1.9l-0.7 2l4.6 1.5l-0.6 1.9l0 0l-0.7 2l0 0l-0.6 1.9l3.5 1.1l-0.6 1.9l0 0l-0.6 1.9l5.8 1.7l-0.5 1.9zM290.4 399l1.1 -2.1l0 0l1 -2l3.2 1.6l1 -1.9l-1 -0.6l1 -2l2.1 1.1l1.1 -1.9l-3.1 -1.8l1 -1.9l-1 -0.6l1.1 -2l0 0l1.1 -2l0 0l1.2 -1.9l-3.1 -1.9l1.2 -2l0 0l1.2 -1.9l-2.1 -1.3l1.2 -2l-2 -1.2l1.2 -2l0 0l1.3 -2l-2 -1.3l1.3 -2l-3 -1.9l1.3 -2l6 4l1.3 -2l0 0l1.3 -1.9l0 0l1.3 -1.9l-2.9 -2.1l1.4 -1.9l0 0l1.3 -1.9l-2.9 -2.1l1.4 -2l7.8 5.8l1.3 -1.9l-3.8 -2.9l1.4 -1.9l-1.9 -1.4l1.5 -1.9l33.1 25.8l-1.2 1.6l-1.9 -1.5l-1.3 1.7l1 0.7l-1.2 1.6l5.8 4.3l-1.2 1.6l-3.9 -2.8l-1.2 1.6l0 0l-1.2 1.7l4 2.7l-1.2 1.7l-5.9 -4.1l-1.1 1.7l1 0.6l-1.2 1.7l2 1.4l-1.1 1.6l3 2l-1.1 1.7l-5 -3.3l-1.1 1.7l-4.1 -2.5l-1.1 1.7l-1 -0.6l-1.1 1.8l0 0l-1.1 1.8l-2 -1.3l-1.1 1.8l1 0.6l-1 1.8l-6.3 -3.6l-1 1.9l3.1 1.8l-1 1.8l0 0l-1.1 1.9l0 0l-1 1.9l2.1 1.1l-0.9 1.8l5.3 2.8l-1 1.9l-7.4 -3.9l-1 1.9l-5.4 -2.7l-0.9 1.9zM325.5 348.6l1.4 -1.7l-1.9 -1.6l1.5 -1.7l-1.8 -1.6l1.4 -1.7l-1.8 -1.6l1.5 -1.7l1.8 1.5l1.5 -1.7l-1.8 -1.6l1.6 -1.7l0 0l1.5 -1.8l-1.8 -1.6l1.6 -1.7l0 0l1.6 -1.7l0.9 0.8l1.6 -1.7l-0.9 -0.8l1.6 -1.7l-5.2 -5l1.7 -1.7l4.3 4.1l1.6 -1.6l-1.7 -1.7l1.7 -1.7l0.9 0.9l1.6 -1.7l-1.6 -1.7l1.7 -1.7l-0.8 -0.8l1.7 -1.7l0 0l1.7 -1.6l-0.8 -0.9l1.8 -1.6l0 0l1.8 -1.6l0 0l1.7 -1.6l0 0l1.8 -1.6l0 0l1.9 -1.6l0.7 0.9l1.9 -1.5l30.1 35.7l-1.5 1.4l0 0l-1.5 1.3l0 0l-1.5 1.3l-1.6 -1.8l-1.5 1.4l1.6 1.7l-1.5 1.4l-0.8 -0.9l-1.5 1.4l-2.5 -2.7l-1.5 1.4l0 0l-1.5 1.5l0 0l-1.4 1.4l0 0l-1.5 1.4l0 0l-1.5 1.5l-1.7 -1.7l-1.4 1.5l0 0l-1.5 1.5l0 0l-1.4 1.5l0 0l-1.4 1.5l-0.9 -0.9l-1.4 1.6l0 0l-1.4 1.5l-0.9 -0.8l-1.4 1.6l-1.8 -1.6l-1.4 1.6l-6.3 -5.6l-1.4 1.7l1.8 1.6l-1.4 1.6l1.8 1.5l-1.4 1.7l0 0l-1.3 1.6l0 0l-1.4 1.7zM367.1 306.8l1.7 -1.4l0 0l1.8 -1.4l2.2 2.8l1.8 -1.4l-2.2 -2.8l1.7 -1.4l0 0l1.8 -1.4l0 0l1.8 -1.3l-0.7 -1l1.9 -1.3l-1.5 -2l1.9 -1.3l-2.1 -2.9l1.9 -1.3l2.1 2.9l1.8 -1.3l0 0l1.9 -1.3l-3.4 -5l2 -1.3l2 3l1.9 -1.2l-0.7 -1l2 -1.3l0 0l1.9 -1.2l0 0l2 -1.3l0 0l1.9 -1.2l-1.8 -3l2 -1.3l0 0l2 -1.1l0 0l2 -1.2l0 0l2 -1.2l0 0l2.1 -1.1l0.5 1l2.1 -1.1l0 0l2 -1.1l-3.4 -6.4l2.1 -1.1l1.7 3.2l2.1 -1.1l-0.6 -1l2.1 -1.1l19.5 38.5l-1.8 0.9l-0.5 -1l-1.8 0.9l0.6 1.1l-1.8 0.9l2.2 4.3l-1.7 0.9l-1.2 -2.1l-1.7 1l-2.3 -4.2l-1.8 1l3.5 6.2l-1.7 1l-7.2 -12.4l-1.8 1l1.2 2.1l-1.8 1l-0.6 -1l-1.8 1.1l0 0l-1.8 1.1l-0.6 -1l-1.8 1.1l0 0l-1.7 1.1l0 0l-1.8 1.2l0 0l-1.8 1.1l-0.6 -1l-1.8 1.2l0 0l-1.7 1.2l0 0l-1.7 1.2l0 0l-1.8 1.2l0.7 1l-1.7 1.2l-2.1 -2.9l-1.7 1.2l0 0l-1.7 1.3l4.3 5.8l-1.6 1.2l-2.2 -2.8l-1.7 1.2l0 0l-1.6 1.3l-2.3 -2.8l-1.6 1.3l0 0l-1.7 1.4zM420.6 268.4l2.1 -1l-0.5 -1.1l2.1 -1l-1 -2.2l2.1 -0.9l0 0l2.2 -1l0.4 1.1l2.2 -1l-0.5 -1.1l2.2 -0.9l-3.3 -7.7l2.2 -0.9l2.3 5.5l2.2 -0.9l0 0l2.2 -0.9l-2.2 -5.6l2.2 -0.8l2.6 6.7l2.2 -0.9l-3 -7.8l2.3 -0.9l0 0l2.3 -0.8l2 5.6l2.2 -0.8l0 0l2.3 -0.7l-0.4 -1.2l2.2 -0.7l-0.3 -1.2l2.2 -0.7l-1.1 -3.5l2.3 -0.7l1.1 3.4l2.3 -0.7l0.4 1.2l2.2 -0.7l-1.3 -4.6l2.3 -0.7l12 41.5l-2 0.6l0 0l-2 0.6l0 0l-2 0.6l0 0l-1.9 0.6l-2.3 -6.8l-2 0.7l1.2 3.4l-2 0.6l1.5 4.6l-1.9 0.7l-3.2 -9.1l-2 0.7l0 0l-2 0.8l1.2 3.3l-2 0.8l0 0l-1.9 0.7l0.8 2.3l-1.9 0.7l0 0l-2 0.8l1.4 3.3l-1.9 0.8l0 0l-1.9 0.8l0.5 1.1l-1.9 0.8l0 0l-1.9 0.9l0 0l-1.9 0.8l-1.5 -3.3l-1.8 0.9l0.5 1.1l-1.9 0.9l-1 -2.2l-1.9 0.9zM469 243.9l2.2 -0.6l-1.8 -7l2.3 -0.5l1.7 6.9l2.3 -0.5l0 0l2.2 -0.6l0 0l2.2 -0.5l0 0l2.3 -0.5l0 0l2.2 -0.5l0.3 1.2l2.2 -0.5l0.5 2.4l2.2 -0.5l0 0l2.2 -0.4l0.2 1.2l2.3 -0.4l0 0l2.2 -0.4l0 0l2.2 -0.4l0.8 4.8l2.2 -0.4l-0.4 -2.4l2.2 -0.3l0.7 4.8l2.2 -0.4l-0.8 -5.9l2.2 -0.3l0 0l2.2 -0.3l-0.3 -2.4l2.3 -0.2l-0.6 -4.8l2.3 -0.3l0 0l2.3 -0.2l-0.2 -2.4l2.3 -0.2l-0.4 -3.6l2.4 -0.2l0.2 2.4l2.3 -0.2l2.9 38.3l-2 0.2l-0.2 -2.4l-2 0.1l0.2 2.4l-2 0.2l0 0l-2.1 0.2l-0.3 -3.5l-2.1 0.2l-0.1 -1.2l-2.1 0.2l-0.4 -3.5l-2.1 0.2l0.2 1.2l-2.1 0.3l0 0l-2.1 0.3l0 0l-2 0.3l0.7 4.8l-2 0.3l-0.4 -2.4l-2 0.4l0 0l-2.1 0.3l0 0l-2 0.4l1.5 8.2l-1.9 0.4l-0.7 -3.5l-2 0.4l0.5 2.3l-2 0.4l0.2 1.2l-1.9 0.4l-0.5 -2.3l-2 0.4l0 0l-2 0.5l0 0l-1.9 0.5l-0.6 -2.4l-2 0.5l0 0l-1.9 0.5l1.8 7l-1.9 0.5z"/><clipPath id="hec"><path d="M568.8 222.7A303.8 303.8 0 1 1 527.6 222.3L529.3 252.2A273.8 273.8 0 1 0 566.4 252.6Z"/></clipPath></defs>
<use href="#he" fill="#96c4e2"/>
<use href="#he" fill="#5a9dcf" clip-path="url(#hec)"/>
<use href="#he" fill="none" stroke="#1c2f4a" stroke-width="1" stroke-linejoin="round"/>
<defs><path id="hg" d="M563.6 333.5l1.4 0.1l0.2 -1.2l1.5 0.2l-0.3 2.4l1.5 0.1l0.1 -1.2l1.5 0.2l-0.1 1.2l1.4 0.2l0 0l1.5 0.2l-0.5 3.6l1.5 0.2l-0.2 1.2l1.4 0.2l-0.2 1.2l1.5 0.2l0 0l1.4 0.3l0 0l1.4 0.2l0 0l1.4 0.3l1.1 -5.9l1.5 0.3l-1.2 5.9l1.5 0.2l0.2 -1.1l1.4 0.3l0.3 -1.2l1.4 0.3l-0.8 3.5l1.4 0.3l-1.1 4.7l1.4 0.3l0 0l1.4 0.4l-0.6 2.3l1.3 0.3l1.2 -4.6l1.4 0.3l0 0l1.4 0.4l0 0l1.3 0.4l1 -3.5l1.4 0.4l-1.4 4.6l1.4 0.4l-8.2 27.6l-1.2 -0.3l0 0l-1.1 -0.3l0.7 -2.3l-1.2 -0.4l0 0l-1.2 -0.3l0 0l-1.1 -0.3l-1.8 7l-1.1 -0.3l1.4 -5.8l-1.1 -0.3l-1.4 5.8l-1.1 -0.2l1.6 -7l-1.2 -0.3l0.8 -3.5l-1.2 -0.3l0 0l-1.2 -0.2l0.5 -2.4l-1.3 -0.2l0 0l-1.2 -0.3l0.5 -2.3l-1.3 -0.3l0 0l-1.2 -0.2l0.2 -1.2l-1.3 -0.2l-0.6 3.6l-1.2 -0.2l-1.1 7.1l-1.2 -0.2l0.7 -4.7l-1.2 -0.2l-0.4 2.4l-1.2 -0.2l0 0l-1.2 -0.2l0.5 -3.5l-1.2 -0.2l-0.7 6l-1.2 -0.2l-0.7 6l-1.1 -0.1l0.3 -3.6l-1.1 -0.1zM604.9 339.5l1.5 0.5l-0.8 2.3l1.4 0.4l0.4 -1.1l1.5 0.5l-0.8 2.3l1.4 0.5l-0.8 2.2l1.4 0.5l0.8 -2.2l1.4 0.5l-0.4 1.1l1.4 0.6l0 0l1.4 0.5l-1.3 3.3l1.4 0.6l-0.9 2.2l1.3 0.6l0.5 -1.2l1.3 0.6l1.4 -3.3l1.4 0.6l-2.4 5.5l1.3 0.6l1.5 -3.3l1.3 0.5l-4.4 9.9l1.3 0.6l2.5 -5.5l1.3 0.6l2 -4.3l1.3 0.6l-3.6 7.6l1.3 0.6l0 0l1.2 0.6l0.6 -1.1l1.2 0.7l0 0l1.3 0.6l-12.1 23.5l-1.1 -0.6l0 0l-1 -0.5l0 0l-1.1 -0.5l1 -2.2l-1.1 -0.5l-2 4.3l-1.1 -0.5l2.5 -5.4l-1.1 -0.6l3.5 -7.6l-1.2 -0.5l0 0l-1.2 -0.6l-2.4 5.5l-1.1 -0.5l1.9 -4.4l-1.2 -0.5l-3.3 7.8l-1.1 -0.5l1.8 -4.4l-1.1 -0.5l-0.5 1.1l-1.2 -0.5l-0.4 1.2l-1.2 -0.5l0 0l-1.1 -0.4l-0.9 2.2l-1.1 -0.4l0 0l-1.2 -0.4l0 0l-1.1 -0.4l-0.8 2.3l-1.1 -0.4l0.7 -2.3l-1.1 -0.4l0 0l-1.2 -0.4zM633.7 362.2l1.3 0.7l3.5 -6.3l1.3 0.7l-1.8 3.2l1.4 0.7l-1.2 2.1l1.3 0.8l4.2 -7.3l1.4 0.8l0 0l1.3 0.8l0 0l1.4 0.8l-1.9 3.1l1.3 0.8l0 0l1.3 0.9l0 0l1.3 0.8l0.7 -1l1.3 0.8l0 0l1.3 0.9l2.6 -4l1.4 0.9l-2.8 4l1.3 0.9l0 0l1.3 0.9l-0.7 0.9l1.3 0.9l-1.4 2l1.2 0.9l0 0l1.2 0.9l-1.4 1.9l1.2 0.9l-17.4 23l-1 -0.8l0 0l-1.1 -0.8l-2.1 2.9l-1 -0.7l-1.4 2l-1 -0.8l0 0l-1 -0.7l0 0l-1 -0.7l-2.7 4l-1 -0.7l3.3 -4.9l-1 -0.7l0 0l-1 -0.7l-2 3l-1 -0.7l-0.6 1.1l-1.1 -0.7l0 0l-1 -0.6l0 0l-1 -0.6l1.9 -3.1l-1.1 -0.7l1.2 -2l-1 -0.6l-0.6 1l-1.1 -0.6l0 0l-1.1 -0.6l-1.2 2.1l-1 -0.6l2.3 -4.2l-1.1 -0.6zM663 375.7l1.1 0.9l-2.2 2.8l1.1 0.9l3.8 -4.6l1.1 0.9l-1.5 1.8l1.1 1l0.8 -0.9l1.1 0.9l0 0l1.1 0.9l0 0l1.1 1l-3.1 3.6l1 1l1.6 -1.8l1.1 0.9l-1.6 1.8l1.1 1l0 0l1 0.9l-22.1 23.8l-0.9 -0.8l-0.8 0.8l-0.8 -0.8l-0.8 0.9l-0.9 -0.7l0 0l-0.9 -0.8l0 0l-0.8 -0.8l-3.2 3.7l-0.8 -0.8l3.8 -4.5l-0.8 -0.8l1.5 -1.8l-0.9 -0.8l0 0l-0.9 -0.7l0 0l-1 -0.8l1.5 -1.9l-0.9 -0.7zM673.9 393.2l1 1l1.7 -1.7l1 1l0 0l1 1l1.7 -1.7l1.1 1.1l0 0l1 1.1l0 0l1 1.1l0 0l1 1l2.7 -2.4l1 1.1l1.8 -1.6l1 1.1l0 0l1 1.2l-2.7 2.4l1 1.1l0.9 -0.8l1 1.1l-1.8 1.6l0.9 1.1l4.6 -3.8l1 1.2l-5.6 4.5l1 1.2l0 0l0.9 1.1l0 0l0.9 1.2l-25.4 20l-0.8 -0.9l1 -0.8l-0.8 -0.9l-1.9 1.5l-0.8 -1l-0.9 0.8l-0.8 -0.9l-5.5 4.6l-0.7 -0.9l3.6 -3.1l-0.7 -0.9l0 0l-0.8 -0.9l0 0l-0.8 -0.9l0.9 -0.8l-0.8 -0.9l0 0l-0.8 -0.9l0.9 -0.8l-0.9 -0.9l0 0l-0.8 -0.8l-0.9 0.8l-0.8 -0.9l3.5 -3.3l-0.9 -0.9l-1.7 1.7l-0.9 -0.9l2.6 -2.5l-0.9 -0.9l-3.4 3.4l-0.9 -0.8zM699.3 409.4l0.9 1.2l-0.9 0.7l0.9 1.2l0 0l0.9 1.3l1 -0.7l0.8 1.2l-0.9 0.7l0.8 1.3l5 -3.4l0.9 1.3l-3 2l0.9 1.3l1 -0.7l0.8 1.3l-4 2.6l0.8 1.3l0 0l0.9 1.3l0 0l0.8 1.3l-3.1 1.9l0.8 1.3l0 0l0.8 1.2l4.1 -2.4l0.8 1.3l-2.1 1.2l0.8 1.3l-6.3 3.6l0.8 1.3l2.1 -1.2l0.7 1.3l-2.1 1.1l0.7 1.3l2.1 -1.2l0.7 1.3l1.1 -0.5l0.7 1.3l0 0l0.6 1.3l0 0l0.7 1.3l2.2 -1.1l0.6 1.4l0 0l0.7 1.3l-25.9 12.6l-0.5 -1.1l6.4 -3.2l-0.6 -1.2l-3.2 1.6l-0.6 -1.1l-3.2 1.6l-0.6 -1.1l3.2 -1.7l-0.6 -1.1l0 0l-0.6 -1.2l0 0l-0.7 -1.1l-1 0.6l-0.6 -1.1l3.1 -1.8l-0.7 -1.2l0 0l-0.6 -1.1l-2.1 1.2l-0.7 -1.1l3.1 -1.8l-0.7 -1.2l-2 1.3l-0.7 -1.1l-2.1 1.2l-0.6 -1.1l0 0l-0.7 -1l-3.1 1.9l-0.7 -1l-1 0.6l-0.6 -1l0 0l-0.7 -1.1l-1 0.7l-0.7 -1l-2 1.4l-0.7 -1l-1 0.6l-0.7 -0.9l0 0l-0.7 -1l-1 0.7l-0.7 -1l0 0l-0.7 -0.9zM721.4 443.9l0.7 1.4l-2.2 1l0.6 1.4l2.2 -0.9l0.6 1.4l1.1 -0.5l0.7 1.5l-6.7 2.8l0.6 1.4l-2.2 0.9l0.6 1.4l4.4 -1.8l0.6 1.4l-8.9 3.5l0.5 1.4l0 0l0.5 1.3l2.3 -0.8l0.5 1.4l0 0l0.5 1.4l1.1 -0.4l0.5 1.4l0 0l0.5 1.4l0 0l0.5 1.4l4.5 -1.5l0.5 1.4l2.3 -0.7l0.5 1.4l0 0l0.4 1.5l0 0l0.5 1.5l0 0l0.4 1.5l2.3 -0.7l0.4 1.5l0 0l0.4 1.5l0 0l0.4 1.5l3.5 -0.9l0.4 1.5l-37.2 9.5l-0.3 -1.2l-5.8 1.5l-0.3 -1.2l2.3 -0.6l-0.4 -1.3l7 -1.9l-0.4 -1.3l-4.6 1.4l-0.4 -1.2l0 0l-0.3 -1.3l5.7 -1.7l-0.4 -1.3l-1.1 0.4l-0.4 -1.3l-3.4 1.1l-0.4 -1.2l0 0l-0.5 -1.2l3.5 -1.2l-0.5 -1.2l0 0l-0.4 -1.2l0 0l-0.5 -1.3l0 0l-0.4 -1.2l0 0l-0.5 -1.2l-2.2 0.9l-0.5 -1.2l-1.1 0.4l-0.5 -1.2l-2.2 0.9l-0.5 -1.2l0 0l-0.5 -1.1l-1.1 0.4l-0.5 -1.1l-2.2 0.9l-0.5 -1.1l-2.2 1l-0.5 -1.1l-2.2 1l-0.5 -1.1zM734.4 481.7l0.3 1.5l-1.1 0.3l0.3 1.5l1.2 -0.3l0.3 1.5l-2.4 0.5l0.3 1.5l0 0l0.3 1.6l-2.3 0.4l0.3 1.5l5.9 -1.1l0.2 1.6l-8.2 1.4l0.2 1.5l-1.2 0.2l0.3 1.5l0 0l0.2 1.5l-1.2 0.1l0.2 1.5l-1.2 0.2l0.2 1.4l0 0l0.2 1.5l-3.6 0.5l0.2 1.4l-2.4 0.3l0.2 1.4l7.1 -0.8l0.2 1.5l-7.2 0.7l0.2 1.4l-2.4 0.2l0.1 1.5l10.8 -0.9l0.1 1.5l-1.2 0l0.1 1.5l2.4 -0.1l0.1 1.5l1.2 -0.1l0.1 1.5l0 0l0 1.5l0 0l0.1 1.5l-28.8 1l0 -1.3l-1.2 0.1l-0.1 -1.3l1.2 0l-0.1 -1.3l0 0l-0.1 -1.3l1.2 -0.1l0 -1.3l2.3 -0.1l-0.1 -1.4l0 0l-0.1 -1.3l3.6 -0.3l-0.1 -1.3l0 0l-0.2 -1.4l0 0l-0.1 -1.3l-1.2 0.1l-0.1 -1.3l-6 0.8l-0.2 -1.3l2.4 -0.3l-0.2 -1.3l0 0l-0.1 -1.3l-3.6 0.5l-0.2 -1.2l0 0l-0.2 -1.3l0 0l-0.2 -1.3l-3.6 0.7l-0.2 -1.3l0 0l-0.2 -1.2l0 0l-0.2 -1.2l-1.2 0.2l-0.3 -1.2l0 0l-0.2 -1.2l0 0l-0.3 -1.2l0 0l-0.3 -1.2zM739.4 522.9l0 1.5l0 0l0 1.6l2.4 0l0 1.5l-2.4 0l0 1.5l-3.6 0l-0.1 1.5l0 0l0 1.5l7.2 0.2l-0.1 1.6l-8.4 -0.4l0 1.5l0 0l-0.1 1.5l-4.8 -0.2l-0.1 1.4l0 0l-0.1 1.5l-1.2 -0.1l-0.1 1.4l-3.6 -0.3l-0.1 1.5l0 0l-0.2 1.4l0 0l-0.1 1.4l2.4 0.2l-0.2 1.5l7.2 0.8l-0.2 1.5l-7.1 -0.9l-0.2 1.4l-2.4 -0.3l-0.2 1.4l1.2 0.2l-0.2 1.4l7.1 1.1l-0.2 1.4l-3.6 -0.5l-0.2 1.4l-2.3 -0.4l-0.3 1.5l0 0l-0.2 1.4l3.5 0.6l-0.3 1.5l1.2 0.2l-0.2 1.4l-4.8 -0.9l-0.2 1.4l5.8 1.2l-0.3 1.5l0 0l-0.3 1.4l0 0l-0.3 1.5l-2.3 -0.5l-0.4 1.4l0 0l-0.3 1.4l-33.8 -8.2l0.3 -1.2l0 0l0.2 -1.2l3.5 0.8l0.3 -1.2l0 0l0.3 -1.2l2.3 0.5l0.3 -1.2l0 0l0.2 -1.2l1.2 0.2l0.2 -1.2l1.2 0.2l0.2 -1.2l0 0l0.2 -1.3l1.2 0.2l0.2 -1.2l2.4 0.4l0.2 -1.3l3.6 0.5l0.2 -1.3l0 0l0.1 -1.3l0 0l0.2 -1.3l-3.6 -0.4l0.2 -1.3l0 0l0.2 -1.3l2.3 0.3l0.2 -1.3l0 0l0.1 -1.3l1.2 0.1l0.1 -1.3l-1.2 -0.1l0.2 -1.3l-2.4 -0.2l0.1 -1.3l-3.6 -0.3l0.1 -1.2l0 0l0 -1.3l0 0l0.1 -1.3l-1.2 0l0.1 -1.3l-1.2 0l0 -1.3l-1.2 0l0 -1.2l1.2 0l0.1 -1.2l0 0l0 -1.3l-2.4 0l0 -1.2l-3.6 0l0 -1.2l0 0l0 -1.2zM730.5 574.9l-0.4 1.5l0 0l-0.4 1.4l2.3 0.7l-0.4 1.4l1.2 0.4l-0.5 1.4l-3.4 -1l-0.5 1.4l0 0l-0.4 1.5l0 0l-0.5 1.4l0 0l-0.4 1.4l-1.2 -0.4l-0.5 1.4l-2.2 -0.7l-0.5 1.3l-1.1 -0.3l-0.5 1.3l-2.3 -0.8l-0.5 1.4l0 0l-0.5 1.3l5.6 2.1l-0.5 1.4l-5.6 -2.1l-0.5 1.3l0 0l-0.6 1.3l0 0l-0.5 1.4l2.2 0.9l-0.6 1.3l-5.5 -2.3l-0.5 1.3l0 0l-0.6 1.3l-28.5 -12.6l0.4 -1.1l-2.2 -1l0.5 -1l7.7 3.3l0.5 -1.2l-1.1 -0.4l0.4 -1.1l3.4 1.3l0.4 -1.1l-8.9 -3.6l0.4 -1.1l5.6 2.2l0.5 -1.1l1.1 0.4l0.4 -1.1l1.1 0.4l0.5 -1.2l1.1 0.4l0.4 -1.1l0 0l0.4 -1.2l2.3 0.8l0.4 -1.2l0 0l0.4 -1.2l0 0l0.4 -1.2l0 0l0.3 -1.2l0 0l0.4 -1.2l0 0l0.4 -1.2l0 0l0.3 -1.2l0 0l0.3 -1.2l1.2 0.3l0.3 -1.2zM716.7 605.8l-0.6 1.4l0 0l-0.7 1.3l0 0l-0.6 1.4l0 0l-0.7 1.3l-2.2 -1.1l-0.6 1.3l0 0l-0.7 1.4l-2.1 -1.2l-0.7 1.3l-1.1 -0.5l-0.7 1.3l0 0l-0.7 1.2l0 0l-0.7 1.3l3.1 1.8l-0.7 1.3l-5.2 -3l-0.7 1.2l0 0l-0.8 1.2l-1 -0.6l-0.8 1.3l2.1 1.2l-0.8 1.2l0 0l-0.7 1.3l0 0l-0.8 1.2l1 0.6l-0.8 1.3l2 1.3l-0.8 1.2l-2 -1.3l-0.8 1.2l0 0l-0.9 1.2l1 0.7l-0.8 1.2l0 0l-0.9 1.2l-1.9 -1.4l-0.9 1.2l1 0.7l-0.9 1.1l-26 -19.2l0.7 -1l-2.9 -2.1l0.7 -1l2.9 2.1l0.7 -1l0 0l0.7 -0.9l2 1.3l0.7 -1l-5 -3.4l0.7 -0.9l5.9 4l0.7 -1.1l3 2l0.7 -1l3 1.9l0.7 -1.1l0 0l0.7 -1.1l0 0l0.7 -1l0 0l0.7 -1.2l1 0.7l0.7 -1.1l2 1.2l0.7 -1.2l0 0l0.6 -1.1l0 0l0.7 -1.1l0 0l0.6 -1.2l0 0l0.7 -1.2l0 0l0.6 -1.1l-6.4 -3.4l0.6 -1.1l5.3 2.8l0.6 -1.2l0 0l0.6 -1.2l-2.1 -1l0.5 -1.2l1.1 0.5l0.6 -1.1l-2.2 -1.1l0.5 -1.1zM690.3 637.6l-0.8 1.1l0 0l-0.9 1.1l1.8 1.5l-0.9 1.2l1 0.7l-1 1.1l-0.9 -0.7l-0.9 1.1l1.8 1.5l-0.9 1.2l1.8 1.5l-1 1.1l0 0l-0.9 1.2l0.9 0.8l-1 1.1l-1.8 -1.6l-1 1.1l1.8 1.6l-1 1.1l-1.8 -1.6l-1 1.1l0 0l-1 1l0 0l-1 1.1l-1.8 -1.7l-1 1.1l0 0l-1 1l-2.6 -2.5l-1 1l0 0l-1 1l-1.7 -1.7l-1 0.9l-22.4 -23.3l0.8 -0.8l3.4 3.4l0.8 -0.8l0 0l0.9 -0.9l-2.6 -2.5l0.8 -0.9l1.8 1.7l0.8 -0.8l0 0l0.8 -0.9l2.6 2.5l0.9 -0.9l1.7 1.7l0.8 -1l0 0l0.9 -0.9l-1.8 -1.6l0.8 -0.9l0 0l0.8 -0.9l1.8 1.6l0.8 -0.9l0 0l0.8 -1l0.9 0.8l0.9 -0.9l-1 -0.8l0.8 -1l0.9 0.8l0.8 -1l1 0.8l0.7 -1l1 0.8l0.8 -1l3.7 2.9l0.8 -1zM675.9 667.5l-1.1 1l0 0l-1.2 1l-0.8 -0.9l-1.1 1l0 0l-1.2 1l0 0l-1.1 1l0 0l-1.2 1l0 0l-1.1 1l-1.6 -1.9l-1.1 1l-0.8 -1l-1.2 1l0.8 0.9l-1.2 0.9l-0.7 -0.9l-1.2 0.9l0 0l-1.2 0.9l3.6 4.8l-1.2 0.9l-2.9 -3.8l-1.2 0.9l0 0l-1.2 0.8l-2.1 -2.9l-1.2 0.9l1.4 1.9l-1.2 0.9l0 0l-1.2 0.8l-1.4 -1.9l-1.2 0.8l0 0l-1.2 0.8l1.9 3l-1.2 0.8l-1.3 -2l-1.3 0.8l0 0l-1.2 0.8l0 0l-1.3 0.8l-1.9 -3.1l-1.2 0.8l-11.8 -19.5l1 -0.6l0 0l1.1 -0.7l1.3 2l1.1 -0.7l0 0l1.1 -0.7l1.3 2l1.1 -0.7l0 0l1.1 -0.7l0 0l1.1 -0.8l-0.7 -0.9l1.1 -0.8l-0.7 -1l1 -0.7l-1.4 -2l1.1 -0.7l-3.5 -4.9l1 -0.7l2.8 3.9l1 -0.8l0.7 1l1 -0.8l3.7 4.8l1 -0.8l0 0l1.1 -0.8l-3 -3.8l1 -0.8l-2.2 -2.8l0.9 -0.8l0 0l1 -0.8l0 0l1 -0.8l-4.6 -5.5l0.9 -0.8l0 0l0.9 -0.8l0 0l0.9 -0.7l0 0l0.9 -0.8l-2.4 -2.7l0.9 -0.8l2.4 2.7l0.9 -0.8zM635.3 681l-1.3 0.8l0 0l-1.2 0.7l2.3 4.2l-1.3 0.7l1.1 2.1l-1.3 0.7l0 0l-1.3 0.7l1.1 2.1l-1.4 0.8l0 0l-1.3 0.7l0.5 1l-1.4 0.7l1.1 2.2l-1.4 0.6l0 0l-1.4 0.7l-17 -35.7l1.1 -0.6l0 0l1.1 -0.5l0 0l1.1 -0.6l0 0l1.1 -0.5l1.1 2.1l1.2 -0.6l-1.2 -2.1l1.1 -0.6l0.6 1.1l1.1 -0.6l1.7 3.1l1.2 -0.6l1.1 2.1l1.2 -0.6l0.5 1l1.2 -0.6zM624.7 700l-1.4 0.6l0 0l-1.4 0.6l0 0l-1.4 0.6l2.4 5.5l-1.5 0.6l-1.8 -4.4l-1.4 0.6l0 0l-1.4 0.6l-0.9 -2.3l-1.4 0.6l0 0l-1.4 0.5l-0.9 -2.2l-1.4 0.5l1.3 3.4l-1.4 0.5l0 0l-1.5 0.5l-0.4 -1.1l-1.4 0.5l0.4 1.1l-1.4 0.5l-0.8 -2.3l-1.4 0.5l-10.8 -33.1l1.1 -0.4l-1.5 -4.5l1.1 -0.4l0 0l1.1 -0.4l1.2 3.4l1.2 -0.4l0.8 2.3l1.1 -0.5l0 0l1.2 -0.4l0 0l1.1 -0.4l0 0l1.2 -0.5l-0.5 -1.1l1.2 -0.5l0 0l1.1 -0.4l0.9 2.2l1.2 -0.5l-1.4 -3.3l1.1 -0.5l-1.5 -3.3l1.1 -0.5l0 0l1.1 -0.4zM600.4 706.6l-1.4 0.4l0 0l-1.4 0.4l-0.4 -1.1l-1.4 0.4l-0.6 -2.3l-1.4 0.4l-0.4 -1.2l-1.4 0.4l-0.3 -1.2l-1.4 0.4l-1.4 -5.8l-1.4 0.3l0.9 3.5l-1.4 0.3l0 0l-1.4 0.4l0.5 2.3l-1.4 0.3l0 0l-1.4 0.3l0 0l-1.4 0.3l0.7 3.5l-1.4 0.3l0.4 2.4l-1.4 0.3l0 0l-1.5 0.2l0.6 3.6l-1.5 0.2l-0.2 -1.1l-1.5 0.2l0.2 1.2l-1.5 0.2l0.2 1.2l-1.5 0.2l-0.2 -1.1l-1.5 0.2l0 0l-1.5 0.2l0 0l-1.5 0.2l-5.1 -41.7l1.2 -0.2l0.6 4.8l1.2 -0.2l0 0l1.2 -0.2l0 0l1.2 -0.1l0 0l1.3 -0.2l-0.2 -1.2l1.2 -0.2l0.8 4.7l1.2 -0.2l0 0l1.2 -0.2l0 0l1.3 -0.3l0 0l1.2 -0.2l0.5 2.3l1.2 -0.2l0.5 2.3l1.3 -0.2l0 0l1.3 -0.3l0.5 2.3l1.3 -0.3l-0.6 -2.3l1.3 -0.3l0 0l1.2 -0.3l-0.9 -3.5l1.3 -0.3l-0.3 -1.2l1.2 -0.3l-0.7 -2.3l1.2 -0.4l-0.6 -2.3l1.2 -0.3l0 0l1.1 -0.3l0 0l1.2 -0.4zM564.7 716.2l-1.5 0.2l0 0l-1.5 0.1l0 0l-1.5 0.1l0 0l-1.6 0.1l0.3 3.6l-1.6 0.1l0 0l-1.5 0.1l0.1 1.2l-1.6 0.1l0 0l-1.6 0.1l0 0l-1.5 0l-0.1 -2.4l-1.5 0.1l-0.1 -2.4l-1.5 0l0 1.2l-1.5 0l0 0l-1.5 0l0 0l-1.6 0l0 1.2l-1.5 0l0 0l-1.6 -0.1l0 0l-1.5 0l0 0l-1.5 -0.1l0 0l-1.6 0l0.1 -2.4l-1.5 -0.1l-0.1 2.4l-1.6 -0.1l0.1 -1.2l-1.5 -0.1l3.2 -43.1l1.1 0.1l-0.1 2.4l1.2 0.1l0 0l1.2 0l-0.3 6l1.3 0.1l0.1 -3.6l1.2 0l0 0l1.2 0l0 0l1.3 0.1l-0.1 6l1.2 0l0.1 -3.6l1.2 0l0 0l1.3 0l0 4.8l1.3 0l-0.1 -7.2l1.2 0l0 1.2l1.3 -0.1l-0.1 -1.2l1.3 0l0 0l1.2 -0.1l0 1.2l1.3 0l0 1.2l1.3 -0.1l-0.1 -1.2l1.2 -0.1l0 0l1.3 -0.1l0 0l1.2 -0.1l-0.1 -1.2l1.2 -0.1l-0.2 -2.4l1.2 -0.1zM528.9 699.6l-1.4 -0.1l-0.1 1.2l-1.4 -0.2l0 0l-1.4 -0.1l-0.4 3.6l-1.4 -0.2l0.6 -4.8l-1.4 -0.2l0 0l-1.3 -0.1l0 0l-1.4 -0.2l-0.4 2.3l-1.3 -0.2l0.1 -1.2l-1.3 -0.2l0 0l-1.4 -0.2l0 0l-1.4 -0.3l-0.4 2.4l-1.4 -0.3l-0.2 1.2l-1.4 -0.3l-0.2 1.2l-1.4 -0.3l0 0l-1.4 -0.3l0 0l-1.4 -0.3l0 0l-1.4 -0.3l-1.1 4.7l-1.4 -0.3l0 0l-1.4 -0.4l-0.3 1.2l-1.5 -0.4l0 0l-1.4 -0.4l0 0l-1.4 -0.3l0 0l-1.4 -0.4l0 0l-1.4 -0.5l0 0l-1.5 -0.4l-2.4 8.1l-1.4 -0.5l1.4 -4.6l-1.5 -0.4l0 0l-1.4 -0.5l-0.4 1.2l-1.4 -0.5l-0.8 2.3l-1.4 -0.5l0.4 -1.1l-1.5 -0.5l0.4 -1.2l-1.4 -0.5l14.7 -40.6l1.1 0.4l0 0l1.1 0.4l0.4 -1.2l1.1 0.4l-0.8 2.3l1.1 0.3l0 0l1.2 0.4l-0.4 1.1l1.1 0.4l0 0l1.2 0.3l-0.4 1.2l1.2 0.3l-0.7 2.3l1.2 0.4l1 -3.5l1.1 0.3l-1.9 7l1.2 0.3l0 0l1.2 0.3l-0.6 2.3l1.2 0.4l0.3 -1.2l1.3 0.3l0 0l1.2 0.3l0 0l1.2 0.3l-1 4.6l1.2 0.3l0 0l1.3 0.3l0 0l1.3 0.2l-0.5 2.4l1.3 0.2l-0.3 1.2l1.3 0.3l0 0l1.3 0.2l0 0l1.4 0.2l-0.2 1.2l1.3 0.2l0 0l1.3 0.2l-0.2 1.2l1.3 0.2l0.4 -2.4l1.3 0.2l0 0l1.3 0.2l-0.2 1.2l1.4 0.1l0 0l1.3 0.2l0.4 -3.6l1.3 0.1l-0.5 4.8l1.3 0.1zM477.8 701.1l-1.4 -0.6l0 0l-1.4 -0.5l1.4 -3.4l-1.4 -0.5l-2.3 5.5l-1.3 -0.5l1.4 -3.4l-1.4 -0.5l0 0l-1.3 -0.6l0.5 -1.1l-1.4 -0.6l-1.4 3.3l-1.4 -0.6l2 -4.4l-1.3 -0.6l0 0l-1.3 -0.6l0 0l-1.3 -0.6l-1.1 2.1l-1.3 -0.6l-2.1 4.3l-1.4 -0.7l2.2 -4.3l-1.3 -0.7l0 0l-1.3 -0.6l0 0l-1.3 -0.7l-4 7.4l-1.3 -0.7l-1.1 2.1l-1.4 -0.8l3.5 -6.3l-1.3 -0.7l-1.2 2.1l-1.3 -0.8l0 0l-1.3 -0.7l0 0l-1.3 -0.8l21.6 -36l1 0.6l0 0l1 0.6l-1.2 2l1.1 0.6l1.7 -3.1l1.1 0.6l-1.8 3.1l1.1 0.6l-2.3 4.2l1 0.6l0.6 -1.1l1.1 0.6l0 0l1.1 0.6l0 0l1.1 0.6l0.5 -1.1l1.1 0.5l-2.7 5.4l1.2 0.6l0 0l1.1 0.5l0 0l1.2 0.6l-1.1 2.1l1.2 0.6l2.5 -5.5l1.1 0.5l-1.4 3.3l1.1 0.5l0 0l1.2 0.5l0 0l1.1 0.5l1 -2.2l1.1 0.5l0 0l1.2 0.5l3.6 -8.9l1.1 0.4l-1.8 4.5l1.1 0.4zM446.6 682.8l-1.3 -0.8l0 0l-1.2 -0.8l-0.7 1l-1.2 -0.8l-0.7 1l-1.3 -0.9l0 0l-1.2 -0.8l-1.4 2l-1.2 -0.9l0 0l-1.3 -0.9l0 0l-1.2 -0.9l-1.4 2l-1.3 -1l0 0l-1.2 -0.9l0 0l-1.3 -0.9l-0.7 0.9l-1.3 -0.9l0 0l-1.2 -1l0 0l-1.2 -0.9l0.7 -1l-1.2 -1l1.5 -1.8l-1.2 -1l0 0l-1.1 -1l2.3 -2.7l-1.2 -1l0 0l-1.1 -1l1.6 -1.8l-1.2 -1l1.6 -1.8l-1.1 -1l-0.8 0.9l-1.1 -0.9l0 0l-1.1 -1l-5.7 6.1l-1.1 -1l6.6 -7l-1.1 -1l20.7 -21.7l0.9 0.8l0 0l0.9 0.8l0 0l0.9 0.9l0.8 -0.9l0.9 0.8l0 0l0.9 0.8l2.4 -2.7l0.9 0.8l-4.7 5.4l0.9 0.8l0 0l1 0.8l-1.6 1.9l1 0.8l-0.7 0.9l0.9 0.8l0.8 -0.9l1 0.8l-2.3 2.8l1 0.8l-2.2 2.8l1.1 0.8l0.7 -0.9l1 0.8l-1.4 1.9l1.1 0.8l0 0l1 0.8l0 0l1.1 0.8l2.1 -3l1.1 0.8l0.7 -1l1 0.8l0.7 -1l1.1 0.7l1.3 -2l1.1 0.7l0 0l1 0.7l-0.6 1l1 0.7l0 0l1.1 0.7l0.6 -1l1.1 0.7zM422 649.5l-1 -1l-0.9 0.9l-1 -1l-1.7 1.6l-1 -1l-1.7 1.7l-1 -1.1l0 0l-1 -1.1l0 0l-1 -1l0 0l-1 -1.1l-1.8 1.6l-0.9 -1.1l-4.5 4l-1 -1.2l2.7 -2.3l-1 -1.2l-6.4 5.5l-1 -1.2l8.3 -6.9l-1 -1.2l2.8 -2.3l-0.9 -1.1l-4.6 3.8l-1 -1.1l-7.5 6l-1 -1.3l3.8 -2.9l-0.9 -1.2l0.9 -0.8l-0.9 -1.2l-2.9 2.2l-0.9 -1.2l-1 0.7l-0.9 -1.3l0 0l-0.9 -1.2l0 0l-0.9 -1.3l-2.9 2.1l-1 -1.3l1 -0.7l-0.9 -1.3l1 -0.7l-0.9 -1.2l1 -0.7l-0.9 -1.3l0 0l-0.8 -1.3l2 -1.3l-0.8 -1.3l0 0l-0.9 -1.3l0 0l-0.8 -1.3l-5.1 3.1l-0.8 -1.3l34.8 -21.2l0.7 1l2 -1.2l0.7 1l-1 0.7l0.6 1l3.1 -1.9l0.6 1l0 0l0.7 1l-3 2l0.7 1l7 -4.7l0.6 1l-2.9 2l0.7 1l-1 0.7l0.7 1l-1 0.7l0.7 1l0 0l0.7 1l-0.9 0.7l0.7 1l2.9 -2.1l0.7 0.9l-4.7 3.7l0.7 1l0 0l0.8 1l0 0l0.8 0.9l4.7 -3.7l0.7 0.9l-5.6 4.6l0.9 1l0 0l0.8 0.9l0 0l0.8 1l-4.6 3.9l0.9 1l3.6 -3.2l0.9 1l-2.7 2.4l0.8 1l-1.8 1.6l0.9 1l3.6 -3.3l0.8 1l-4.4 4.1l1 0.9l2.6 -2.4l0.9 0.9l-0.9 0.8l0.9 1l-2.5 2.5l0.9 1l6 -6l0.9 1zM386.8 617.6l-0.7 -1.3l-1.1 0.6l-0.7 -1.3l-2.1 1.2l-0.7 -1.3l4.2 -2.3l-0.7 -1.3l-5.3 2.8l-0.7 -1.3l0 0l-0.7 -1.4l0 0l-0.7 -1.3l0 0l-0.7 -1.4l-5.4 2.7l-0.7 -1.4l10.8 -5.3l-0.6 -1.3l-4.3 2.1l-0.7 -1.4l0 0l-0.6 -1.4l0 0l-0.6 -1.3l1.1 -0.5l-0.7 -1.4l1.1 -0.5l-0.5 -1.3l-4.5 1.9l-0.6 -1.5l5.6 -2.3l-0.6 -1.3l-1.1 0.4l-0.6 -1.4l0 0l-0.5 -1.4l0 0l-0.5 -1.3l-6.8 2.5l-0.5 -1.4l0 0l-0.6 -1.5l38.4 -13.9l0.4 1.1l0 0l0.4 1.2l0 0l0.5 1.1l-2.3 0.9l0.5 1.1l0 0l0.5 1.2l-6.7 2.7l0.5 1.2l0 0l0.5 1.2l4.4 -1.9l0.5 1.2l-2.2 0.9l0.5 1.2l-2.2 1l0.6 1.2l1.1 -0.5l0.5 1.1l-7.6 3.6l0.6 1.2l3.2 -1.5l0.6 1.1l-3.2 1.6l0.6 1.2l6.4 -3.2l0.6 1.2l0 0l0.6 1.1l1.1 -0.5l0.6 1.1l4.2 -2.2l0.6 1.1l2.1 -1.2l0.6 1.1l0 0l0.6 1.1l0 0l0.6 1.1l1 -0.6l0.6 1zM365 586.9l-0.5 -1.4l0 0l-0.5 -1.4l3.4 -1.2l-0.4 -1.3l2.3 -0.8l-0.4 -1.3l-1.2 0.3l-0.4 -1.4l0 0l-0.4 -1.3l1.2 -0.4l-0.4 -1.4l2.3 -0.6l-0.4 -1.4l2.3 -0.6l-0.4 -1.4l-6.9 1.9l-0.4 -1.4l4.7 -1.2l-0.4 -1.4l3.5 -0.9l-0.3 -1.3l0 0l-0.3 -1.4l-2.4 0.6l-0.3 -1.4l-3.5 0.8l-0.3 -1.4l0 0l-0.3 -1.4l-1.2 0.2l-0.3 -1.4l-4.7 1l-0.2 -1.5l0 0l-0.3 -1.5l-1.2 0.3l-0.3 -1.5l0 0l-0.2 -1.5l39.1 -6.5l0.2 1.2l-1.2 0.2l0.2 1.2l0 0l0.2 1.1l4.7 -0.9l0.2 1.2l-4.7 0.9l0.3 1.2l-2.4 0.5l0.3 1.2l-3.6 0.7l0.3 1.2l0 0l0.3 1.2l0 0l0.3 1.2l-2.4 0.6l0.3 1.2l-3.5 0.9l0.3 1.2l0 0l0.4 1.3l0 0l0.3 1.2l3.5 -0.9l0.3 1.2l1.2 -0.3l0.3 1.2l0 0l0.4 1.2l1.1 -0.4l0.4 1.2l1.1 -0.4l0.4 1.2l1.1 -0.3l0.4 1.1l-2.3 0.8l0.4 1.1l0 0l0.4 1.2zM349.6 553.8l-0.2 -1.5l1.2 -0.2l-0.2 -1.6l4.8 -0.6l-0.2 -1.5l-1.2 0.1l-0.2 -1.5l0 0l-0.2 -1.6l0 0l-0.1 -1.5l2.4 -0.2l-0.2 -1.5l0 0l-0.1 -1.6l2.4 -0.2l-0.1 -1.5l0 0l-0.1 -1.5l0 0l-0.1 -1.5l2.4 -0.1l-0.1 -1.5l0 0l-0.1 -1.5l0 0l0 -1.5l1.2 0l0 -1.5l3.5 -0.1l0 -1.4l0 0l0 -1.5l-2.4 0l0 -1.4l1.2 0l0 -1.5l0 0l0 -1.5l0 0l0.1 -1.4l0 0l0 -1.5l21.6 0.7l-0.1 1.3l-4.7 -0.1l-0.1 1.3l4.8 0.1l0 1.3l-4.8 -0.1l0 1.4l0 0l0 1.3l0 0l0 1.3l0 0l0 1.3l0 0l0.1 1.4l2.4 -0.1l0 1.3l-1.2 0.1l0.1 1.3l2.4 -0.1l0 1.3l2.4 -0.2l0.1 1.3l2.4 -0.2l0.1 1.3l0 0l0.1 1.3l6 -0.5l0.1 1.2l-3.6 0.3l0.1 1.2l-1.2 0.2l0.1 1.2l1.2 -0.1l0.2 1.2l-3.6 0.4l0.1 1.3l7.2 -0.9l0.1 1.2l-4.7 0.6l0.1 1.3l8.4 -1.2l0.1 1.2zM352.7 515.1l0.1 -1.5l0 0l0.1 -1.6l1.2 0.1l0.1 -1.5l0 0l0.1 -1.6l2.4 0.3l0.1 -1.6l0 0l0.2 -1.5l1.2 0.1l0.1 -1.5l-1.2 -0.1l0.2 -1.5l1.2 0.1l0.2 -1.5l2.4 0.3l0.2 -1.4l1.2 0.1l0.2 -1.4l0 0l0.2 -1.5l1.2 0.2l0.2 -1.5l0 0l0.2 -1.4l2.4 0.4l0.2 -1.5l-4.7 -0.8l0.3 -1.5l7.1 1.3l0.2 -1.4l-1.2 -0.2l0.3 -1.4l-2.3 -0.5l0.3 -1.4l-3.6 -0.8l0.4 -1.4l0 0l0.3 -1.5l2.3 0.6l0.3 -1.5l-5.8 -1.3l0.4 -1.5l4.6 1.1l0.4 -1.4l-2.3 -0.6l0.3 -1.5l36 9.4l-0.3 1.2l-2.3 -0.6l-0.3 1.2l-3.5 -0.9l-0.3 1.2l1.2 0.3l-0.3 1.2l-2.3 -0.5l-0.3 1.2l-2.4 -0.5l-0.2 1.3l-1.2 -0.3l-0.3 1.3l-3.5 -0.7l-0.2 1.3l7 1.3l-0.2 1.3l0 0l-0.2 1.2l-4.8 -0.8l-0.2 1.2l-2.3 -0.4l-0.3 1.3l0 0l-0.2 1.3l2.4 0.4l-0.2 1.3l-5.9 -0.9l-0.2 1.4l8.3 1.1l-0.1 1.3l0 0l-0.2 1.2l0 0l-0.1 1.3l-1.2 -0.1l-0.2 1.3l2.4 0.2l-0.1 1.3l0 0l-0.1 1.2l2.4 0.2l-0.1 1.3l0 0l-0.1 1.2l-3.6 -0.2l-0.1 1.3l2.4 0.1l-0.1 1.3zM365.4 474.7l0.5 -1.5l2.3 0.7l0.4 -1.4l2.3 0.7l0.4 -1.4l-9.2 -2.8l0.5 -1.5l5.7 1.8l0.4 -1.4l2.3 0.8l0.5 -1.4l1.1 0.4l0.5 -1.4l2.3 0.8l0.4 -1.3l4.5 1.6l0.5 -1.4l-5.6 -2l0.5 -1.3l-2.3 -0.9l0.5 -1.3l-2.2 -0.9l0.5 -1.4l0 0l0.5 -1.3l0 0l0.6 -1.4l-1.1 -0.5l0.6 -1.3l5.5 2.3l0.5 -1.3l-5.5 -2.4l0.6 -1.4l2.2 1l0.6 -1.3l0 0l0.6 -1.4l-7.6 -3.4l0.6 -1.4l4.3 2l0.7 -1.4l35.8 17l-0.5 1l0 0l-0.5 1.1l0 0l-0.5 1.1l0 0l-0.5 1.1l-2.2 -1l-0.4 1.1l2.2 0.9l-0.5 1.1l-3.3 -1.4l-0.5 1.2l-7.8 -3.2l-0.4 1.2l3.3 1.3l-0.4 1.2l-2.3 -0.9l-0.4 1.2l-1.2 -0.4l-0.4 1.1l0 0l-0.4 1.2l-3.4 -1.2l-0.5 1.2l0 0l-0.4 1.3l-1.1 -0.4l-0.4 1.2l9.1 3.1l-0.4 1.1l-5.7 -1.8l-0.4 1.2l0 0l-0.4 1.2l-1.2 -0.3l-0.3 1.2l0 0l-0.4 1.3l4.6 1.3l-0.3 1.2zM381.3 443.6l0.6 -1.2l-2.1 -1.1l0.7 -1.3l-4.3 -2.2l0.7 -1.4l5.3 2.9l0.7 -1.3l0 0l0.7 -1.3l1 0.6l0.7 -1.3l0 0l0.7 -1.2l0 0l0.7 -1.3l0 0l0.8 -1.2l-3.1 -1.8l0.7 -1.3l1 0.6l0.8 -1.2l-6.1 -3.8l0.7 -1.3l3.1 1.9l0.8 -1.2l-6.1 -3.9l0.8 -1.3l4.1 2.6l0.8 -1.2l0 0l0.8 -1.3l5 3.4l0.8 -1.3l-6.9 -4.7l0.8 -1.2l4 2.7l0.8 -1.2l0 0l0.9 -1.2l-1 -0.7l0.9 -1.2l-2 -1.4l0.9 -1.3l-3.8 -2.8l0.9 -1.3l4.8 3.6l0.9 -1.2l0 0l0.9 -1.1l31.3 24.2l-0.7 0.9l0 0l-0.7 1l0.9 0.7l-0.7 1l1 0.7l-0.7 0.9l0 0l-0.7 1l1 0.7l-0.7 0.9l-1 -0.7l-0.6 1l2 1.4l-0.7 0.9l-3 -2l-0.6 1l0 0l-0.7 1l-5 -3.3l-0.7 1l0 0l-0.6 1l-4.1 -2.5l-0.7 1l4.1 2.6l-0.6 1l0 0l-0.7 1.1l0 0l-0.6 1l-1 -0.6l-0.7 1.1l6.3 3.6l-0.6 1l-7.3 -4.1l-0.6 1l-2.1 -1.1l-0.6 1.1l-3.2 -1.7l-0.6 1.1l0 0l-0.6 1.1l0 0l-0.6 1.2l0 0l-0.6 1.1l-3.2 -1.6l-0.6 1.2zM401.8 409.5l0.9 -1.1l0 0l0.9 -1.1l0 0l1 -1.1l0 0l0.9 -1.1l0 0l1 -1.1l0 0l0.9 -1.1l-0.9 -0.8l1 -1.1l0 0l1 -1.1l-1.8 -1.6l1 -1.1l0 0l1 -1l-1.7 -1.7l1 -1.1l0 0l1.1 -1l0.8 0.8l1.1 -1.1l-1.7 -1.7l1 -1l-4.2 -4.3l1.1 -1.1l1.7 1.7l1.1 -1l0 0l1.1 -1.1l0 0l1.1 -1l0.8 0.8l1.2 -1l0 0l1.1 -1l-1.6 -1.8l1.1 -1l2.4 2.7l1.2 -1l-1.6 -1.9l1.1 -1l3.9 4.6l1.2 -1l24.8 29.3l-0.9 0.8l0 0l-0.9 0.8l0 0l-0.9 0.8l0 0l-0.9 0.8l-1.6 -1.8l-0.9 0.8l1.6 1.8l-0.8 0.8l0 0l-0.9 0.8l0 0l-0.9 0.8l-1.6 -1.7l-0.9 0.8l-0.8 -0.9l-0.9 0.9l0 0l-0.8 0.8l0 0l-0.9 0.9l0 0l-0.8 0.9l-1.8 -1.7l-0.8 0.9l0 0l-0.9 0.9l0 0l-0.8 0.9l0 0l-0.8 0.9l-0.9 -0.8l-0.9 1l0 0l-0.8 0.9l-1.8 -1.6l-0.8 1l-0.9 -0.8l-0.8 0.9l2.7 2.4l-0.8 0.9l-2.8 -2.3l-0.8 1l-1.8 -1.5l-0.8 1zM432.1 386l1.1 -0.9l0 0l1.1 -0.9l0 0l1.1 -0.9l0 0l1.1 -0.8l0 0l1.1 -0.9l-0.7 -0.9l1.1 -0.9l0 0l1.2 -0.8l0 0l1.1 -0.8l-2.1 -3l1.2 -0.8l0.7 1l1.2 -0.8l0 0l1.2 -0.8l-1.4 -2l1.2 -0.8l0 0l1.2 -0.8l-0.6 -1l1.2 -0.8l-1.3 -2.1l1.3 -0.8l2.5 4.1l1.3 -0.8l-2.6 -4l1.3 -0.8l0 0l1.2 -0.8l-0.6 -1l1.3 -0.8l0 0l1.3 -0.7l-1.2 -2.1l1.3 -0.8l-1.2 -2l1.3 -0.8l0.6 1l1.4 -0.7l1.7 3.2l1.3 -0.7l-1.1 -2.2l1.3 -0.7l0 0l1.3 -0.7l0 0l1.4 -0.7l20.1 39.6l-1 0.6l0 0l-1.1 0.5l-1.1 -2.1l-1 0.5l0 0l-1.1 0.6l0 0l-1 0.6l-1.8 -3.2l-1 0.6l0 0l-1.1 0.6l-0.6 -1l-1 0.6l-0.6 -1l-1.1 0.6l0 0l-1 0.6l0 0l-1.1 0.7l0 0l-1 0.6l-1.3 -2l-1 0.7l-0.7 -1l-1 0.6l-0.7 -1l-1.1 0.7l1.4 2l-1.1 0.7l-2 -3l-1 0.8l0.6 1l-1 0.7l0 0l-1 0.7l0 0l-1.1 0.7l-2.1 -2.9l-1 0.8l0 0l-1.1 0.8l0 0l-1 0.7l0 0l-1 0.8l-2.2 -2.8l-1.1 0.8l0 0l-1 0.8l0.8 1l-1.1 0.8zM465.7 360.4l1.3 -0.6l0 0l1.3 -0.6l0 0l1.3 -0.6l-0.5 -1.1l1.3 -0.6l-1.4 -3.3l1.3 -0.6l-0.9 -2.2l1.4 -0.6l1.4 3.3l1.3 -0.6l0 0l1.4 -0.5l-0.9 -2.3l1.4 -0.5l0 0l1.4 -0.6l0 0l1.4 -0.5l0 0l1.4 -0.5l0 0l1.4 -0.5l-1.2 -3.4l1.4 -0.5l-1.6 -4.6l1.5 -0.5l1.5 4.6l1.5 -0.5l0.4 1.1l1.4 -0.5l0 0l1.4 -0.4l0 0l1.5 -0.5l0 0l1.4 -0.4l-0.6 -2.3l1.4 -0.5l11.1 38.1l-1.2 0.3l0 0l-1.1 0.4l-1.1 -3.5l-1.2 0.4l1.5 4.6l-1.2 0.3l0 0l-1.2 0.4l0 0l-1.1 0.4l-0.4 -1.1l-1.1 0.4l0 0l-1.2 0.4l-1.6 -4.5l-1.2 0.4l1.2 3.4l-1.1 0.4l0 0l-1.2 0.5l0 0l-1.1 0.4l-2.2 -5.6l-1.2 0.5l1.8 4.5l-1.1 0.4l0 0l-1.2 0.5l3.8 8.8l-1.1 0.5l0 0l-1.1 0.5l-2.4 -5.5l-1.1 0.5l-1.5 -3.3l-1.1 0.5l-1 -2.2l-1.2 0.6l0 0l-1.1 0.5zM496.2 342.7l1.4 -0.4l0 0l1.4 -0.4l0 0l1.4 -0.3l0 0l1.5 -0.4l-0.3 -1.1l1.4 -0.4l0 0l1.5 -0.3l0 0l1.4 -0.3l0.3 1.2l1.4 -0.3l0.7 3.5l1.5 -0.3l0.2 1.2l1.4 -0.3l0.7 3.6l1.3 -0.3l0 0l1.4 -0.2l0 0l1.4 -0.2l-0.4 -2.4l1.4 -0.2l-0.3 -2.4l1.4 -0.2l0 0l1.4 -0.2l-0.1 -1.2l1.4 -0.2l-0.5 -3.6l1.5 -0.2l0 0l1.5 -0.1l-0.4 -3.6l1.5 -0.2l0 0l1.5 -0.1l0 0l1.5 -0.2l0 0l1.5 -0.1l0 0l1.5 -0.1l3.2 41.8l-1.2 0.1l-0.3 -3.6l-1.2 0.2l0.1 1.1l-1.2 0.2l0 0l-1.2 0.1l0.6 5.9l-1.1 0.2l-1 -8.4l-1.2 0.2l-0.4 -3.6l-1.3 0.2l1.1 8.3l-1.1 0.1l-0.9 -5.9l-1.2 0.2l-0.5 -3.6l-1.3 0.2l0 0l-1.2 0.2l0 0l-1.2 0.2l0 0l-1.3 0.2l0.5 2.4l-1.3 0.2l0 0l-1.2 0.2l0 0l-1.2 0.3l0.5 2.3l-1.2 0.3l0.5 2.3l-1.2 0.3l0.3 1.2l-1.2 0.2l0.5 2.4l-1.1 0.2l-0.6 -2.3l-1.1 0.3l0.8 3.5l-1.1 0.2l-1.8 -6.9l-1.1 0.3l0 0l-1.2 0.3z"/><clipPath id="hgc"><path d="M560.9 323.6A202.5 202.5 0 1 1 533.5 323.3L535.2 353.3A172.5 172.5 0 1 0 558.6 353.5Z"/></clipPath></defs>
<use href="#hg" fill="#f6a970"/>
<use href="#hg" fill="#f08a45" clip-path="url(#hgc)"/>
<use href="#hg" fill="none" stroke="#4a2208" stroke-width="1" stroke-linejoin="round"/>
<defs><radialGradient id="hgr" gradientUnits="userSpaceOnUse" cx="545.3" cy="525.5" r="137.5"><stop offset="0.39" stop-color="#cbcae5"/><stop offset="0.55" stop-color="#b9b8dc"/><stop offset="0.72" stop-color="#a6a4d2"/><stop offset="0.82" stop-color="#9c9acb"/><stop offset="1" stop-color="#9a98ca"/></radialGradient></defs>
<path d="M558.1 388.6A137.5 137.5 0 1 1 535.1 388.4L541.3 472.1A53.5 53.5 0 1 0 550.3 472.2Z" fill="url(#hgr)"/>
<path d="M551.1 463.9A61.9 61.9 0 1 1 540.7 463.8" fill="none" stroke="#f4f4fb" stroke-width="0.6" opacity="0.75"/>
<path d="M551.8 455.5A70.3 70.3 0 1 1 540.1 455.4" fill="none" stroke="#f4f4fb" stroke-width="0.6" opacity="0.75"/>
<path d="M552.6 447.1A78.7 78.7 0 1 1 539.5 447" fill="none" stroke="#f4f4fb" stroke-width="0.6" opacity="0.75"/>
<path d="M553.4 438.8A87.1 87.1 0 1 1 538.8 438.6" fill="none" stroke="#f4f4fb" stroke-width="0.6" opacity="0.75"/>
<path d="M554.2 430.4A95.5 95.5 0 1 1 538.2 430.3" fill="none" stroke="#6f6da0" stroke-width="0.6" opacity="0.75"/>
<path d="M555 422A103.9 103.9 0 1 1 537.6 421.9" fill="none" stroke="#6f6da0" stroke-width="0.6" opacity="0.75"/>
<path d="M555.7 413.7A112.3 112.3 0 1 1 537 413.5" fill="none" stroke="#6f6da0" stroke-width="0.6" opacity="0.75"/>
<path d="M556.5 405.3A120.7 120.7 0 1 1 536.4 405.1" fill="none" stroke="#6f6da0" stroke-width="0.6" opacity="0.75"/>
<path d="M557.3 397A129.1 129.1 0 1 1 535.7 396.8" fill="none" stroke="#6f6da0" stroke-width="0.6" opacity="0.75"/>
<path d="M560.8 475.3l25.4 -82.2M569.8 479.1l40.1 -76.1M581.5 487.5l59.3 -62.3M586.9 493.5l68.1 -52.5M592.7 502.9l77.7 -37M596.3 513.1l83.6 -20.3M597.8 524.2l86 -2.1M596.2 538.5l83.3 21.3M593.1 547.3l78.3 35.7M587.2 557.2l68.6 51.9M581.2 563.8l58.9 62.7M572.1 570.7l43.8 74M561.1 575.6l25.9 82M551.2 577.7l9.6 85.5M540.9 577.8l-7.2 85.7M527 574.7l-30 80.6M517.9 570.3l-44.9 73.3M508.7 563.1l-60 61.6M500.2 552.4l-73.9 44M495.8 542.9l-81.1 28.6M493.4 533.6l-85 13.2M492.8 523.2l-85.9 -3.7M494.6 511.7l-83 -22.5M498.1 502.5l-77.3 -37.6M504.1 492.9l-67.5 -53.3M511.8 485.1l-54.9 -66.2M522 478.5l-38.2 -77.1M531.1 474.9l-23.2 -82.8" stroke="#fff" stroke-width="1.3" fill="none"/>
<path d="M597.9 606.5h0M646.6 531.8h0M598.9 448.2h0M566.6 462.6h0M490.4 595h0M628 496.6h0M471.4 493.8h0M621.4 506.2h0M648.8 538.5h0M469.4 551.5h0M448.2 532.9h0M546.6 638.7h0M560 461.2h0M488.3 471h0M492.8 593.2h0M636.9 484.7h0M547.1 629.9h0M647.6 489.2h0M643.2 499.3h0M634.8 600.1h0M638.2 514.7h0M496.5 589.7h0M574.9 631.5h0M648.1 494.1h0M472.7 538.1h0M481.6 600.6h0M605 445.3h0M449.4 513.3h0M615.1 432.4h0M449 541.7h0M446.8 565.3h0M499.2 597.3h0M499.8 455.8h0M629.2 549.8h0M625.2 519.4h0M649.4 556.5h0M650.2 553.8h0M536.5 627.8h0M555.7 614.6h0M435.8 562.6h0M473.7 536.2h0M474.2 544.9h0M618.2 503.4h0M598.1 586.1h0M496.1 401.1h0M618.6 469.3h0M515.9 441.3h0M605 570.5h0M470.3 585.2h0M524.3 615.7h0M602.7 599.3h0M607 441.9h0M516.8 607.5h0M639.1 481.7h0M580.9 607.9h0M588.2 475.9h0M563.8 429.3h0M591.3 456.9h0M449.9 503.6h0M590.5 580.1h0M605.4 587.7h0M643.1 509.9h0M530.1 588.7h0M506.3 599.1h0M452 565.3h0M484 509.7h0M617.6 557.3h0M608.7 499.2h0M503.4 479.7h0M526.3 618.4h0M575.2 608.2h0M559.3 439.4h0M477.8 595.5h0M598.4 439h0M629.4 512.9h0M625.7 518.5h0M454 503.8h0M490.3 479.4h0M614.8 576.6h0M573.7 440.8h0M647.8 527.8h0M527.9 609.6h0M461.5 532.2h0M479.3 454.9h0M486 604.4h0M650.1 505.2h0M478.7 446.8h0M621.7 575.9h0M511.6 620.6h0M620.2 479.1h0M631.7 573.5h0M505 607.8h0M580.1 430.4h0M638.6 509.3h0M458.3 508.3h0M475.9 570.3h0M625.1 594.9h0M569.2 598.9h0M566.2 448.8h0M582.7 448h0M476.7 484.9h0M510.5 571.4h0M594.2 595h0M576.3 584.5h0M473 521.5h0M578 399.2h0M471.3 488.1h0M599.5 435.7h0M489.6 616h0M571.4 612.4h0M613.6 438.8h0M557.5 633.1h0M463.5 494.9h0M540.3 632h0M648.3 521.6h0M527.4 450.9h0M562 597.6h0M561.5 591.6h0M592.4 605.6h0M467.3 561h0M471.9 545.1h0M498.4 442.8h0M574.7 623h0M601.8 605.6h0M463.2 576.1h0M449 551.3h0M472.2 538.7h0M486 425h0M477.3 588.8h0M624.3 493.6h0M640.5 545h0M644.7 500.3h0M445.9 525.7h0M601.7 445.3h0M578.5 609.1h0M512.6 430.3h0M477.7 584.9h0M470.9 469.3h0M582.3 456.1h0M526.5 591h0M492.4 412.9h0M527 411.5h0M558.1 633.1h0M454.7 538.9h0M454.2 567.2h0M646.7 546h0M560.9 454.1h0M609.5 471.2h0M459.5 578.8h0M614.6 568.3h0M498.1 410.2h0M522.6 599.1h0M643 503.5h0M621 476.1h0M617.7 612.1h0M613.8 614.7h0M459.1 506.1h0M590.8 610.9h0M484.9 464h0M454.8 551.5h0M452.4 547.2h0M512.1 596.2h0M608.3 586.9h0M628.2 539.5h0M601 472h0M593.7 447.9h0M502.3 596.8h0M612.1 577.6h0M546 625.3h0M663.1 507h0M581.3 577h0M479.3 453.4h0M622 472.3h0M555.8 619.4h0M491.6 467.4h0M560.1 650.6h0M437.7 489.1h0M510.4 585.3h0M639.2 514h0M467.3 455.2h0M478.6 472h0M490.1 459.3h0M614.6 586.1h0M630.1 515.7h0M561.4 631h0M635.2 494.1h0M578.9 635.9h0M454.5 519.9h0M557.5 655.7h0M667.5 569.7h0M497.8 428.7h0M473.8 555.4h0M455 505.1h0M511.6 439.2h0M500.4 450.3h0M600.2 544.1h0M653.9 499.5h0M585 612.8h0M466.6 588.9h0M503 607.7h0M660.2 549.2h0M612.8 487.6h0M640.3 536.2h0M622.5 483.5h0M608.3 609.7h0M620.4 467.5h0M618.6 544.2h0M613.5 535.7h0M646.5 532.4h0M467.4 580.6h0M575.1 598.1h0M462.4 522.1h0M531.5 623.3h0M506.1 450.9h0M491.3 599.3h0M639.5 476.7h0M620.8 510h0M484.5 479.6h0M585.4 620.2h0M495 460.6h0M636.7 492h0M474.1 465.1h0M489.3 554.4h0M576.7 609.1h0M452.8 519.5h0M584.8 462.7h0M555.2 434.6h0M528.5 608.2h0M648 530.8h0M579.1 442.4h0M463.3 456.4h0M465.5 577.9h0M653.3 519.5h0M636.7 517.7h0M449.5 504.9h0M614.1 491.4h0M500.1 437.8h0M557.5 650.7h0M475.3 457.9h0M632 520.4h0M457.3 583.6h0M592.7 603h0M481.8 571.3h0M624 542.9h0M593.1 465h0M491 553.3h0M449.7 539.8h0M633.9 497.5h0M457.3 485.6h0M451.6 556.8h0M500.5 611.2h0M642.3 537.1h0M440.9 545.4h0M633.6 526.8h0M576.1 594.1h0M526.8 614.7h0M598.6 601.8h0M618.7 591.4h0M449.8 506.5h0M637 515h0M462.9 468.1h0M634.8 488h0M460.3 528.7h0M602.3 456.1h0M620.7 450.1h0M624.7 519.1h0M596.4 596.3h0M575.1 654.3h0M670.6 487.1h0M485 513.9h0M594.9 584.9h0M630 540.8h0M629.9 506.4h0M642.2 472.4h0M562.6 435.1h0M573 624h0M646.2 575.1h0M447.3 505.8h0M647.5 489.5h0M653.1 548.5h0M475.5 490.1h0M621.5 501.6h0M441.2 599.5h0M573.9 475.8h0M602.9 636.2h0M629.6 504.8h0M586.7 627.8h0M586 606h0M476.6 556.6h0M555.9 612.1h0M593.8 462h0M487.2 530.9h0M647 513.5h0M643.6 546.6h0M615.4 581.3h0M555.5 598.9h0M586 603h0M630.9 510.5h0M603.9 457.7h0M514.8 460.2h0M471.8 579.4h0M582.1 462h0M625.6 571.6h0M597.8 598.2h0M475.7 476.7h0M499.5 568.9h0M498.2 604.6h0M642.6 539.9h0M467 449.1h0M529.4 451.4h0M599.3 598.1h0M584.3 593.7h0M488.8 461.8h0M577.2 445.1h0M569.4 443.6h0M613.7 523.2h0M471.3 542.5h0M563.5 632h0M630.7 578.7h0M553.9 460.6h0M598.3 564h0M633.7 510.7h0M580.6 455.2h0M592 588.5h0M455.3 526.6h0M608.7 472.5h0M471.5 471.3h0M519.5 411.2h0M584.6 434.3h0M570.9 614h0M484 513.4h0M533 440.6h0M558.7 615.1h0M466.9 551.4h0M473 601.4h0M475.7 570.7h0M481.7 410.9h0M465.4 550.2h0M556.4 460.7h0M486.2 595.7h0M587.5 458.7h0M638.7 471.8h0M475.4 455.2h0M521.9 444.6h0M622 556h0M655.3 512.9h0M507.1 447h0M616.4 553.3h0M558.7 596.1h0M556.8 430.2h0M568.8 446.8h0M520.1 601.6h0M453.5 497.3h0M583.3 592.1h0M627.3 568.2h0M557.6 426.4h0M609.8 507.9h0M534.1 440.9h0" stroke="#f2e33c" stroke-width="1.6" stroke-linecap="round" fill="none"/>
<path d="M512.2 458.2h0M561.7 615.8h0M590.9 567.3h0M494.4 592h0M472.8 633.5h0M501.9 439.6h0M621.8 559.7h0M651.7 536.3h0M621.4 588.1h0M623.4 453.3h0M466.4 542.2h0M653.1 510.7h0M474.3 431.6h0M495.3 435.9h0M479.5 551.5h0M642.4 496.9h0M625.8 537.3h0M647.3 504.4h0M621.6 483.5h0M452.2 589.8h0M646.1 476.3h0M612.1 571.7h0M644.9 568.2h0M663.3 518.3h0M517.6 588.1h0M547.5 584.1h0M614.8 601.1h0M450.6 535.3h0M560.6 404.8h0M669.2 479.9h0M576.3 601.1h0M628.5 521.2h0M478.7 542.3h0M602.9 481.7h0M640.3 527.8h0M456.7 496.1h0M580 598.5h0M566.1 432.1h0M651.5 531.8h0M624.9 531h0M566.2 611.5h0M614.3 480.7h0M630.2 513.6h0M444.8 548.9h0M559.5 455.6h0M457.3 577.9h0M650.4 538.8h0M533.8 428.2h0M515.2 621.9h0M451.6 514.1h0M546.3 618.1h0M443.6 542.8h0M512 458h0M528.4 597.4h0M542.8 608.7h0M632.4 577h0M452.1 503h0M644.6 489.8h0M498.9 593.6h0M474.3 555.1h0M588 483.1h0M673.5 486.4h0M489.9 445.5h0M471.2 562h0M464.2 467.1h0M483.8 474h0M473.4 575.4h0M549.4 601.2h0M624.9 512.6h0M530.8 643h0M431.9 496.3h0M632.7 571.7h0M462.2 561.4h0M451.2 531.7h0M555.4 617.1h0M518.3 637.2h0M633.5 485.6h0M587.1 455.7h0M464 537.6h0M554.3 589.9h0M510.1 612.5h0M463.2 508.1h0M468.7 489.3h0M492.4 614.1h0M574.9 619.6h0M586.5 459.9h0M619.6 500.4h0M472.7 552.9h0M587.7 599.1h0M510.6 597.8h0M497.1 594.9h0M571.4 614.8h0M474.7 443.6h0M486.6 451.4h0M634.9 576.5h0M460.9 446.2h0M621.9 485.1h0M635 532.4h0M501.7 608.9h0M497.4 453.5h0M652.7 514.1h0M566.1 605.9h0M627.3 556.7h0M499 606.3h0M494.4 617h0M612.3 630.6h0M637.5 494.7h0M532.1 651h0M581.7 445.9h0M612.3 485.8h0M503.2 426.7h0M499 452.6h0M608.5 512.7h0M570.3 447.2h0M659 531.9h0M585.2 439.8h0M619.3 595.4h0M457.2 573.2h0M446.5 586h0M629.6 507.2h0M479.7 475.2h0M648.1 507.5h0M549.8 619.1h0M578.2 452.2h0M491.4 467.9h0M465.7 502.6h0M579 477h0M565.6 617.2h0M638.5 557.8h0M504.7 615.4h0M637.5 593.6h0M604.3 466.7h0M477.8 526.3h0M584 432.8h0M559.3 603.8h0M498.8 413.3h0M536 583.7h0M638.5 542.9h0M623.5 570.6h0M632.3 567.4h0M528.9 619.2h0M445.5 486.9h0M572.3 591.5h0M516.7 415.1h0M440.2 526.1h0M600.7 593.9h0M514 604.3h0M505.6 630.1h0M514.1 616.3h0M454.9 522h0M582.6 434.3h0M447.9 556.3h0M539 461.5h0M467.1 560h0M472.4 545.9h0M568.8 460.1h0M638.4 544.3h0M479.9 556.6h0M501.1 640.5h0M422.9 502.2h0M574.5 624.9h0M480.9 568.2h0M628.4 517.3h0M524.3 412.5h0M600.4 540h0M451.6 474.5h0M585.9 420.5h0M531.3 648.7h0M605.8 591.1h0M502.5 468.3h0M454.3 479h0M435.3 477.4h0M459.2 547.6h0M454.6 564.5h0M470.6 476h0M607.1 584.9h0M625.5 582.3h0M514.2 431.2h0M479.6 578.4h0M578.8 596h0M583.8 628.5h0M628.9 563.6h0M529.2 603h0M520.8 424.8h0M661.9 507.1h0M575.7 615.9h0M611.9 502.9h0M474.9 614.6h0M504.9 597.7h0M457.3 455.4h0M476.1 461.7h0M556.2 627.3h0M657 520.1h0M474.5 470.6h0M441.2 536h0M576.9 443.7h0M613.4 589.5h0M607.5 557.8h0M463.1 495.9h0M459.2 430.1h0M439.6 499.2h0M514.6 622.3h0M561.5 453.7h0M458.6 498.2h0M563.3 457.4h0M479 606.4h0M489.3 518.8h0M521.8 615.3h0M480.6 484.8h0M601.3 409h0M618.5 592.1h0M581.1 618.3h0M473.8 463.3h0M477.7 447.5h0M519.8 612.4h0M631.5 530.7h0M445.5 607.6h0M501.6 467.9h0M616.3 456.9h0M639.1 578.6h0M632.9 532.9h0M628.9 552.7h0M626.1 479.7h0M452.5 540.6h0M615.8 573.6h0M547.9 631.8h0M547.2 616.6h0M497 602.1h0M472.9 601.3h0M619.2 488.2h0M480.9 575.6h0M620.5 545.9h0M591.9 448.3h0M483.4 475.4h0M598.3 546.5h0M431.6 504.2h0M627.4 523.2h0M528.6 424.6h0M645.4 555.7h0M609.8 589.3h0M467.8 569.8h0M446.8 557.7h0M459.8 506.4h0M605.2 476.4h0M502.6 605.6h0M514.1 618h0M615.8 467.6h0M657.2 558.6h0M460 558.6h0M626.3 564.2h0M450.5 482.6h0M459.8 455.3h0M536.7 424h0M621.4 579.9h0M617.7 507.5h0M631.7 456.8h0M488.8 563.9h0M535.9 594.3h0M633.6 492h0M510.6 448.3h0M578 620.4h0M618.4 575.9h0M612.8 557.2h0M648.5 581.1h0M647.7 471.7h0M467.5 586.9h0M478.3 536.9h0M512.7 466.3h0M632.7 549.4h0M648.9 532h0M494 611.4h0M560.4 599.4h0M593.9 420.4h0M589.6 444.4h0M492.5 566.1h0M622.9 479.7h0M606.8 449.9h0M629.5 533.1h0M587.3 599h0M613.6 446.3h0M619 526.9h0M481.8 551.5h0M575.5 477.5h0M622.6 454.6h0M630.6 453.1h0M604.5 559.5h0M457.5 535.1h0M454.7 580.7h0M481.4 446.4h0M475 460.3h0M528.7 423.1h0M573.9 440.2h0M464.8 545.9h0M627 518.9h0M617.1 588.8h0M654.5 516.5h0M439.5 534.7h0M648.3 529.1h0M620.5 579.3h0M564.5 445h0M539.2 618.6h0M650.5 512.8h0M555.5 627.1h0M507.1 442.8h0M461.5 573.3h0M508.3 457.4h0M592.2 436.8h0M598.7 461.5h0M644.7 536.9h0M478.2 556.5h0M450.8 470.3h0M502.8 434.2h0M473.8 617.8h0M450.4 495.7h0M446.9 534.2h0M581 440.8h0M550.9 628.1h0M631.5 582.3h0M666.3 552.8h0M609.3 607.7h0M594.2 469.7h0M513.2 437.6h0M483.2 598h0M511.8 451.1h0M621.8 622.3h0M437.7 503.5h0M496.9 590.1h0M519 583.9h0M440.8 494.9h0M593.7 471.1h0M444.9 522.5h0M645.3 507.9h0M508.5 459.5h0M452 519.5h0M460.6 563.3h0M481.3 604.2h0M480.6 449.4h0M605 475.2h0M591.6 424.3h0M521.9 460.5h0M465.8 561.9h0M624.3 497.4h0M533.3 447h0M452.2 564.8h0M621.1 498.7h0M568.4 439.3h0M634.7 561.4h0M629.3 506.5h0M595 460.4h0M447.3 499.9h0M633.1 509.5h0M479.7 612h0M486.4 454.1h0M573.8 453.2h0M595.1 447h0M608.4 513h0M573.3 440.7h0M627.8 546.1h0M508.6 429.8h0M590.8 604.4h0M604 582.7h0M519.2 607.6h0M631.5 574.7h0M524.8 610.6h0M463.8 499.9h0M478.1 431.1h0M473.9 613h0M473.1 593.8h0M614 625.1h0M460.7 545.5h0M500 600.4h0M539.6 464.6h0M465.6 533.4h0M512.7 611.8h0M628.2 464.5h0M473.1 569.2h0M643 541.9h0M477.7 574.1h0M590.3 463.3h0M606.2 469.8h0M598.6 625.3h0M549.7 605.9h0M646.3 558.2h0M572.1 595.7h0M513.9 434h0M539.4 618.2h0M470.2 527.3h0M645.6 518h0M603.6 484.3h0M595 443.1h0M466 543.4h0M580.8 617.7h0M467.3 554.4h0M467.5 527.5h0M478 582.9h0M638.8 523.4h0M506.7 587.9h0M596.6 588.2h0M472.1 509.5h0M509 610.6h0M471.1 501.3h0M592 568.1h0M614.9 605.4h0M610.9 525h0M566.3 652.1h0M502.5 425.6h0M511.9 458.7h0" stroke="#f2e33c" stroke-width="1.9" stroke-linecap="round" fill="none"/>
<path d="M446.7 503h0M511.3 438.2h0M477.6 443.8h0M479.2 462.7h0M622.7 617.2h0M625 546h0M454 506.5h0M494.8 401.6h0M502.1 444.4h0M475.8 439.7h0M460.5 486.4h0M462.4 576.8h0M534.2 598.6h0M477.4 588.3h0M574.3 432.5h0M619.4 530.9h0M630.4 482.2h0M552.4 466.8h0M651.9 521.4h0M624.4 594.7h0M546 612.7h0M476.6 463.4h0M594.8 449h0M453.3 560.4h0M535 412.7h0M464.2 475.8h0M637.2 517.5h0M500.9 606.4h0M522.9 450.5h0M457.3 468h0M485.1 579.7h0M647.4 540.6h0M580.9 480h0M455.9 542.9h0M456.8 433.1h0M480.1 509.4h0M540.6 632.4h0M523.9 618h0M447.8 541.6h0M478.7 497.1h0M616.1 495.2h0M570.2 599.2h0M464.2 529h0M535.3 604.6h0M510.5 441h0M532.1 618h0M471.3 571.4h0M532.8 416.6h0M603.6 592.8h0M550.6 638.3h0M569.6 636.7h0M666.4 483.3h0M564.2 444.8h0M519.9 583.3h0M463.1 497.6h0M622.7 582h0M440.6 560.2h0M521.3 465.4h0M601.6 610.4h0M467 537.4h0M633.2 535.8h0M455 575.4h0M477.7 470.5h0M600.9 458h0M462.3 484.2h0M575.8 627.6h0M547.6 594.3h0M589.6 618h0M609.6 469.4h0M419.2 533.5h0M573.1 422.2h0M619.4 519.5h0M553.1 622.9h0M474 510h0M565.6 608.4h0M505.2 441h0M625.9 573.2h0M570.4 602.6h0M532.8 632.3h0M631.1 482.2h0M562.5 441.3h0M591.8 616h0M598.9 595.5h0M575.1 469.5h0M516.2 436.5h0M630.5 549.1h0M505.2 586.7h0M463.2 565h0M511.4 431.3h0M489.7 584.4h0M589.6 478.4h0M488.2 569.5h0M589.6 453.4h0M511.4 617.8h0M453.3 554.3h0M619.9 515.5h0M656 561.6h0M564.5 625.5h0M445.2 548.2h0M512 594.8h0M457.6 523.2h0M482.3 490.7h0M594.9 446.1h0M479.4 494.5h0M506.1 614.8h0M529.6 438.8h0M509.5 404h0M666.3 521.9h0M482.4 593.9h0M571.5 644.8h0M653.2 554.6h0M451.2 517.6h0M470.1 467.7h0M543.8 582.8h0M475.6 580.1h0M633.4 503.8h0M468.9 561.4h0M471.5 446.4h0M573.5 449.9h0M624.9 565h0M497.7 605.4h0M620.4 542.9h0M562 656.2h0M475.8 552.9h0M644.7 499.6h0M635.9 523.3h0M568.2 590.6h0M535.3 602.5h0M442.6 486.5h0M486.8 613.9h0M648.6 574.6h0M581.2 587.9h0M533.2 593.8h0M529.4 633.2h0M481.4 513.8h0M575.7 436.5h0M551.5 618.5h0M480.9 531.7h0M610 563.3h0M580.8 608.5h0M605.9 587.1h0M561.6 606.2h0M500 492.3h0M597.2 434.6h0M460.1 508.6h0M478.2 444.1h0M491.6 591.9h0M486.3 566.2h0M522.8 619.3h0M454 525.1h0M618.8 546h0M507.6 435.3h0M644.8 478.8h0M613.1 557.1h0M484.8 582.3h0M563.3 626h0M564.8 641.6h0M599.8 444.9h0M664.3 579.8h0M537.6 439.4h0M611.2 589.4h0M606.2 454.6h0M617.6 509.4h0M634.6 460.9h0M603.2 602.9h0M489.9 586.9h0M633.9 492.4h0M566 457.6h0M435.7 454.6h0M473 461h0M472.1 537.4h0M609.8 443h0M591 485.7h0M524.7 623.4h0M616.1 530.7h0M464.1 507.4h0M502.5 474.6h0M634.7 508.6h0M615.9 590.7h0M535.3 592.6h0M601.8 542.2h0M485.7 548.2h0M525.8 583.1h0M626.7 507.3h0M412.9 536.2h0M517.4 607.2h0M519.2 439h0M563.4 455.2h0M456.3 485.6h0M452.4 556.2h0M580.2 441.1h0M498.1 436h0M666.6 497.9h0M648.3 493.6h0M643.6 521.1h0M482.2 592.4h0M621.6 581.9h0M485.4 594.4h0M484.6 552.8h0M635.8 563.1h0M615.6 574.2h0M630.5 552h0M466 433.6h0M604.6 636.1h0M617.7 557h0M442.8 522.6h0M606.6 433.3h0M637.5 535.1h0M559.4 464.1h0M603 592.3h0M434.3 508h0M448 546.8h0M602.7 591.3h0M474.7 564.9h0M438.2 494.1h0M492.5 592.4h0M608.1 475.1h0M639.3 584.2h0M480.4 452.7h0M533.3 443.7h0M469.3 599.8h0M672.5 545.8h0M639.1 571.6h0M521.2 445.3h0M629.5 582.3h0M494 603h0M477.4 505.1h0M623.6 516.4h0M521.6 413.5h0M531.1 435.5h0M492.5 612.6h0M465.7 610.1h0M648.4 587.7h0M608 461.2h0M448.3 487.8h0M607.5 584.6h0M489.1 507.8h0M606.2 448.1h0M642.5 485.7h0M612.7 473h0M494.1 587.5h0M529.5 422h0M463.8 585.1h0M582.9 619.1h0M486.4 628.5h0M571.3 442.3h0M641 520.1h0M631.9 571.7h0M479.7 584h0M614.3 476.2h0M554.5 601.6h0M517 455.8h0M613.5 576.5h0M618.8 532.9h0M442.5 610h0M489.4 604.5h0M467.8 562.6h0M557 449h0M641.1 520.5h0M485.3 565.7h0M663.7 531.4h0M586.4 437.8h0M638.8 517.9h0M535.1 443.1h0M580.3 593.9h0M461.8 599.1h0M524.5 605.4h0M479 510.9h0M634 571.9h0M507 621.9h0M469.1 489h0M532.8 617.4h0M606.4 566.1h0M448.4 529.2h0M607.5 587h0M649.9 569.7h0M493.8 458.2h0M588 476.7h0M644 494.3h0M652.8 505.8h0M513.1 446.3h0M481.6 482.5h0M604.5 504.6h0M662.3 468.4h0M463.5 511.1h0M475.9 482.1h0M562.8 626.5h0M577 592.8h0M539 604.5h0M464.1 479.2h0M456.6 596.5h0M460.2 478.7h0M642 566.2h0M536.2 451.3h0M564.5 443.4h0M618 587.3h0M619.1 535.4h0M498.3 602.4h0M506.6 443.8h0M637.1 588.9h0M511.4 449.2h0M469.8 562.6h0M640 507h0M450.5 557.3h0M468.2 466.3h0M616.1 549.4h0M613 516.7h0M634.8 474.1h0M625.7 517.7h0M603.8 457.6h0M620.9 527.7h0M525.1 629.3h0M631.3 476.8h0M459.4 509.4h0M584.9 447h0M467.7 564.1h0M502.4 577.6h0M625.6 462.3h0M613.9 547.3h0M627.4 512.5h0M637.7 561.2h0M475.7 463.8h0M623.9 502.2h0M515 430.5h0M519.7 614.3h0M448.3 499h0M615.9 449.3h0M502.7 626.2h0M485.6 618.7h0M485.2 597.3h0M535 591.6h0M430 576.1h0M656.1 484.5h0M446.8 561.4h0" stroke="#f2e33c" stroke-width="2.6" stroke-linecap="round" fill="none"/>
<path d="M478.6 475.4h0M482.7 509.1h0M636.9 586.6h0M637.7 490.2h0M467.3 581.8h0M520.1 444.7h0M634 499.6h0M471.8 531.3h0M477.4 572.5h0M559.6 601.7h0M453.1 496.2h0M611.2 591h0M578.1 586.9h0M603.5 428.5h0M614.7 574.9h0M602.3 471.8h0M458.3 447.8h0M509.7 639.8h0M638.7 485.1h0M495.2 464.6h0M593.2 447.7h0M599.8 600.4h0M512.4 453.3h0M489.2 633h0M616.4 455.9h0M476 581.1h0M469.2 520h0M668 545.2h0M530 631.5h0M491.2 445.2h0M671.6 496.2h0M659.7 483.3h0M613.9 609.5h0M504.9 428.5h0M464.8 587.2h0M590.1 488.7h0M470.1 486.7h0M482.8 474.8h0M494.6 602.8h0M592.1 486.3h0M510.8 610.8h0M624.5 556.2h0M468.3 510.5h0M624 625.4h0M614.9 487.7h0M590.6 586.2h0M614.4 598.8h0M441.1 538.3h0M529.7 434.9h0M446.5 541.8h0M467.6 607.2h0M570 615.7h0M536.6 601.6h0M469.1 548.6h0M470.4 511h0M532.8 463.2h0M494 547.3h0M625.4 595.7h0M504.7 406.1h0M592 432.3h0M500.1 610.8h0M471 501.4h0M573.9 612.2h0M591.3 445.2h0M461.8 572.6h0M473.6 598h0M477.2 561.1h0M533.4 603.1h0M648.9 605.7h0M455.2 526.9h0M433.6 499h0M649.6 519.8h0M563.4 642.3h0M601.9 617.4h0M474.5 579.7h0M647.3 529h0M533.3 605.2h0M605.2 560.9h0M577 460.9h0M470.6 432.2h0M631.6 586.5h0M611.8 573.7h0M498 611h0M624.7 569.7h0M614 504.6h0M614.6 579.3h0M475.3 468.6h0M570.3 447.6h0M637.8 525.7h0M629.6 470h0M622.8 600.5h0M564.7 621.8h0M522.3 619.5h0M506 604.7h0M595.7 591.6h0M440 519.4h0M524.1 580.6h0M596.9 590.9h0M578.1 605.4h0M594.9 599.7h0M541.8 615.8h0M615 471.3h0M490.9 591.1h0M477.6 473.2h0M614.9 513.5h0M445.9 522.4h0M642 464.2h0M468 484.8h0M427.9 460h0M521.9 422.5h0M489.4 545.7h0M454 509.9h0M445.4 541.8h0M620.4 516.5h0M469.7 586.3h0M521.7 603.6h0M502.9 409.1h0M468.6 462.1h0M453.5 547.5h0M619.6 562.6h0M561.7 609.3h0M627.8 479.1h0M482 586.1h0M463.6 538.2h0M576.5 466.3h0M644.4 545.1h0M565.4 582.3h0M527.5 440.8h0M427.4 528.3h0M477.2 588.2h0M458.1 460.8h0M462.7 554.5h0M606.7 504.7h0M439.4 582.5h0M631 488.5h0M483.6 600.6h0M524.2 629.9h0M628.1 565.5h0M636.5 449.1h0M490.3 445.4h0M437.6 494.9h0M453.8 440.6h0M627.9 512.8h0M619.6 592.6h0M473.6 469.3h0M487.6 438.6h0M493.6 599.2h0M467.6 557.6h0M641.9 571.7h0M569.4 601h0M560.3 428.2h0M522.7 450.3h0M637.6 495.4h0M604.1 474.9h0M596.7 586.8h0M561.3 430.3h0M572.9 438.6h0M593.2 443.7h0M572.8 627.4h0M569.7 441.2h0M497.4 443.8h0M474.5 566.3h0M611.5 455.6h0M461.9 599.9h0M599 471.2h0M455.1 567.5h0M480.2 496.7h0M514.8 436.2h0M653.1 445.8h0M466.7 470.1h0M648.3 491h0M619 584.4h0M490 465.7h0M457.2 516.3h0M550.4 605.6h0M496.5 609.7h0M607.6 571.2h0M461.9 617.6h0M570.4 434.1h0M484 452.7h0M490.8 431.9h0M495.8 588.1h0M629.2 543.1h0M587.5 441.7h0M497 461.5h0M489.9 618.4h0M463.8 575.3h0M488.4 564.5h0M493.3 588h0M565.8 448.2h0M626.2 501.9h0M473 456.9h0M510.2 437.9h0M427 527.7h0M634.1 553.2h0M620.6 567.8h0M479.4 458.1h0M492 465.2h0M643.3 551.8h0M589.9 607.2h0M465.5 492.8h0M529.5 599.4h0M465 457.2h0M594.2 448h0M489.8 447.2h0M598.2 587.7h0M604.3 617.1h0M491.1 482.1h0M478.5 567.8h0M644.6 551.7h0M615 575.7h0M502.1 413.7h0M608.2 568.6h0M606.3 484.6h0M566.3 595.7h0M623.7 464.2h0M661.4 487.1h0M438.5 553.2h0M616.4 561.6h0M633.3 539h0M595.6 616.2h0M532.3 606.3h0M537.7 642.2h0M609.5 461.9h0M528 466.6h0M476.3 527h0M440.2 520.9h0M605.9 626.1h0M567.4 450.3h0M569.3 645h0M463.1 538.1h0M625.9 457.7h0M613.3 467.3h0M638.4 588.9h0M439.1 536.8h0M582.9 617.5h0M504.1 428.5h0M587.7 479.4h0M495.8 592.2h0M635.2 566.3h0M468 569.7h0M498.9 426.9h0M434.1 528.9h0M609.2 562.3h0M621.1 474.7h0M481.8 486.6h0M635.6 525.6h0M467.2 469.1h0M629.2 584.8h0M638.8 588.4h0M618 480.3h0M615.1 559.1h0M483.9 462.1h0M536.1 434h0M512.8 634h0M537.4 612.1h0M604.9 462.8h0M511.6 466.4h0M463.4 508.4h0M632.7 561.7h0M594.6 444h0M561.5 608h0M452 521.1h0M548.4 611.6h0M508.5 458.7h0M477.9 566.5h0M616.7 604.8h0M604.2 553.2h0M444.4 583.8h0M610.8 562.3h0M591.7 613.5h0M482.1 583.3h0M637.2 535.1h0M642.1 524.2h0M445.7 559.4h0M640 564.4h0M652.9 505.8h0M459.5 600.8h0M572.8 422.5h0M509.8 440.7h0M599.4 454.3h0M453.3 604.9h0M621.4 522h0M620.6 580.7h0M474.7 610.3h0M609.1 492.2h0M629.7 533.7h0M569.3 609h0M617.3 577.4h0M556.4 449.7h0M455 551h0M545.5 621.7h0M623.2 472.9h0M479.7 574.1h0M615.5 604.4h0M633.2 429h0M489.2 604.2h0M554.9 594.9h0M605.8 514.8h0M640.9 524.3h0M516.4 589.8h0M480.6 475.1h0M472.1 542.7h0M497 605.2h0M588.3 458.8h0M462.4 454.5h0M635.6 569.7h0M492.7 596h0M527.5 445.8h0M594.2 476.6h0M618.9 563.6h0M651 512.4h0M474.8 611.5h0M571.1 617.2h0M527.8 444.7h0M612.6 499h0M473.7 496.5h0M452 569.8h0M513.1 614.6h0M524.1 430.2h0M624.9 484.1h0M503.8 627.3h0M444.8 520.7h0M641.5 579.7h0M512.7 577h0M611.4 585.5h0M466.6 574.8h0M577.3 473.7h0M465.5 527.5h0M437.6 554.2h0M470.9 498.2h0M488.3 442h0M603.8 439h0M482 583.6h0M520.9 614.9h0M440.7 587.3h0M601.4 499h0M536.3 599.2h0M489.5 456.6h0M568.1 472.9h0M649.8 456.6h0M451.8 564.5h0M454.3 580.1h0M466.9 545.3h0M447.5 496.7h0M656.1 471.8h0M515.9 593.9h0M586.5 578h0M512.6 602.7h0M632.9 545.5h0M597.4 473.7h0M445.5 475.3h0M629.9 488.8h0M488.9 468.5h0M574.2 452.3h0M652.5 483.8h0M470.8 427.8h0M495.6 636.6h0M613 581.7h0M633.2 440.7h0M540.5 612.8h0M617.3 506.3h0M460.8 535.2h0M472.7 485.8h0M631.8 489h0M466.8 497.9h0M575.9 426.4h0M466.9 475.5h0M509.6 475.2h0M527.5 422.7h0M461 465.4h0M610.6 594.5h0M470.6 543.8h0M575 438h0M588.5 564h0M583.5 452.9h0M468.8 551.9h0M441.3 554.4h0M611 543.2h0M528 623.9h0M557.6 601.6h0M607.4 593.2h0M604.9 584.4h0M600.5 462h0M459.7 516.1h0M479.2 609h0M627.5 503.7h0M475.6 491h0M522.2 613.3h0M462.5 463h0M563.7 438.1h0M646.6 515.6h0M491.7 428.7h0M632.5 537.5h0" stroke="#f2e33c" stroke-width="2.2" stroke-linecap="round" fill="none"/>
<g font-size="20" font-weight="bold" fill="#111" text-anchor="middle"><text x="545.5" y="104.2">A</text><text x="545.5" y="140.2">B</text><text x="545.5" y="176.2">C</text><text x="545.5" y="214.2">D</text><text x="545.5" y="262.2">E</text><text x="545.5" y="314.2">F</text><text x="545.5" y="361.2">G</text><text x="545.5" y="414.2">H</text></g>
<g fill="#5b9bd5"><rect x="65" y="1199.6" width="14.0" height="234.9"/><rect x="95.7" y="1304.1" width="14.0" height="130.4"/><rect x="126.5" y="1287.4" width="14.0" height="147.1"/><rect x="157.2" y="1371.7" width="14.0" height="62.8"/><rect x="187.9" y="1378.8" width="14.0" height="55.7"/><rect x="218.7" y="1389.5" width="14.0" height="45"/><rect x="249.4" y="1405" width="14.0" height="29.5"/><rect x="280.1" y="1418" width="14.0" height="16.5"/><rect x="310.8" y="1418" width="14.0" height="16.5"/><rect x="341.6" y="1426.3" width="14.0" height="8.2"/><rect x="372.3" y="1429.9" width="14.0" height="4.6"/><rect x="403" y="1433.3" width="14.0" height="1.2"/><rect x="433.8" y="1431.1" width="14.0" height="3.4"/><rect x="464.5" y="1433.3" width="14.0" height="1.2"/><rect x="526" y="1433.3" width="14.0" height="1.2"/><rect x="556.7" y="1433.3" width="14.0" height="1.2"/><rect x="587.4" y="1433.3" width="14.0" height="1.2"/><rect x="618.1" y="1371.7" width="14.0" height="62.8"/><rect x="648.9" y="1388.3" width="14.0" height="46.2"/><rect x="679.6" y="1433.3" width="14.0" height="1.2"/><rect x="710.3" y="1209.1" width="14.0" height="225.4"/><rect x="741.1" y="1395.5" width="14.0" height="39"/><rect x="771.8" y="1422.8" width="14.0" height="11.7"/><rect x="802.5" y="1426.3" width="14.0" height="8.2"/><rect x="833.2" y="1433.3" width="14.0" height="1.2"/><rect x="864" y="1430.5" width="14.0" height="4"/><rect x="986.9" y="1433.3" width="14.0" height="1.2"/><rect x="1017.6" y="1433.3" width="14.0" height="1.2"/><rect x="1048.4" y="1433.3" width="14.0" height="1.2"/></g>
<g fill="#e07b39"><rect x="79" y="1187.7" width="14.0" height="246.8"/><rect x="109.7" y="1253" width="14.0" height="181.5"/><rect x="140.5" y="1312.4" width="14.0" height="122.1"/><rect x="171.2" y="1333.7" width="14.0" height="100.8"/><rect x="201.9" y="1364.6" width="14.0" height="69.9"/><rect x="232.7" y="1409.7" width="14.0" height="24.8"/><rect x="263.4" y="1407.9" width="14.0" height="26.6"/><rect x="294.1" y="1415" width="14.0" height="19.5"/><rect x="324.8" y="1420.4" width="14.0" height="14.1"/><rect x="355.6" y="1428.1" width="14.0" height="6.4"/><rect x="386.3" y="1429.9" width="14.0" height="4.6"/><rect x="417" y="1429.9" width="14.0" height="4.6"/><rect x="447.8" y="1431.1" width="14.0" height="3.4"/><rect x="478.5" y="1433.3" width="14.0" height="1.2"/><rect x="509.2" y="1433.3" width="14.0" height="1.2"/><rect x="632.1" y="1381.2" width="14.0" height="53.3"/><rect x="662.9" y="1372.9" width="14.0" height="61.6"/><rect x="724.3" y="1264.9" width="14.0" height="169.6"/><rect x="755.1" y="1414.4" width="14.0" height="20.1"/><rect x="785.8" y="1425.1" width="14.0" height="9.4"/><rect x="816.5" y="1431.1" width="14.0" height="3.4"/><rect x="847.2" y="1428.1" width="14.0" height="6.4"/><rect x="878" y="1429.9" width="14.0" height="4.6"/><rect x="908.7" y="1433.3" width="14.0" height="1.2"/><rect x="939.4" y="1433.3" width="14.0" height="1.2"/><rect x="970.2" y="1433.3" width="14.0" height="1.2"/></g>
<g font-size="18.3" fill="#222"><text transform="translate(85 1478) rotate(-69.5)" text-anchor="end">cellular process</text><text transform="translate(115.7 1478) rotate(-69.5)" text-anchor="end">biological regulation</text><text transform="translate(146.5 1478) rotate(-69.5)" text-anchor="end">metabolic process</text><text transform="translate(177.2 1478) rotate(-69.5)" text-anchor="end">response to stimulus</text><text transform="translate(207.9 1478) rotate(-69.5)" text-anchor="end">developmental process</text><text transform="translate(238.7 1478) rotate(-69.5)" text-anchor="end">localization</text><text transform="translate(269.4 1478) rotate(-69.5)" text-anchor="end">reproductive process</text><text transform="translate(300.1 1478) rotate(-69.5)" text-anchor="end">biological process in interspecies interaction</text><text transform="translate(330.8 1478) rotate(-69.5)" text-anchor="end">multicellular organismal process</text><text transform="translate(361.6 1478) rotate(-69.5)" text-anchor="end">immune system process</text><text transform="translate(392.3 1478) rotate(-69.5)" text-anchor="end">growth</text><text transform="translate(423 1478) rotate(-69.5)" text-anchor="end">rhythmic process</text><text transform="translate(453.8 1478) rotate(-69.5)" text-anchor="end">reproduction</text><text transform="translate(484.5 1478) rotate(-69.5)" text-anchor="end">detoxification</text><text transform="translate(515.2 1478) rotate(-69.5)" text-anchor="end">pigmentation</text><text transform="translate(546 1478) rotate(-69.5)" text-anchor="end">viral process</text><text transform="translate(576.7 1478) rotate(-69.5)" text-anchor="end">biological phase</text><text transform="translate(607.4 1478) rotate(-69.5)" text-anchor="end">biological process in intraspecies interaction</text><text transform="translate(638.1 1478) rotate(-69.5)" text-anchor="end">protein-containing complex</text><text transform="translate(668.9 1478) rotate(-69.5)" text-anchor="end">cellular anatomical entity</text><text transform="translate(699.6 1478) rotate(-69.5)" text-anchor="end">virion component</text><text transform="translate(730.3 1478) rotate(-69.5)" text-anchor="end">catalytic activity</text><text transform="translate(761.1 1478) rotate(-69.5)" text-anchor="end">binding</text><text transform="translate(791.8 1478) rotate(-69.5)" text-anchor="end">ATP-dependent activity</text><text transform="translate(822.5 1478) rotate(-69.5)" text-anchor="end">transporter activity</text><text transform="translate(853.2 1478) rotate(-69.5)" text-anchor="end">antioxidant activity</text><text transform="translate(884 1478) rotate(-69.5)" text-anchor="end">molecular function regulator activity</text><text transform="translate(914.7 1478) rotate(-69.5)" text-anchor="end">structural molecule activity</text><text transform="translate(945.4 1478) rotate(-69.5)" text-anchor="end">molecular transducer activity</text><text transform="translate(976.2 1478) rotate(-69.5)" text-anchor="end">protein-containing complex destabilizing activity</text><text transform="translate(1006.9 1478) rotate(-69.5)" text-anchor="end">cytoskeletal motor activity</text><text transform="translate(1037.6 1478) rotate(-69.5)" text-anchor="end">cargo receptor activity</text><text transform="translate(1068.4 1478) rotate(-69.5)" text-anchor="end">transcription regulator activity</text></g>
<path d="M55 1133.5V1437.6H1078.5" fill="none" stroke="#1a1a1a" stroke-width="1.35"/>
<path d="M47.8 1437H55M47.8 1377.7H55M47.8 1318.3H55M47.8 1259H55M47.8 1199.6H55M47.8 1140.2H55" stroke="#1a1a1a" stroke-width="1.35"/>
<g font-size="18" fill="#222"><text x="35.5" y="1443.3" text-anchor="end">0</text><text x="35.5" y="1384" text-anchor="end">5</text><text x="35.5" y="1324.6" text-anchor="end">10</text><text x="35.5" y="1265.2" text-anchor="end">15</text><text x="35.5" y="1205.9" text-anchor="end">20</text><text x="35.5" y="1146.5" text-anchor="end">25</text></g>
<text x="0.6" y="1120" font-size="21" font-weight="bold" fill="#111">I</text>
<text x="36" y="1120" font-size="17.6" fill="#222">%</text>
<rect x="55" y="1440.8" width="555" height="22" fill="#e60012"/>
<rect x="615" y="1440.8" width="89" height="22" fill="#7f2d91"/>
<rect x="708" y="1440.8" width="371" height="22" fill="#00a04a"/>
<g font-size="17" fill="#fff" text-anchor="middle"><text x="333" y="1458.5">BP</text><text x="659.5" y="1458.5">CC</text><text x="893" y="1458.5">MF</text></g>
<rect x="964" y="1211" width="15" height="15" fill="#5b9bd5"/><rect x="964" y="1249" width="15" height="15" fill="#e07b39"/>
<g font-size="17.9" fill="#222"><text x="1003.5" y="1225">HY4P</text><text x="1003.5" y="1263">HY4A</text></g></svg>
</body></html>
